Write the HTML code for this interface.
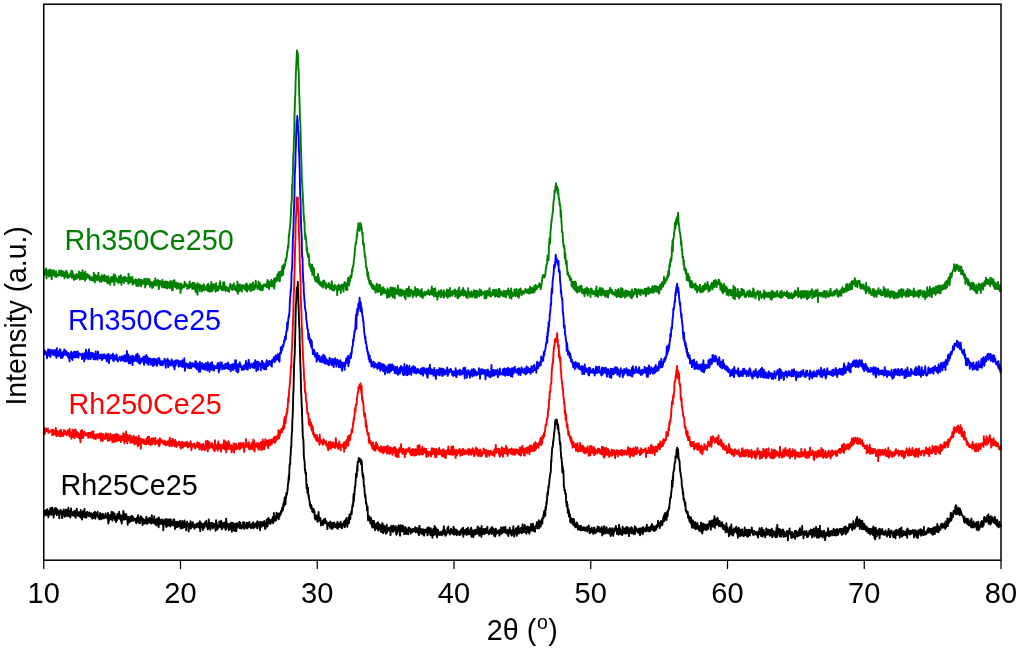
<!DOCTYPE html>
<html><head><meta charset="utf-8"><style>
html,body{margin:0;padding:0;background:#fff;width:1024px;height:649px;overflow:hidden}
svg{display:block;font-family:"Liberation Sans", sans-serif;will-change:transform}
</style></head><body>
<svg width="1024" height="649" viewBox="0 0 1024 649">
<rect width="1024" height="649" fill="#fff"/>
<polyline fill="none" stroke="#008000" stroke-width="1.9" stroke-linejoin="round" points="43.8,269.4 44.0,275.6 44.3,270.7 44.6,272.1 44.8,272.6 45.1,271.1 45.4,269.7 45.7,274.3 45.9,273.7 46.2,268.4 46.5,278.3 46.8,275.2 47.0,271.2 47.3,275.1 47.6,272.0 47.9,272.9 48.1,274.9 48.4,270.2 48.7,274.5 48.9,276.4 49.2,276.2 49.5,272.5 49.8,275.3 50.0,269.5 50.3,272.9 50.6,274.4 50.9,270.3 51.1,273.2 51.4,277.4 51.7,279.4 52.0,275.2 52.2,275.4 52.5,271.3 52.8,270.7 53.0,270.3 53.3,274.8 53.6,275.3 53.9,272.1 54.1,270.8 54.4,274.3 54.7,274.4 55.0,273.4 55.2,276.7 55.5,273.6 55.8,273.7 56.1,271.3 56.3,274.2 56.6,277.0 56.9,274.1 57.2,274.1 57.4,275.0 57.7,274.6 58.0,275.2 58.2,275.3 58.5,275.5 58.8,272.3 59.1,274.8 59.3,270.5 59.6,274.8 59.9,271.3 60.2,274.1 60.4,275.3 60.7,273.3 61.0,274.5 61.3,270.6 61.5,272.4 61.8,276.0 62.1,271.8 62.3,275.9 62.6,271.3 62.9,272.4 63.2,272.0 63.4,274.6 63.7,275.8 64.0,272.1 64.3,274.2 64.5,278.4 64.8,273.9 65.1,272.8 65.4,275.6 65.6,274.2 65.9,273.2 66.2,270.7 66.5,276.7 66.7,273.5 67.0,274.9 67.3,272.5 67.5,277.9 67.8,276.7 68.1,277.2 68.4,274.8 68.6,276.1 68.9,277.1 69.2,277.4 69.5,275.8 69.7,275.0 70.0,274.3 70.3,273.5 70.6,273.0 70.8,276.1 71.1,274.7 71.4,270.7 71.6,275.0 71.9,277.8 72.2,274.7 72.5,271.1 72.7,275.1 73.0,277.3 73.3,276.0 73.6,274.5 73.8,279.8 74.1,279.9 74.4,275.4 74.7,277.5 74.9,276.5 75.2,277.5 75.5,279.0 75.7,277.6 76.0,275.9 76.3,274.3 76.6,273.9 76.8,275.8 77.1,278.5 77.4,276.6 77.7,276.0 77.9,276.5 78.2,276.0 78.5,277.2 78.8,273.4 79.0,271.5 79.3,275.1 79.6,273.4 79.9,279.8 80.1,275.8 80.4,275.6 80.7,272.7 80.9,276.9 81.2,274.8 81.5,278.8 81.8,278.2 82.0,274.5 82.3,277.3 82.6,270.1 82.9,274.8 83.1,279.3 83.4,278.3 83.7,276.9 84.0,276.4 84.2,273.3 84.5,273.4 84.8,277.1 85.0,280.7 85.3,271.6 85.6,278.1 85.9,278.1 86.1,278.9 86.4,274.7 86.7,275.5 87.0,276.9 87.2,274.5 87.5,274.0 87.8,274.8 88.1,276.7 88.3,277.8 88.6,276.9 88.9,277.1 89.2,275.4 89.4,275.4 89.7,279.6 90.0,276.9 90.2,276.9 90.5,279.3 90.8,280.0 91.1,280.1 91.3,278.1 91.6,277.1 91.9,277.9 92.2,277.7 92.4,280.5 92.7,278.0 93.0,278.8 93.3,277.3 93.5,280.6 93.8,272.7 94.1,278.3 94.3,279.2 94.6,274.8 94.9,282.5 95.2,277.2 95.4,277.2 95.7,275.1 96.0,279.7 96.3,278.2 96.5,276.3 96.8,278.2 97.1,279.3 97.4,280.6 97.6,278.3 97.9,275.6 98.2,276.6 98.4,272.6 98.7,276.2 99.0,279.6 99.3,279.0 99.5,277.7 99.8,277.2 100.1,281.7 100.4,278.7 100.6,280.2 100.9,279.0 101.2,276.6 101.5,281.7 101.7,275.3 102.0,275.5 102.3,277.3 102.6,276.6 102.8,277.0 103.1,276.9 103.4,280.6 103.6,278.5 103.9,279.2 104.2,274.8 104.5,276.5 104.7,281.0 105.0,275.7 105.3,281.2 105.6,276.2 105.8,279.3 106.1,276.7 106.4,279.1 106.7,276.6 106.9,278.1 107.2,282.6 107.5,277.9 107.7,283.4 108.0,277.7 108.3,276.1 108.6,279.0 108.8,277.9 109.1,282.9 109.4,280.9 109.7,281.7 109.9,280.4 110.2,284.7 110.5,280.8 110.8,280.3 111.0,277.2 111.3,277.0 111.6,279.5 111.9,281.4 112.1,281.7 112.4,277.0 112.7,280.5 112.9,279.7 113.2,276.7 113.5,280.5 113.8,274.1 114.0,280.0 114.3,285.1 114.6,277.1 114.9,279.5 115.1,275.1 115.4,277.8 115.7,281.3 116.0,277.1 116.2,279.5 116.5,278.8 116.8,278.7 117.0,280.1 117.3,280.8 117.6,282.5 117.9,281.6 118.1,278.4 118.4,283.0 118.7,282.7 119.0,276.2 119.2,281.4 119.5,281.8 119.8,282.1 120.1,281.2 120.3,277.0 120.6,279.4 120.9,275.2 121.2,279.7 121.4,284.7 121.7,281.7 122.0,282.0 122.2,279.0 122.5,277.8 122.8,277.7 123.1,280.5 123.3,278.4 123.6,278.8 123.9,282.9 124.2,276.6 124.4,277.3 124.7,279.2 125.0,280.2 125.3,280.1 125.5,277.2 125.8,280.9 126.1,280.2 126.3,281.4 126.6,278.1 126.9,281.2 127.2,281.1 127.4,279.1 127.7,280.2 128.0,279.4 128.3,283.8 128.5,273.6 128.8,277.4 129.1,276.9 129.4,280.0 129.6,279.3 129.9,279.9 130.2,282.6 130.4,277.2 130.7,279.0 131.0,280.5 131.3,278.3 131.5,281.9 131.8,281.8 132.1,279.5 132.4,277.0 132.6,284.8 132.9,282.3 133.2,282.2 133.5,281.4 133.7,281.2 134.0,283.2 134.3,281.3 134.6,279.9 134.8,283.0 135.1,281.5 135.4,279.6 135.6,279.4 135.9,284.1 136.2,282.9 136.5,286.1 136.7,280.3 137.0,279.9 137.3,282.5 137.6,284.8 137.8,283.0 138.1,282.7 138.4,286.0 138.7,280.0 138.9,278.9 139.2,280.1 139.5,281.1 139.7,282.7 140.0,284.2 140.3,282.8 140.6,285.4 140.8,280.0 141.1,286.4 141.4,280.1 141.7,284.7 141.9,279.9 142.2,282.9 142.5,282.2 142.8,283.3 143.0,283.9 143.3,281.7 143.6,282.1 143.9,282.8 144.1,279.3 144.4,280.6 144.7,278.6 144.9,282.3 145.2,287.5 145.5,284.1 145.8,280.4 146.0,280.8 146.3,284.7 146.6,281.4 146.9,278.8 147.1,280.2 147.4,280.1 147.7,280.3 148.0,284.2 148.2,282.8 148.5,279.3 148.8,281.5 149.0,280.1 149.3,280.0 149.6,279.3 149.9,286.8 150.1,282.1 150.4,284.2 150.7,284.9 151.0,282.0 151.2,284.2 151.5,284.2 151.8,283.5 152.1,288.0 152.3,283.7 152.6,282.5 152.9,284.6 153.1,287.2 153.4,285.4 153.7,282.1 154.0,281.2 154.2,281.1 154.5,281.7 154.8,284.2 155.1,285.3 155.3,278.1 155.6,283.3 155.9,280.8 156.2,285.0 156.4,285.5 156.7,281.7 157.0,282.5 157.3,281.3 157.5,284.4 157.8,279.9 158.1,281.0 158.3,282.0 158.6,286.5 158.9,289.2 159.2,283.7 159.4,280.9 159.7,283.9 160.0,281.8 160.3,284.9 160.5,281.3 160.8,283.0 161.1,283.9 161.4,285.1 161.6,283.8 161.9,286.9 162.2,284.3 162.4,279.8 162.7,286.2 163.0,283.4 163.3,282.6 163.5,287.6 163.8,281.9 164.1,284.3 164.4,282.6 164.6,287.3 164.9,283.4 165.2,284.8 165.5,281.1 165.7,287.6 166.0,281.9 166.3,286.5 166.6,287.0 166.8,287.3 167.1,288.6 167.4,281.8 167.6,285.4 167.9,284.9 168.2,285.5 168.5,287.1 168.7,284.9 169.0,282.8 169.3,284.4 169.6,288.2 169.8,282.0 170.1,284.9 170.4,282.5 170.7,287.3 170.9,281.0 171.2,284.1 171.5,284.6 171.7,285.2 172.0,290.4 172.3,288.5 172.6,282.6 172.8,290.0 173.1,282.3 173.4,280.7 173.7,281.6 173.9,285.6 174.2,286.4 174.5,280.1 174.8,286.2 175.0,284.6 175.3,286.9 175.6,284.4 175.9,287.4 176.1,286.6 176.4,282.6 176.7,288.7 176.9,285.9 177.2,287.1 177.5,288.3 177.8,283.2 178.0,285.3 178.3,283.6 178.6,283.4 178.9,286.2 179.1,286.4 179.4,288.7 179.7,288.8 180.0,285.6 180.2,283.8 180.5,293.1 180.8,290.7 181.0,285.5 181.3,283.6 181.6,284.8 181.9,286.5 182.1,288.5 182.4,288.1 182.7,286.9 183.0,285.4 183.2,286.4 183.5,285.3 183.8,286.2 184.1,285.8 184.3,287.3 184.6,281.8 184.9,285.3 185.1,285.5 185.4,283.6 185.7,285.8 186.0,283.8 186.2,284.7 186.5,285.6 186.8,285.7 187.1,285.0 187.3,288.9 187.6,286.8 187.9,287.1 188.2,287.0 188.4,284.9 188.7,284.4 189.0,288.4 189.3,285.7 189.5,282.5 189.8,281.5 190.1,287.1 190.3,284.9 190.6,286.5 190.9,285.4 191.2,285.8 191.4,286.3 191.7,283.9 192.0,286.7 192.3,289.1 192.5,288.4 192.8,282.8 193.1,283.8 193.4,283.8 193.6,286.3 193.9,288.9 194.2,287.7 194.4,283.0 194.7,287.1 195.0,288.9 195.3,286.0 195.5,291.5 195.8,285.6 196.1,289.8 196.4,292.6 196.6,284.3 196.9,286.5 197.2,288.6 197.5,294.7 197.7,283.2 198.0,288.6 198.3,288.0 198.6,286.4 198.8,285.5 199.1,286.2 199.4,286.7 199.6,284.5 199.9,291.1 200.2,284.9 200.5,286.5 200.7,286.0 201.0,286.6 201.3,287.7 201.6,285.8 201.8,287.0 202.1,291.5 202.4,290.0 202.7,286.9 202.9,289.6 203.2,285.8 203.5,288.1 203.7,284.2 204.0,284.9 204.3,285.5 204.6,290.4 204.8,288.1 205.1,288.8 205.4,287.9 205.7,288.4 205.9,288.5 206.2,289.3 206.5,287.9 206.8,285.5 207.0,285.8 207.3,290.4 207.6,290.8 207.8,288.9 208.1,283.8 208.4,291.2 208.7,288.3 208.9,287.4 209.2,287.6 209.5,286.7 209.8,291.7 210.0,291.5 210.3,285.2 210.6,287.2 210.9,288.3 211.1,290.6 211.4,282.0 211.7,289.8 212.0,291.5 212.2,286.9 212.5,287.5 212.8,290.5 213.0,288.5 213.3,284.5 213.6,284.9 213.9,285.2 214.1,284.3 214.4,287.6 214.7,286.4 215.0,287.7 215.2,289.2 215.5,291.7 215.8,288.1 216.1,283.3 216.3,290.8 216.6,287.3 216.9,290.3 217.1,286.6 217.4,288.3 217.7,287.3 218.0,287.6 218.2,290.6 218.5,286.1 218.8,288.0 219.1,288.1 219.3,286.7 219.6,282.6 219.9,288.4 220.2,281.1 220.4,284.2 220.7,286.6 221.0,288.6 221.3,289.6 221.5,289.5 221.8,289.0 222.1,286.8 222.3,290.4 222.6,287.0 222.9,290.2 223.2,282.5 223.4,285.4 223.7,286.3 224.0,287.6 224.3,282.1 224.5,289.5 224.8,289.9 225.1,289.5 225.4,286.4 225.6,291.0 225.9,286.4 226.2,289.7 226.4,287.5 226.7,287.6 227.0,287.3 227.3,287.6 227.5,290.2 227.8,291.0 228.1,290.9 228.4,289.7 228.6,289.2 228.9,288.7 229.2,291.7 229.5,286.6 229.7,286.2 230.0,287.7 230.3,283.8 230.6,287.1 230.8,287.5 231.1,285.2 231.4,286.3 231.6,289.2 231.9,287.1 232.2,287.8 232.5,290.0 232.7,286.2 233.0,285.0 233.3,287.5 233.6,288.6 233.8,283.4 234.1,289.1 234.4,286.9 234.7,286.6 234.9,285.6 235.2,287.1 235.5,289.8 235.7,288.8 236.0,289.4 236.3,286.7 236.6,291.2 236.8,290.5 237.1,287.5 237.4,281.5 237.7,287.7 237.9,293.9 238.2,287.4 238.5,285.2 238.8,291.5 239.0,286.1 239.3,288.6 239.6,289.3 239.8,284.1 240.1,287.8 240.4,290.2 240.7,286.7 240.9,289.0 241.2,287.4 241.5,289.8 241.8,291.7 242.0,284.9 242.3,286.8 242.6,288.3 242.9,286.0 243.1,285.5 243.4,286.6 243.7,286.8 244.0,285.9 244.2,288.1 244.5,289.2 244.8,289.1 245.0,288.9 245.3,290.1 245.6,284.2 245.9,287.0 246.1,287.7 246.4,288.5 246.7,283.5 247.0,291.6 247.2,285.2 247.5,287.8 247.8,288.9 248.1,289.7 248.3,285.6 248.6,285.9 248.9,288.0 249.1,288.5 249.4,289.2 249.7,287.0 250.0,285.5 250.2,284.0 250.5,291.1 250.8,283.9 251.1,288.6 251.3,287.6 251.6,288.7 251.9,289.2 252.2,290.1 252.4,286.8 252.7,287.8 253.0,282.4 253.3,287.0 253.5,284.7 253.8,286.5 254.1,289.7 254.3,287.0 254.6,289.3 254.9,286.3 255.2,287.6 255.4,285.7 255.7,280.8 256.0,285.0 256.3,286.0 256.5,286.9 256.8,286.5 257.1,286.2 257.4,288.7 257.6,287.9 257.9,285.5 258.2,288.4 258.4,281.7 258.7,285.6 259.0,285.9 259.3,289.2 259.5,284.9 259.8,282.7 260.1,286.5 260.4,290.0 260.6,285.5 260.9,285.8 261.2,285.5 261.5,286.0 261.7,288.9 262.0,290.4 262.3,286.9 262.5,285.5 262.8,290.0 263.1,285.8 263.4,285.7 263.6,284.7 263.9,284.7 264.2,285.9 264.5,284.7 264.7,286.2 265.0,285.4 265.3,286.4 265.6,284.2 265.8,284.5 266.1,285.5 266.4,285.0 266.7,285.0 266.9,287.4 267.2,282.1 267.5,280.0 267.7,286.1 268.0,283.8 268.3,287.4 268.6,284.0 268.8,281.4 269.1,289.1 269.4,284.8 269.7,282.7 269.9,281.9 270.2,284.9 270.5,281.9 270.8,284.2 271.0,285.9 271.3,279.8 271.6,282.1 271.8,283.9 272.1,286.6 272.4,284.7 272.7,281.3 272.9,285.7 273.2,281.2 273.5,281.5 273.8,282.6 274.0,279.0 274.3,288.6 274.6,284.0 274.9,281.5 275.1,279.5 275.4,277.9 275.7,281.2 276.0,281.8 276.2,279.0 276.5,279.2 276.8,280.7 277.0,279.0 277.3,274.5 277.6,280.2 277.9,278.9 278.1,279.7 278.4,275.9 278.7,272.3 279.0,274.0 279.2,277.3 279.5,281.2 279.8,281.4 280.1,276.1 280.3,271.5 280.6,273.7 280.9,275.1 281.1,274.6 281.4,273.3 281.7,275.7 282.0,269.8 282.2,266.2 282.5,268.6 282.8,267.3 283.1,274.7 283.3,268.2 283.6,264.4 283.9,268.5 284.2,268.6 284.4,265.4 284.7,264.7 285.0,265.7 285.3,263.4 285.5,259.3 285.8,261.3 286.1,260.8 286.3,258.0 286.6,257.9 286.9,255.6 287.2,251.9 287.4,250.4 287.7,250.4 288.0,245.5 288.3,247.6 288.5,245.5 288.8,234.8 289.1,237.1 289.4,232.5 289.6,229.8 289.9,228.5 290.2,224.2 290.4,222.3 290.7,217.6 291.0,213.3 291.3,205.5 291.5,201.6 291.8,201.0 292.1,184.3 292.4,189.6 292.6,176.5 292.9,174.2 293.2,155.6 293.5,153.8 293.7,149.0 294.0,138.0 294.3,131.3 294.5,116.1 294.8,107.4 295.1,97.6 295.4,92.1 295.6,83.2 295.9,73.3 296.2,65.7 296.5,59.8 296.7,56.7 297.0,50.4 297.3,52.4 297.6,52.8 297.8,53.9 298.1,57.9 298.4,70.3 298.7,70.1 298.9,81.3 299.2,93.0 299.5,100.0 299.7,107.2 300.0,119.8 300.3,121.8 300.6,131.7 300.8,143.3 301.1,152.4 301.4,161.0 301.7,174.5 301.9,181.2 302.2,183.2 302.5,190.5 302.8,193.3 303.0,202.2 303.3,202.9 303.6,215.1 303.8,214.5 304.1,221.5 304.4,220.5 304.7,231.1 304.9,232.5 305.2,239.0 305.5,237.1 305.8,235.5 306.0,240.1 306.3,241.3 306.6,250.6 306.9,247.2 307.1,248.8 307.4,253.9 307.7,254.8 308.0,256.9 308.2,256.0 308.5,253.7 308.8,256.6 309.0,255.8 309.3,265.4 309.6,265.6 309.9,263.6 310.1,267.0 310.4,268.0 310.7,268.8 311.0,269.4 311.2,271.0 311.5,269.9 311.8,265.1 312.1,264.5 312.3,274.7 312.6,273.8 312.9,266.9 313.1,273.9 313.4,271.9 313.7,273.2 314.0,268.8 314.2,277.3 314.5,275.7 314.8,278.3 315.1,279.4 315.3,280.2 315.6,281.4 315.9,278.6 316.2,278.8 316.4,277.1 316.7,280.2 317.0,278.6 317.2,276.7 317.5,282.6 317.8,281.7 318.1,274.0 318.3,276.2 318.6,280.3 318.9,277.9 319.2,284.2 319.4,281.9 319.7,283.1 320.0,284.1 320.3,285.3 320.5,281.7 320.8,284.0 321.1,283.3 321.4,284.7 321.6,284.3 321.9,286.5 322.2,284.6 322.4,282.4 322.7,283.9 323.0,281.1 323.3,284.7 323.5,287.6 323.8,282.8 324.1,280.4 324.4,284.2 324.6,283.3 324.9,284.6 325.2,283.4 325.5,285.0 325.7,282.6 326.0,288.7 326.3,284.6 326.5,286.4 326.8,287.1 327.1,285.1 327.4,286.6 327.6,285.0 327.9,284.6 328.2,285.2 328.5,287.0 328.7,282.9 329.0,283.8 329.3,284.1 329.6,284.8 329.8,288.9 330.1,286.1 330.4,285.6 330.7,286.7 330.9,288.9 331.2,284.7 331.5,288.9 331.7,281.1 332.0,284.5 332.3,290.1 332.6,290.3 332.8,287.2 333.1,285.8 333.4,288.7 333.7,285.9 333.9,290.5 334.2,289.7 334.5,288.7 334.8,285.0 335.0,289.3 335.3,286.4 335.6,286.5 335.8,286.1 336.1,286.8 336.4,288.3 336.7,289.1 336.9,289.1 337.2,295.1 337.5,286.4 337.8,289.9 338.0,285.6 338.3,286.7 338.6,284.5 338.9,290.0 339.1,287.8 339.4,287.5 339.7,286.9 340.0,289.3 340.2,286.0 340.5,288.1 340.8,293.0 341.0,286.7 341.3,285.6 341.6,284.7 341.9,288.9 342.1,287.1 342.4,285.1 342.7,284.9 343.0,286.9 343.2,284.4 343.5,291.6 343.8,286.1 344.1,286.1 344.3,286.2 344.6,282.1 344.9,282.8 345.1,285.2 345.4,285.9 345.7,282.9 346.0,289.6 346.2,286.5 346.5,288.2 346.8,287.7 347.1,284.1 347.3,290.1 347.6,284.3 347.9,279.2 348.2,277.8 348.4,282.8 348.7,284.4 349.0,281.9 349.2,285.3 349.5,279.8 349.8,281.1 350.1,280.7 350.3,275.7 350.6,277.9 350.9,277.1 351.2,277.7 351.4,276.8 351.7,275.0 352.0,269.4 352.3,271.6 352.5,270.9 352.8,266.7 353.1,266.8 353.4,265.0 353.6,264.1 353.9,259.4 354.2,258.4 354.4,255.6 354.7,253.1 355.0,249.2 355.3,247.6 355.5,243.3 355.8,243.3 356.1,243.3 356.4,240.9 356.6,239.0 356.9,234.6 357.2,236.4 357.5,229.7 357.7,231.1 358.0,228.6 358.3,224.2 358.5,223.1 358.8,225.9 359.1,223.3 359.4,223.5 359.6,230.7 359.9,224.3 360.2,223.6 360.5,225.9 360.7,223.3 361.0,225.6 361.3,228.7 361.6,227.0 361.8,230.9 362.1,232.4 362.4,235.2 362.7,232.6 362.9,243.9 363.2,241.4 363.5,245.3 363.7,243.7 364.0,245.3 364.3,251.0 364.6,252.4 364.8,257.0 365.1,255.3 365.4,257.2 365.7,262.5 365.9,265.3 366.2,267.7 366.5,267.1 366.8,269.5 367.0,268.6 367.3,275.1 367.6,276.1 367.8,277.3 368.1,272.1 368.4,279.1 368.7,276.4 368.9,280.3 369.2,281.0 369.5,283.7 369.8,281.2 370.0,281.5 370.3,280.6 370.6,280.8 370.9,285.4 371.1,282.5 371.4,286.6 371.7,284.5 371.9,284.5 372.2,288.4 372.5,288.5 372.8,284.4 373.0,286.6 373.3,287.2 373.6,289.0 373.9,285.9 374.1,286.9 374.4,287.7 374.7,289.8 375.0,290.4 375.2,287.2 375.5,292.6 375.8,289.7 376.1,287.0 376.3,285.3 376.6,287.9 376.9,283.6 377.1,289.6 377.4,290.6 377.7,292.3 378.0,290.6 378.2,285.6 378.5,288.9 378.8,291.3 379.1,284.7 379.3,287.9 379.6,291.3 379.9,290.0 380.2,285.3 380.4,288.9 380.7,290.1 381.0,294.9 381.2,289.2 381.5,288.1 381.8,290.8 382.1,291.1 382.3,291.7 382.6,293.7 382.9,290.3 383.2,287.3 383.4,290.6 383.7,290.6 384.0,292.9 384.3,292.6 384.5,289.0 384.8,292.5 385.1,293.1 385.4,290.4 385.6,293.0 385.9,291.3 386.2,291.3 386.4,290.6 386.7,292.8 387.0,297.6 387.3,291.6 387.5,288.4 387.8,290.6 388.1,289.8 388.4,291.9 388.6,290.9 388.9,297.1 389.2,293.0 389.5,295.5 389.7,289.7 390.0,290.8 390.3,296.1 390.5,287.5 390.8,291.7 391.1,287.8 391.4,295.0 391.6,288.2 391.9,290.8 392.2,291.1 392.5,287.6 392.7,297.2 393.0,291.2 393.3,295.4 393.6,290.0 393.8,288.2 394.1,292.1 394.4,292.1 394.7,298.4 394.9,289.3 395.2,288.1 395.5,290.1 395.7,292.4 396.0,293.1 396.3,290.0 396.6,291.0 396.8,293.1 397.1,294.3 397.4,290.5 397.7,292.1 397.9,285.5 398.2,289.6 398.5,292.9 398.8,291.9 399.0,291.5 399.3,295.6 399.6,291.3 399.8,289.4 400.1,292.5 400.4,292.5 400.7,289.4 400.9,294.3 401.2,296.0 401.5,290.7 401.8,290.0 402.0,291.9 402.3,295.0 402.6,290.8 402.9,290.4 403.1,290.8 403.4,292.7 403.7,292.7 403.9,291.8 404.2,295.0 404.5,297.4 404.8,290.9 405.0,294.6 405.3,292.9 405.6,299.2 405.9,290.2 406.1,291.5 406.4,292.5 406.7,289.0 407.0,291.8 407.2,294.0 407.5,289.0 407.8,292.6 408.1,296.5 408.3,291.0 408.6,290.3 408.9,286.6 409.1,292.2 409.4,288.7 409.7,293.7 410.0,296.2 410.2,293.7 410.5,290.6 410.8,294.0 411.1,291.4 411.3,289.9 411.6,291.3 411.9,293.1 412.2,291.7 412.4,293.7 412.7,297.5 413.0,294.0 413.2,294.3 413.5,291.0 413.8,295.6 414.1,293.4 414.3,294.9 414.6,290.8 414.9,293.2 415.2,287.2 415.4,291.8 415.7,290.7 416.0,290.3 416.3,296.7 416.5,289.1 416.8,292.3 417.1,292.3 417.4,293.9 417.6,295.0 417.9,289.0 418.2,291.5 418.4,291.1 418.7,294.3 419.0,294.9 419.3,291.8 419.5,291.5 419.8,290.4 420.1,293.6 420.4,296.6 420.6,293.6 420.9,291.2 421.2,290.9 421.5,291.2 421.7,289.0 422.0,296.8 422.3,293.0 422.5,292.1 422.8,298.0 423.1,293.4 423.4,296.3 423.6,293.5 423.9,295.4 424.2,293.0 424.5,292.0 424.7,293.8 425.0,294.6 425.3,295.4 425.6,293.4 425.8,292.3 426.1,292.1 426.4,293.7 426.6,291.8 426.9,292.2 427.2,294.2 427.5,294.3 427.7,294.1 428.0,291.3 428.3,289.7 428.6,293.6 428.8,293.3 429.1,292.1 429.4,293.5 429.7,295.0 429.9,292.6 430.2,294.0 430.5,290.8 430.8,292.6 431.0,291.1 431.3,289.7 431.6,294.1 431.8,286.5 432.1,292.9 432.4,294.9 432.7,294.0 432.9,289.5 433.2,293.6 433.5,288.9 433.8,291.1 434.0,296.4 434.3,293.5 434.6,295.8 434.9,290.6 435.1,288.3 435.4,291.4 435.7,296.1 435.9,295.3 436.2,295.6 436.5,292.8 436.8,292.9 437.0,292.7 437.3,299.8 437.6,293.4 437.9,297.2 438.1,292.8 438.4,296.4 438.7,290.7 439.0,292.0 439.2,294.0 439.5,291.9 439.8,292.3 440.1,292.8 440.3,292.0 440.6,296.8 440.9,295.8 441.1,290.0 441.4,297.2 441.7,293.2 442.0,293.2 442.2,292.9 442.5,295.3 442.8,294.9 443.1,292.1 443.3,293.4 443.6,290.3 443.9,297.6 444.2,291.3 444.4,291.3 444.7,291.7 445.0,293.6 445.2,295.0 445.5,292.5 445.8,293.4 446.1,292.6 446.3,296.3 446.6,293.9 446.9,289.4 447.2,296.8 447.4,294.1 447.7,297.8 448.0,292.0 448.3,292.2 448.5,293.0 448.8,290.1 449.1,292.5 449.4,296.3 449.6,295.0 449.9,287.9 450.2,296.4 450.4,294.2 450.7,295.3 451.0,293.5 451.3,293.9 451.5,293.6 451.8,293.5 452.1,291.0 452.4,295.8 452.6,293.9 452.9,294.3 453.2,294.2 453.5,292.7 453.7,293.3 454.0,290.4 454.3,294.1 454.5,294.1 454.8,292.9 455.1,289.5 455.4,296.6 455.6,293.1 455.9,293.4 456.2,292.8 456.5,292.1 456.7,292.6 457.0,290.9 457.3,292.1 457.6,298.3 457.8,296.2 458.1,298.1 458.4,292.1 458.6,289.2 458.9,290.4 459.2,287.4 459.5,296.0 459.7,296.3 460.0,293.8 460.3,294.4 460.6,294.4 460.8,293.3 461.1,295.2 461.4,291.2 461.7,292.5 461.9,293.2 462.2,289.6 462.5,291.2 462.8,294.6 463.0,294.3 463.3,287.9 463.6,295.7 463.8,294.4 464.1,295.3 464.4,293.4 464.7,294.9 464.9,290.6 465.2,293.1 465.5,291.1 465.8,292.4 466.0,296.3 466.3,297.3 466.6,293.7 466.9,292.6 467.1,295.4 467.4,294.6 467.7,298.0 467.9,295.0 468.2,288.2 468.5,293.7 468.8,292.9 469.0,291.7 469.3,293.9 469.6,293.7 469.9,292.8 470.1,297.1 470.4,294.5 470.7,294.5 471.0,294.0 471.2,296.4 471.5,291.1 471.8,296.4 472.1,293.1 472.3,297.0 472.6,296.9 472.9,294.8 473.1,292.6 473.4,294.3 473.7,294.4 474.0,290.3 474.2,292.9 474.5,292.0 474.8,296.8 475.1,297.6 475.3,292.0 475.6,292.4 475.9,290.6 476.2,294.2 476.4,295.5 476.7,297.8 477.0,290.7 477.2,295.8 477.5,293.3 477.8,292.0 478.1,292.8 478.3,291.9 478.6,294.7 478.9,293.6 479.2,296.4 479.4,292.4 479.7,289.3 480.0,291.4 480.3,294.4 480.5,290.3 480.8,291.9 481.1,294.9 481.3,290.5 481.6,295.6 481.9,294.4 482.2,292.3 482.4,293.5 482.7,292.5 483.0,292.7 483.3,292.9 483.5,293.7 483.8,293.4 484.1,291.9 484.4,291.4 484.6,298.4 484.9,291.1 485.2,293.3 485.5,296.4 485.7,295.9 486.0,292.0 486.3,298.2 486.5,297.7 486.8,292.9 487.1,290.8 487.4,295.1 487.6,293.2 487.9,293.0 488.2,291.8 488.5,292.3 488.7,294.0 489.0,295.7 489.3,288.9 489.6,288.2 489.8,295.8 490.1,291.7 490.4,295.2 490.6,293.9 490.9,296.5 491.2,295.7 491.5,293.0 491.7,293.2 492.0,294.4 492.3,295.3 492.6,292.2 492.8,290.1 493.1,293.8 493.4,293.5 493.7,293.2 493.9,291.3 494.2,295.0 494.5,289.6 494.8,292.5 495.0,296.6 495.3,291.0 495.6,294.6 495.8,294.6 496.1,294.6 496.4,289.7 496.7,295.9 496.9,293.9 497.2,294.7 497.5,294.3 497.8,293.7 498.0,296.4 498.3,296.9 498.6,289.3 498.9,291.8 499.1,293.2 499.4,288.6 499.7,296.9 499.9,291.8 500.2,294.9 500.5,294.1 500.8,293.1 501.0,291.2 501.3,292.7 501.6,293.7 501.9,295.3 502.1,293.1 502.4,292.6 502.7,293.0 503.0,296.5 503.2,294.2 503.5,292.0 503.8,290.6 504.1,292.6 504.3,291.4 504.6,292.5 504.9,296.6 505.1,295.1 505.4,294.0 505.7,294.4 506.0,297.4 506.2,290.8 506.5,294.5 506.8,293.0 507.1,293.7 507.3,293.6 507.6,292.7 507.9,294.6 508.2,288.4 508.4,294.0 508.7,294.9 509.0,291.2 509.2,291.1 509.5,297.7 509.8,291.3 510.1,292.5 510.3,291.5 510.6,291.9 510.9,291.8 511.2,288.4 511.4,298.7 511.7,291.6 512.0,294.1 512.3,293.1 512.5,296.3 512.8,294.8 513.1,295.8 513.3,295.9 513.6,295.1 513.9,293.2 514.2,295.2 514.4,289.5 514.7,295.2 515.0,294.7 515.3,293.8 515.5,290.0 515.8,296.1 516.1,291.5 516.4,294.5 516.6,288.8 516.9,292.6 517.2,291.5 517.5,291.2 517.7,291.4 518.0,297.0 518.3,292.8 518.5,293.6 518.8,297.7 519.1,289.5 519.4,296.3 519.6,291.9 519.9,291.3 520.2,291.8 520.5,288.5 520.7,289.1 521.0,290.0 521.3,291.3 521.6,294.2 521.8,295.0 522.1,291.7 522.4,293.3 522.6,293.4 522.9,291.9 523.2,292.9 523.5,291.0 523.7,293.6 524.0,291.7 524.3,292.3 524.6,292.8 524.8,292.5 525.1,290.4 525.4,289.0 525.7,291.9 525.9,290.7 526.2,290.7 526.5,291.6 526.8,290.2 527.0,292.8 527.3,292.6 527.6,289.6 527.8,292.5 528.1,289.3 528.4,293.2 528.7,292.9 528.9,291.4 529.2,293.4 529.5,293.6 529.8,292.2 530.0,286.9 530.3,291.4 530.6,291.4 530.9,292.8 531.1,288.6 531.4,292.4 531.7,291.5 531.9,291.5 532.2,287.6 532.5,288.4 532.8,292.9 533.0,292.1 533.3,289.9 533.6,292.5 533.9,290.5 534.1,288.8 534.4,286.0 534.7,291.9 535.0,289.1 535.2,289.9 535.5,285.0 535.8,287.8 536.0,289.6 536.3,288.2 536.6,286.9 536.9,285.9 537.1,288.7 537.4,287.2 537.7,287.1 538.0,287.0 538.2,285.9 538.5,286.4 538.8,285.5 539.1,286.8 539.3,283.2 539.6,283.6 539.9,285.9 540.2,285.1 540.4,285.5 540.7,289.4 541.0,286.1 541.2,286.5 541.5,284.4 541.8,282.6 542.1,280.5 542.3,277.4 542.6,277.9 542.9,275.0 543.2,277.2 543.4,275.3 543.7,275.9 544.0,277.3 544.3,275.4 544.5,277.5 544.8,276.5 545.1,275.6 545.3,274.1 545.6,271.4 545.9,268.1 546.2,269.0 546.4,265.8 546.7,264.3 547.0,264.1 547.3,258.7 547.5,255.5 547.8,258.3 548.1,259.9 548.4,256.1 548.6,260.4 548.9,245.3 549.2,244.8 549.5,238.2 549.7,239.2 550.0,243.6 550.3,240.2 550.5,230.7 550.8,229.7 551.1,225.6 551.4,221.3 551.6,221.3 551.9,218.2 552.2,216.4 552.5,213.9 552.7,212.3 553.0,211.3 553.3,204.7 553.6,201.7 553.8,199.9 554.1,198.7 554.4,195.0 554.6,190.7 554.9,190.2 555.2,192.1 555.5,186.0 555.7,190.1 556.0,183.2 556.3,188.4 556.6,188.2 556.8,186.1 557.1,187.1 557.4,187.3 557.7,193.6 557.9,189.0 558.2,189.8 558.5,194.6 558.8,198.6 559.0,198.6 559.3,199.6 559.6,205.3 559.8,203.1 560.1,205.7 560.4,207.3 560.7,216.6 560.9,210.4 561.2,215.8 561.5,222.7 561.8,226.0 562.0,232.3 562.3,231.7 562.6,232.2 562.9,239.7 563.1,241.5 563.4,244.4 563.7,246.7 563.9,247.7 564.2,245.2 564.5,248.5 564.8,258.2 565.0,255.6 565.3,253.0 565.6,259.6 565.9,263.6 566.1,264.0 566.4,264.8 566.7,260.8 567.0,268.0 567.2,269.0 567.5,274.6 567.8,271.9 568.0,273.0 568.3,273.2 568.6,275.0 568.9,276.9 569.1,276.0 569.4,276.0 569.7,276.0 570.0,279.9 570.2,279.5 570.5,280.3 570.8,278.1 571.1,280.3 571.3,278.4 571.6,285.5 571.9,286.5 572.2,285.1 572.4,284.3 572.7,286.0 573.0,281.9 573.2,282.6 573.5,288.7 573.8,283.8 574.1,286.4 574.3,285.2 574.6,281.4 574.9,285.7 575.2,289.3 575.4,290.7 575.7,282.0 576.0,284.4 576.3,286.9 576.5,290.6 576.8,291.3 577.1,292.3 577.3,292.7 577.6,288.0 577.9,286.8 578.2,291.3 578.4,288.7 578.7,289.5 579.0,288.7 579.3,288.7 579.5,291.8 579.8,287.5 580.1,285.9 580.4,288.4 580.6,290.3 580.9,289.5 581.2,289.9 581.5,285.8 581.7,288.4 582.0,293.0 582.3,290.2 582.5,289.1 582.8,293.3 583.1,289.5 583.4,292.5 583.6,291.4 583.9,291.8 584.2,293.4 584.5,296.2 584.7,294.0 585.0,289.2 585.3,288.6 585.6,290.5 585.8,290.9 586.1,292.9 586.4,291.4 586.6,291.9 586.9,287.5 587.2,291.4 587.5,292.8 587.7,295.5 588.0,293.4 588.3,291.9 588.6,289.0 588.8,291.7 589.1,291.8 589.4,291.5 589.7,292.2 589.9,293.0 590.2,292.9 590.5,297.0 590.7,289.7 591.0,288.4 591.3,292.9 591.6,289.2 591.8,291.6 592.1,291.9 592.4,290.2 592.7,293.9 592.9,293.6 593.2,292.5 593.5,293.6 593.8,294.2 594.0,291.5 594.3,293.6 594.6,292.6 594.9,292.3 595.1,291.2 595.4,296.3 595.7,293.1 595.9,289.1 596.2,293.5 596.5,286.5 596.8,293.0 597.0,294.2 597.3,295.7 597.6,292.9 597.9,290.9 598.1,297.0 598.4,294.9 598.7,295.5 599.0,292.0 599.2,294.0 599.5,288.5 599.8,293.7 600.0,287.7 600.3,290.2 600.6,289.2 600.9,295.2 601.1,294.7 601.4,291.3 601.7,295.5 602.0,292.8 602.2,288.1 602.5,291.8 602.8,288.7 603.1,292.9 603.3,293.5 603.6,291.0 603.9,294.6 604.2,295.2 604.4,290.7 604.7,294.1 605.0,292.5 605.2,292.1 605.5,296.7 605.8,291.2 606.1,292.0 606.3,292.6 606.6,294.1 606.9,294.6 607.2,290.7 607.4,296.0 607.7,297.1 608.0,297.5 608.3,293.2 608.5,291.7 608.8,290.4 609.1,293.7 609.3,292.7 609.6,292.7 609.9,291.5 610.2,287.8 610.4,292.2 610.7,292.5 611.0,292.1 611.3,289.6 611.5,292.3 611.8,292.6 612.1,290.3 612.4,294.4 612.6,292.8 612.9,293.2 613.2,293.8 613.5,292.4 613.7,292.8 614.0,294.2 614.3,294.7 614.5,295.0 614.8,292.5 615.1,294.7 615.4,295.6 615.6,289.7 615.9,292.0 616.2,292.9 616.5,293.0 616.7,297.1 617.0,295.7 617.3,292.7 617.6,292.7 617.8,289.7 618.1,290.7 618.4,296.1 618.6,289.0 618.9,294.4 619.2,291.3 619.5,292.3 619.7,292.7 620.0,297.2 620.3,293.8 620.6,294.1 620.8,295.3 621.1,287.9 621.4,297.3 621.7,289.1 621.9,291.3 622.2,294.6 622.5,290.1 622.7,289.0 623.0,295.7 623.3,292.3 623.6,295.2 623.8,294.1 624.1,292.5 624.4,296.9 624.7,292.4 624.9,297.6 625.2,290.9 625.5,290.7 625.8,291.4 626.0,293.5 626.3,290.4 626.6,291.4 626.9,296.3 627.1,293.4 627.4,295.6 627.7,293.8 627.9,291.6 628.2,291.2 628.5,293.4 628.8,293.1 629.0,291.7 629.3,291.7 629.6,296.3 629.9,295.3 630.1,293.6 630.4,292.1 630.7,291.9 631.0,297.5 631.2,291.5 631.5,298.2 631.8,291.4 632.0,289.4 632.3,297.5 632.6,292.6 632.9,296.4 633.1,293.8 633.4,292.3 633.7,295.0 634.0,292.1 634.2,293.8 634.5,292.4 634.8,288.7 635.1,293.7 635.3,291.5 635.6,292.4 635.9,293.6 636.2,289.4 636.4,293.9 636.7,294.0 637.0,297.1 637.2,294.5 637.5,293.4 637.8,291.1 638.1,292.5 638.3,289.3 638.6,293.5 638.9,292.1 639.2,291.6 639.4,292.5 639.7,293.5 640.0,293.0 640.3,289.7 640.5,295.4 640.8,292.4 641.1,293.1 641.3,292.3 641.6,290.1 641.9,292.9 642.2,291.3 642.4,290.2 642.7,292.5 643.0,293.9 643.3,293.5 643.5,292.5 643.8,290.6 644.1,291.3 644.4,291.7 644.6,288.7 644.9,293.8 645.2,292.1 645.4,288.9 645.7,295.3 646.0,296.2 646.3,288.8 646.5,291.3 646.8,289.8 647.1,293.4 647.4,288.4 647.6,292.7 647.9,292.4 648.2,294.0 648.5,287.1 648.7,289.6 649.0,290.8 649.3,293.4 649.6,291.4 649.8,292.9 650.1,292.1 650.4,289.0 650.6,290.7 650.9,290.0 651.2,290.1 651.5,288.7 651.7,292.4 652.0,291.3 652.3,286.2 652.6,292.2 652.8,289.1 653.1,286.9 653.4,293.0 653.7,290.1 653.9,290.9 654.2,289.7 654.5,289.8 654.7,285.6 655.0,291.4 655.3,287.9 655.6,289.5 655.8,289.2 656.1,287.0 656.4,286.3 656.7,288.7 656.9,291.8 657.2,287.2 657.5,287.2 657.8,288.7 658.0,287.0 658.3,291.2 658.6,289.1 658.9,293.6 659.1,288.2 659.4,292.6 659.7,286.0 659.9,287.6 660.2,284.5 660.5,285.8 660.8,285.8 661.0,287.7 661.3,289.2 661.6,285.1 661.9,282.1 662.1,285.2 662.4,284.5 662.7,283.4 663.0,286.3 663.2,286.6 663.5,281.9 663.8,281.5 664.0,276.7 664.3,280.8 664.6,283.8 664.9,279.2 665.1,283.0 665.4,281.9 665.7,281.2 666.0,280.7 666.2,278.4 666.5,280.3 666.8,279.7 667.1,277.2 667.3,275.5 667.6,277.8 667.9,277.4 668.2,271.3 668.4,273.8 668.7,270.8 669.0,275.2 669.2,267.5 669.5,265.5 669.8,263.4 670.1,266.4 670.3,260.0 670.6,262.6 670.9,258.0 671.2,260.8 671.4,259.4 671.7,256.4 672.0,246.7 672.3,245.7 672.5,240.3 672.8,251.5 673.1,241.0 673.3,239.0 673.6,237.8 673.9,236.8 674.2,232.0 674.4,230.7 674.7,228.3 675.0,222.8 675.3,229.0 675.5,227.1 675.8,221.1 676.1,219.4 676.4,223.7 676.6,224.5 676.9,217.8 677.2,219.2 677.4,216.8 677.7,219.3 678.0,212.6 678.3,214.6 678.5,223.1 678.8,223.0 679.1,226.4 679.4,227.6 679.6,231.1 679.9,232.4 680.2,233.6 680.5,237.5 680.7,237.0 681.0,244.7 681.3,241.0 681.6,244.7 681.8,250.3 682.1,249.3 682.4,254.7 682.6,257.9 682.9,258.2 683.2,257.0 683.5,264.6 683.7,262.7 684.0,260.8 684.3,269.6 684.6,266.6 684.8,269.0 685.1,270.9 685.4,268.7 685.7,273.3 685.9,269.2 686.2,270.8 686.5,273.2 686.7,280.3 687.0,277.3 687.3,279.5 687.6,276.4 687.8,279.4 688.1,273.8 688.4,278.8 688.7,281.1 688.9,279.2 689.2,276.4 689.5,277.7 689.8,283.6 690.0,285.7 690.3,282.1 690.6,287.1 690.9,280.7 691.1,285.5 691.4,285.1 691.7,287.2 691.9,281.5 692.2,287.7 692.5,285.8 692.8,283.8 693.0,285.0 693.3,285.8 693.6,287.2 693.9,284.7 694.1,284.9 694.4,287.3 694.7,287.2 695.0,288.6 695.2,289.7 695.5,283.4 695.8,287.7 696.0,288.6 696.3,288.3 696.6,285.8 696.9,290.1 697.1,292.5 697.4,288.2 697.7,286.8 698.0,290.6 698.2,288.9 698.5,289.2 698.8,289.5 699.1,288.0 699.3,289.1 699.6,287.5 699.9,284.6 700.1,291.7 700.4,290.0 700.7,289.2 701.0,292.5 701.2,289.0 701.5,292.0 701.8,291.3 702.1,288.7 702.3,286.5 702.6,290.5 702.9,289.9 703.2,291.7 703.4,285.7 703.7,289.0 704.0,289.7 704.3,289.9 704.5,289.3 704.8,289.7 705.1,283.5 705.3,288.1 705.6,287.1 705.9,285.0 706.2,288.7 706.4,287.4 706.7,285.5 707.0,284.8 707.3,288.7 707.5,281.8 707.8,287.4 708.1,284.8 708.4,287.6 708.6,291.6 708.9,289.3 709.2,286.5 709.4,290.0 709.7,290.7 710.0,288.4 710.3,290.2 710.5,286.1 710.8,286.9 711.1,285.0 711.4,284.1 711.6,284.8 711.9,282.7 712.2,284.1 712.5,289.3 712.7,285.6 713.0,283.2 713.3,287.6 713.6,286.8 713.8,280.6 714.1,281.4 714.4,287.0 714.6,283.0 714.9,283.2 715.2,281.4 715.5,280.0 715.7,285.3 716.0,280.7 716.3,283.9 716.6,287.1 716.8,284.0 717.1,282.3 717.4,284.4 717.7,284.4 717.9,282.1 718.2,284.0 718.5,280.7 718.7,279.6 719.0,282.7 719.3,280.0 719.6,282.9 719.8,284.4 720.1,285.3 720.4,289.6 720.7,283.2 720.9,284.6 721.2,284.9 721.5,283.8 721.8,291.3 722.0,284.9 722.3,286.4 722.6,286.8 722.9,293.3 723.1,287.0 723.4,286.2 723.7,291.2 723.9,286.9 724.2,283.8 724.5,291.6 724.8,291.4 725.0,286.0 725.3,286.7 725.6,289.7 725.9,287.7 726.1,286.6 726.4,287.5 726.7,294.7 727.0,293.2 727.2,288.3 727.5,290.6 727.8,291.3 728.0,290.4 728.3,291.3 728.6,295.6 728.9,290.1 729.1,289.9 729.4,291.7 729.7,290.3 730.0,290.9 730.2,291.0 730.5,289.8 730.8,295.1 731.1,290.7 731.3,295.5 731.6,290.4 731.9,290.3 732.1,293.1 732.4,292.0 732.7,294.7 733.0,294.3 733.2,298.3 733.5,285.8 733.8,290.4 734.1,292.8 734.3,292.4 734.6,292.9 734.9,299.2 735.2,287.7 735.4,294.7 735.7,292.6 736.0,293.2 736.3,295.8 736.5,293.1 736.8,295.1 737.1,296.3 737.3,296.1 737.6,288.9 737.9,291.8 738.2,290.3 738.4,291.5 738.7,292.9 739.0,298.4 739.3,291.9 739.5,292.7 739.8,293.1 740.1,297.0 740.4,292.2 740.6,294.6 740.9,295.5 741.2,294.9 741.4,288.7 741.7,290.4 742.0,295.2 742.3,289.3 742.5,293.0 742.8,290.0 743.1,294.5 743.4,293.5 743.6,289.9 743.9,293.0 744.2,291.1 744.5,292.3 744.7,296.6 745.0,294.3 745.3,294.4 745.6,297.3 745.8,293.9 746.1,296.8 746.4,294.6 746.6,294.3 746.9,292.8 747.2,291.7 747.5,291.3 747.7,291.5 748.0,295.0 748.3,294.7 748.6,291.8 748.8,296.7 749.1,292.3 749.4,292.8 749.7,290.5 749.9,291.8 750.2,295.9 750.5,294.8 750.7,292.3 751.0,296.7 751.3,293.7 751.6,294.0 751.8,296.3 752.1,294.9 752.4,293.1 752.7,291.4 752.9,296.9 753.2,288.4 753.5,292.4 753.8,289.8 754.0,292.5 754.3,295.9 754.6,293.1 754.8,292.9 755.1,293.8 755.4,298.6 755.7,297.2 755.9,294.5 756.2,292.5 756.5,293.0 756.8,294.8 757.0,293.4 757.3,293.7 757.6,291.6 757.9,290.8 758.1,291.4 758.4,294.6 758.7,291.9 759.0,300.0 759.2,295.4 759.5,295.6 759.8,296.4 760.0,291.7 760.3,291.4 760.6,293.6 760.9,295.5 761.1,295.5 761.4,298.0 761.7,297.5 762.0,296.7 762.2,296.9 762.5,294.9 762.8,296.3 763.1,293.7 763.3,293.4 763.6,296.6 763.9,290.5 764.1,297.7 764.4,298.8 764.7,293.3 765.0,296.2 765.2,294.9 765.5,292.2 765.8,295.4 766.1,295.8 766.3,296.9 766.6,293.8 766.9,294.9 767.2,293.2 767.4,296.9 767.7,294.4 768.0,296.6 768.3,293.0 768.5,294.9 768.8,292.5 769.1,292.9 769.3,297.2 769.6,294.2 769.9,294.4 770.2,296.3 770.4,292.7 770.7,299.1 771.0,292.8 771.3,293.7 771.5,299.7 771.8,290.6 772.1,298.7 772.4,295.5 772.6,295.8 772.9,292.2 773.2,295.0 773.4,291.7 773.7,297.0 774.0,294.1 774.3,293.1 774.5,293.5 774.8,294.3 775.1,296.9 775.4,295.5 775.6,292.8 775.9,292.6 776.2,292.2 776.5,296.5 776.7,295.7 777.0,292.0 777.3,290.8 777.6,294.5 777.8,293.3 778.1,295.8 778.4,294.3 778.6,295.5 778.9,296.5 779.2,297.0 779.5,294.1 779.7,296.2 780.0,293.2 780.3,291.8 780.6,295.1 780.8,297.3 781.1,297.9 781.4,294.4 781.7,290.6 781.9,295.3 782.2,294.1 782.5,296.0 782.7,297.0 783.0,293.5 783.3,292.9 783.6,293.6 783.8,293.0 784.1,292.2 784.4,295.0 784.7,292.8 784.9,293.9 785.2,293.8 785.5,293.1 785.8,295.9 786.0,293.4 786.3,294.3 786.6,296.3 786.8,294.2 787.1,291.1 787.4,293.4 787.7,293.4 787.9,295.9 788.2,298.3 788.5,295.0 788.8,294.2 789.0,297.9 789.3,292.9 789.6,295.2 789.9,295.6 790.1,294.4 790.4,294.1 790.7,294.9 791.0,298.0 791.2,295.8 791.5,293.1 791.8,295.1 792.0,296.7 792.3,298.6 792.6,296.3 792.9,294.9 793.1,297.7 793.4,296.5 793.7,294.8 794.0,293.0 794.2,294.7 794.5,296.7 794.8,292.0 795.1,290.8 795.3,295.6 795.6,291.0 795.9,291.5 796.1,294.0 796.4,293.9 796.7,294.6 797.0,294.8 797.2,295.6 797.5,294.2 797.8,292.5 798.1,287.9 798.3,297.3 798.6,296.2 798.9,295.8 799.2,294.3 799.4,292.4 799.7,295.5 800.0,294.2 800.3,291.3 800.5,296.7 800.8,291.1 801.1,293.4 801.3,298.4 801.6,292.5 801.9,294.8 802.2,296.8 802.4,294.4 802.7,291.1 803.0,293.2 803.3,294.2 803.5,290.9 803.8,297.6 804.1,295.0 804.4,295.9 804.6,294.9 804.9,295.2 805.2,293.5 805.4,290.9 805.7,295.8 806.0,294.3 806.3,297.9 806.5,291.6 806.8,294.6 807.1,299.2 807.4,291.2 807.6,291.5 807.9,294.7 808.2,298.1 808.5,291.5 808.7,294.4 809.0,293.8 809.3,292.9 809.5,293.6 809.8,297.0 810.1,294.5 810.4,291.2 810.6,292.7 810.9,294.4 811.2,290.9 811.5,292.6 811.7,293.2 812.0,289.3 812.3,298.4 812.6,290.4 812.8,294.2 813.1,293.7 813.4,292.7 813.7,296.9 813.9,294.2 814.2,292.2 814.5,296.8 814.7,295.3 815.0,291.7 815.3,290.5 815.6,296.1 815.8,293.7 816.1,290.7 816.4,295.3 816.7,290.7 816.9,292.4 817.2,292.1 817.5,289.4 817.8,295.6 818.0,302.1 818.3,295.5 818.6,294.9 818.8,293.4 819.1,293.8 819.4,294.6 819.7,295.4 819.9,292.8 820.2,294.0 820.5,293.4 820.8,295.2 821.0,296.1 821.3,296.5 821.6,292.9 821.9,292.8 822.1,295.5 822.4,293.3 822.7,293.4 823.0,295.0 823.2,294.8 823.5,297.0 823.8,291.1 824.0,296.5 824.3,292.8 824.6,295.5 824.9,290.9 825.1,293.6 825.4,292.4 825.7,297.9 826.0,291.7 826.2,296.5 826.5,292.0 826.8,291.2 827.1,294.5 827.3,296.2 827.6,293.6 827.9,295.1 828.1,294.3 828.4,293.6 828.7,296.9 829.0,293.7 829.2,295.7 829.5,291.0 829.8,293.2 830.1,295.8 830.3,292.5 830.6,288.6 830.9,295.3 831.2,294.9 831.4,292.8 831.7,293.7 832.0,292.7 832.3,294.3 832.5,295.9 832.8,294.1 833.1,293.1 833.3,292.2 833.6,292.9 833.9,292.1 834.2,295.5 834.4,290.7 834.7,291.8 835.0,293.9 835.3,293.8 835.5,293.6 835.8,292.0 836.1,293.4 836.4,289.6 836.6,289.3 836.9,289.8 837.2,293.6 837.4,295.9 837.7,291.6 838.0,291.3 838.3,291.9 838.5,296.7 838.8,292.9 839.1,292.6 839.4,291.0 839.6,293.4 839.9,295.2 840.2,292.5 840.5,290.2 840.7,295.0 841.0,291.8 841.3,295.9 841.5,289.3 841.8,291.3 842.1,292.1 842.4,287.3 842.6,291.5 842.9,292.6 843.2,290.8 843.5,292.0 843.7,291.2 844.0,288.7 844.3,292.3 844.6,288.7 844.8,289.6 845.1,288.4 845.4,291.5 845.7,288.7 845.9,288.6 846.2,284.5 846.5,288.7 846.7,291.5 847.0,284.1 847.3,289.6 847.6,288.5 847.8,284.3 848.1,287.2 848.4,290.2 848.7,287.7 848.9,288.3 849.2,289.8 849.5,286.3 849.8,288.8 850.0,283.6 850.3,284.3 850.6,289.4 850.8,289.0 851.1,287.7 851.4,281.8 851.7,284.5 851.9,282.7 852.2,289.0 852.5,281.1 852.8,281.0 853.0,282.4 853.3,284.3 853.6,282.0 853.9,282.4 854.1,283.6 854.4,282.8 854.7,278.2 855.0,279.5 855.2,286.1 855.5,282.3 855.8,286.4 856.0,285.5 856.3,284.6 856.6,282.1 856.9,285.6 857.1,280.9 857.4,287.3 857.7,283.5 858.0,283.6 858.2,281.4 858.5,281.1 858.8,282.0 859.1,281.6 859.3,280.9 859.6,280.6 859.9,283.8 860.1,286.4 860.4,288.4 860.7,285.8 861.0,284.1 861.2,286.0 861.5,288.8 861.8,285.4 862.1,287.7 862.3,286.5 862.6,286.2 862.9,284.8 863.2,288.0 863.4,284.7 863.7,284.6 864.0,287.9 864.2,289.6 864.5,289.7 864.8,289.8 865.1,287.3 865.3,288.0 865.6,291.1 865.9,293.4 866.2,282.7 866.4,291.9 866.7,289.8 867.0,289.3 867.3,287.9 867.5,288.3 867.8,287.2 868.1,290.7 868.4,288.0 868.6,290.0 868.9,287.1 869.2,293.4 869.4,292.3 869.7,288.2 870.0,292.1 870.3,290.2 870.5,289.3 870.8,291.5 871.1,293.4 871.4,295.0 871.6,292.3 871.9,294.5 872.2,293.4 872.5,293.5 872.7,294.3 873.0,289.0 873.3,291.3 873.5,295.7 873.8,289.3 874.1,290.5 874.4,296.8 874.6,290.2 874.9,292.9 875.2,293.3 875.5,292.0 875.7,294.9 876.0,294.8 876.3,291.3 876.6,296.9 876.8,291.1 877.1,292.0 877.4,292.7 877.7,293.5 877.9,290.6 878.2,293.7 878.5,288.1 878.7,292.0 879.0,291.1 879.3,291.6 879.6,293.1 879.8,293.8 880.1,291.6 880.4,293.4 880.7,289.9 880.9,292.5 881.2,295.5 881.5,291.8 881.8,292.7 882.0,293.4 882.3,295.3 882.6,294.3 882.8,293.1 883.1,291.3 883.4,294.1 883.7,287.0 883.9,294.6 884.2,291.9 884.5,295.1 884.8,293.5 885.0,296.7 885.3,292.2 885.6,289.2 885.9,293.8 886.1,292.6 886.4,293.5 886.7,296.5 887.0,291.7 887.2,295.3 887.5,295.8 887.8,296.3 888.0,289.3 888.3,294.2 888.6,292.3 888.9,293.4 889.1,292.0 889.4,293.2 889.7,296.0 890.0,297.8 890.2,295.5 890.5,291.2 890.8,296.8 891.1,291.2 891.3,293.1 891.6,296.6 891.9,292.7 892.1,295.6 892.4,293.4 892.7,291.4 893.0,294.5 893.2,292.8 893.5,298.0 893.8,298.2 894.1,297.6 894.3,291.8 894.6,298.4 894.9,294.8 895.2,295.3 895.4,294.6 895.7,292.9 896.0,294.4 896.2,296.1 896.5,297.7 896.8,295.5 897.1,294.2 897.3,293.1 897.6,293.5 897.9,297.9 898.2,295.7 898.4,294.7 898.7,290.5 899.0,290.2 899.3,295.7 899.5,295.6 899.8,296.7 900.1,294.7 900.4,292.7 900.6,290.3 900.9,292.1 901.2,288.9 901.4,294.8 901.7,295.2 902.0,297.3 902.3,290.0 902.5,290.9 902.8,295.5 903.1,294.9 903.4,289.5 903.6,292.5 903.9,294.3 904.2,293.2 904.5,294.9 904.7,294.1 905.0,292.8 905.3,294.9 905.5,293.8 905.8,296.7 906.1,290.7 906.4,293.5 906.6,292.4 906.9,293.4 907.2,294.9 907.5,295.4 907.7,289.0 908.0,296.6 908.3,295.1 908.6,295.1 908.8,294.1 909.1,296.1 909.4,294.8 909.7,289.7 909.9,292.3 910.2,293.2 910.5,293.0 910.7,292.8 911.0,295.2 911.3,291.2 911.6,292.0 911.8,291.5 912.1,293.7 912.4,294.7 912.7,291.6 912.9,294.6 913.2,292.4 913.5,296.9 913.8,288.5 914.0,293.6 914.3,296.2 914.6,292.8 914.8,291.0 915.1,291.6 915.4,294.8 915.7,292.3 915.9,296.0 916.2,293.6 916.5,292.2 916.8,292.5 917.0,294.6 917.3,295.8 917.6,291.6 917.9,290.7 918.1,290.7 918.4,294.5 918.7,297.6 918.9,292.1 919.2,294.9 919.5,292.4 919.8,295.4 920.0,289.9 920.3,294.6 920.6,290.2 920.9,291.2 921.1,293.9 921.4,292.6 921.7,293.0 922.0,294.3 922.2,293.5 922.5,296.5 922.8,294.8 923.1,291.0 923.3,292.8 923.6,291.7 923.9,292.0 924.1,297.0 924.4,291.1 924.7,295.8 925.0,296.3 925.2,299.1 925.5,292.8 925.8,293.3 926.1,293.4 926.3,291.8 926.6,296.7 926.9,297.1 927.2,287.2 927.4,291.8 927.7,295.2 928.0,290.0 928.2,290.8 928.5,292.4 928.8,292.3 929.1,291.8 929.3,291.9 929.6,296.4 929.9,286.7 930.2,290.9 930.4,289.4 930.7,292.5 931.0,290.9 931.3,293.0 931.5,291.8 931.8,297.1 932.1,288.6 932.4,290.5 932.6,293.6 932.9,290.6 933.2,291.8 933.4,287.8 933.7,293.0 934.0,290.9 934.3,292.5 934.5,288.9 934.8,289.7 935.1,288.9 935.4,294.7 935.6,286.7 935.9,291.7 936.2,291.2 936.5,293.5 936.7,291.1 937.0,287.9 937.3,291.4 937.5,286.0 937.8,292.5 938.1,289.6 938.4,288.0 938.6,288.5 938.9,290.9 939.2,285.5 939.5,293.3 939.7,287.5 940.0,292.6 940.3,289.3 940.6,293.2 940.8,285.7 941.1,290.5 941.4,288.1 941.7,286.6 941.9,289.9 942.2,287.2 942.5,285.8 942.7,286.8 943.0,285.3 943.3,286.4 943.6,286.6 943.8,289.1 944.1,286.0 944.4,284.2 944.7,287.6 944.9,284.6 945.2,282.9 945.5,282.1 945.8,288.8 946.0,284.1 946.3,287.8 946.6,281.3 946.8,280.8 947.1,287.1 947.4,282.0 947.7,281.8 947.9,281.3 948.2,278.9 948.5,283.4 948.8,277.6 949.0,281.9 949.3,277.0 949.6,285.4 949.9,280.3 950.1,280.8 950.4,273.5 950.7,277.9 950.9,274.9 951.2,273.8 951.5,273.3 951.8,276.7 952.0,274.2 952.3,272.3 952.6,271.5 952.9,270.8 953.1,270.5 953.4,270.5 953.7,267.8 954.0,267.9 954.2,264.1 954.5,269.0 954.8,270.0 955.1,266.9 955.3,271.2 955.6,265.5 955.9,267.2 956.1,269.7 956.4,267.2 956.7,264.5 957.0,267.2 957.2,265.2 957.5,269.0 957.8,268.1 958.1,265.8 958.3,267.8 958.6,270.9 958.9,269.7 959.2,269.3 959.4,267.1 959.7,266.5 960.0,266.5 960.2,271.3 960.5,266.6 960.8,270.7 961.1,274.1 961.3,266.8 961.6,272.1 961.9,269.4 962.2,272.1 962.4,274.2 962.7,271.1 963.0,270.9 963.3,273.7 963.5,275.7 963.8,274.8 964.1,274.0 964.4,278.5 964.6,274.6 964.9,274.4 965.2,278.6 965.4,284.0 965.7,278.1 966.0,279.5 966.3,277.7 966.5,279.2 966.8,278.3 967.1,282.1 967.4,280.2 967.6,280.3 967.9,284.7 968.2,279.4 968.5,285.4 968.7,283.0 969.0,281.6 969.3,284.0 969.5,283.7 969.8,285.4 970.1,284.3 970.4,289.5 970.6,287.8 970.9,288.2 971.2,282.9 971.5,285.1 971.7,288.9 972.0,287.7 972.3,286.5 972.6,286.4 972.8,289.2 973.1,282.4 973.4,285.0 973.6,283.9 973.9,290.0 974.2,284.1 974.5,286.8 974.7,290.7 975.0,286.9 975.3,288.3 975.6,287.7 975.8,289.3 976.1,292.9 976.4,285.0 976.7,287.6 976.9,291.6 977.2,293.3 977.5,287.2 977.8,290.9 978.0,289.2 978.3,289.0 978.6,284.1 978.8,283.6 979.1,287.6 979.4,286.9 979.7,286.9 979.9,284.2 980.2,290.2 980.5,286.3 980.8,293.0 981.0,285.8 981.3,287.1 981.6,287.8 981.9,285.0 982.1,283.3 982.4,284.1 982.7,285.3 982.9,283.9 983.2,289.6 983.5,283.4 983.8,286.3 984.0,286.2 984.3,284.5 984.6,281.3 984.9,284.8 985.1,285.7 985.4,283.6 985.7,283.1 986.0,277.7 986.2,280.1 986.5,282.1 986.8,282.8 987.1,284.0 987.3,281.3 987.6,282.4 987.9,279.4 988.1,283.2 988.4,283.4 988.7,281.3 989.0,283.8 989.2,280.8 989.5,280.3 989.8,280.8 990.1,286.2 990.3,277.7 990.6,282.1 990.9,280.8 991.2,282.0 991.4,278.3 991.7,283.7 992.0,283.7 992.2,281.6 992.5,281.4 992.8,282.7 993.1,285.0 993.3,279.3 993.6,286.5 993.9,282.6 994.2,285.6 994.4,281.9 994.7,288.7 995.0,285.0 995.3,288.8 995.5,283.4 995.8,283.6 996.1,288.1 996.4,287.3 996.6,286.7 996.9,289.1 997.2,287.5 997.4,285.9 997.7,282.5 998.0,281.9 998.3,289.0 998.5,289.0 998.8,285.8 999.1,289.4 999.4,287.9 999.6,288.7 999.9,291.1 1000.2,285.3 1000.5,290.0 1000.7,290.6 1001.0,289.1"/><polyline fill="none" stroke="#0000FF" stroke-width="1.9" stroke-linejoin="round" points="43.8,352.8 44.0,349.7 44.3,352.8 44.6,353.9 44.8,354.3 45.1,350.9 45.4,354.4 45.7,353.2 45.9,354.1 46.2,352.5 46.5,354.0 46.8,353.1 47.0,358.3 47.3,351.9 47.6,355.3 47.9,352.6 48.1,349.2 48.4,353.8 48.7,355.6 48.9,354.5 49.2,354.6 49.5,350.9 49.8,353.5 50.0,349.6 50.3,357.0 50.6,356.5 50.9,350.5 51.1,352.0 51.4,350.1 51.7,351.2 52.0,351.9 52.2,350.3 52.5,351.9 52.8,354.5 53.0,352.4 53.3,354.7 53.6,352.7 53.9,353.3 54.1,350.2 54.4,355.3 54.7,350.5 55.0,352.4 55.2,350.2 55.5,354.4 55.8,350.8 56.1,354.6 56.3,357.8 56.6,354.1 56.9,348.1 57.2,355.7 57.4,353.8 57.7,354.8 58.0,354.4 58.2,356.2 58.5,355.9 58.8,353.4 59.1,350.6 59.3,353.4 59.6,355.4 59.9,349.3 60.2,354.0 60.4,349.5 60.7,356.3 61.0,358.0 61.3,355.8 61.5,352.8 61.8,355.6 62.1,356.9 62.3,357.7 62.6,357.2 62.9,356.4 63.2,351.6 63.4,353.7 63.7,355.0 64.0,354.1 64.3,349.4 64.5,353.6 64.8,352.4 65.1,354.5 65.4,354.9 65.6,350.7 65.9,352.3 66.2,354.5 66.5,351.7 66.7,354.1 67.0,352.2 67.3,352.5 67.5,356.2 67.8,353.9 68.1,352.9 68.4,357.8 68.6,353.5 68.9,354.2 69.2,354.4 69.5,361.4 69.7,355.8 70.0,356.4 70.3,353.5 70.6,356.4 70.8,357.1 71.1,351.7 71.4,355.5 71.6,358.3 71.9,358.8 72.2,355.1 72.5,360.0 72.7,353.0 73.0,357.1 73.3,355.9 73.6,352.2 73.8,357.1 74.1,351.8 74.4,353.2 74.7,354.6 74.9,352.0 75.2,357.6 75.5,353.8 75.7,352.0 76.0,355.5 76.3,354.9 76.6,352.4 76.8,353.7 77.1,357.1 77.4,356.9 77.7,351.3 77.9,357.3 78.2,357.3 78.5,357.8 78.8,354.0 79.0,353.4 79.3,354.9 79.6,353.7 79.9,354.6 80.1,353.8 80.4,354.6 80.7,354.1 80.9,355.4 81.2,355.7 81.5,354.7 81.8,354.1 82.0,359.1 82.3,357.6 82.6,356.6 82.9,353.4 83.1,356.9 83.4,355.1 83.7,356.9 84.0,356.1 84.2,361.4 84.5,355.6 84.8,353.2 85.0,358.1 85.3,358.3 85.6,358.8 85.9,349.6 86.1,353.5 86.4,353.8 86.7,351.9 87.0,356.0 87.2,357.3 87.5,358.3 87.8,357.9 88.1,355.8 88.3,359.4 88.6,356.4 88.9,349.3 89.2,355.1 89.4,354.1 89.7,356.6 90.0,354.9 90.2,355.1 90.5,359.1 90.8,354.1 91.1,352.7 91.3,356.5 91.6,357.4 91.9,355.7 92.2,355.9 92.4,354.6 92.7,352.9 93.0,354.2 93.3,353.5 93.5,358.9 93.8,355.4 94.1,359.4 94.3,355.8 94.6,354.0 94.9,356.6 95.2,356.6 95.4,359.3 95.7,351.4 96.0,355.2 96.3,357.2 96.5,354.5 96.8,356.5 97.1,355.6 97.4,359.6 97.6,359.3 97.9,351.5 98.2,352.8 98.4,354.5 98.7,356.2 99.0,356.1 99.3,355.3 99.5,357.9 99.8,358.5 100.1,356.8 100.4,355.9 100.6,356.7 100.9,354.7 101.2,358.5 101.5,358.6 101.7,354.5 102.0,360.1 102.3,356.6 102.6,358.7 102.8,356.7 103.1,356.4 103.4,358.5 103.6,354.5 103.9,356.3 104.2,354.1 104.5,358.0 104.7,356.4 105.0,356.2 105.3,355.7 105.6,358.5 105.8,357.6 106.1,356.5 106.4,355.9 106.7,361.2 106.9,360.6 107.2,354.5 107.5,359.9 107.7,358.4 108.0,357.9 108.3,358.2 108.6,354.0 108.8,363.0 109.1,362.1 109.4,357.4 109.7,357.3 109.9,357.7 110.2,355.8 110.5,358.6 110.8,357.3 111.0,354.9 111.3,356.3 111.6,355.9 111.9,356.0 112.1,356.7 112.4,358.9 112.7,356.5 112.9,353.7 113.2,360.9 113.5,356.2 113.8,360.9 114.0,358.1 114.3,358.9 114.6,355.6 114.9,357.9 115.1,356.8 115.4,357.5 115.7,358.8 116.0,356.8 116.2,359.7 116.5,354.5 116.8,355.3 117.0,358.8 117.3,359.0 117.6,360.3 117.9,361.6 118.1,358.9 118.4,359.7 118.7,358.5 119.0,358.3 119.2,357.8 119.5,358.3 119.8,356.8 120.1,357.7 120.3,360.0 120.6,359.3 120.9,360.8 121.2,357.1 121.4,357.4 121.7,359.3 122.0,356.3 122.2,356.2 122.5,359.8 122.8,357.7 123.1,360.4 123.3,358.6 123.6,357.4 123.9,356.0 124.2,361.3 124.4,358.3 124.7,356.5 125.0,355.1 125.3,355.7 125.5,357.7 125.8,361.5 126.1,356.5 126.3,359.3 126.6,359.2 126.9,351.0 127.2,355.8 127.4,360.6 127.7,354.0 128.0,361.4 128.3,358.8 128.5,354.9 128.8,363.2 129.1,358.6 129.4,362.6 129.6,359.4 129.9,357.2 130.2,361.6 130.4,363.2 130.7,362.0 131.0,356.3 131.3,360.6 131.5,356.4 131.8,357.8 132.1,362.3 132.4,355.9 132.6,365.1 132.9,355.7 133.2,356.3 133.5,361.1 133.7,358.9 134.0,359.0 134.3,357.2 134.6,361.2 134.8,360.0 135.1,359.3 135.4,357.6 135.6,356.1 135.9,359.6 136.2,354.5 136.5,358.1 136.7,361.1 137.0,361.3 137.3,358.8 137.6,353.7 137.8,361.1 138.1,361.9 138.4,360.0 138.7,362.9 138.9,362.3 139.2,356.0 139.5,359.4 139.7,358.9 140.0,363.7 140.3,362.6 140.6,360.4 140.8,361.5 141.1,362.2 141.4,358.5 141.7,359.8 141.9,360.0 142.2,359.3 142.5,359.5 142.8,360.9 143.0,357.3 143.3,357.7 143.6,362.3 143.9,364.0 144.1,364.9 144.4,356.4 144.7,361.4 144.9,358.6 145.2,359.3 145.5,360.1 145.8,361.6 146.0,362.0 146.3,355.0 146.6,359.3 146.9,363.3 147.1,361.1 147.4,357.0 147.7,358.5 148.0,359.0 148.2,363.3 148.5,365.0 148.8,358.4 149.0,362.2 149.3,360.3 149.6,362.4 149.9,360.5 150.1,358.5 150.4,359.6 150.7,359.6 151.0,364.6 151.2,359.4 151.5,362.5 151.8,359.3 152.1,359.7 152.3,361.8 152.6,360.0 152.9,366.0 153.1,364.5 153.4,358.8 153.7,362.7 154.0,365.0 154.2,358.7 154.5,360.6 154.8,365.0 155.1,359.7 155.3,363.1 155.6,361.5 155.9,362.1 156.2,359.3 156.4,361.6 156.7,360.7 157.0,365.9 157.3,363.3 157.5,362.1 157.8,361.8 158.1,363.5 158.3,358.2 158.6,359.6 158.9,359.8 159.2,360.1 159.4,358.2 159.7,363.3 160.0,361.0 160.3,365.1 160.5,361.9 160.8,361.3 161.1,363.2 161.4,363.3 161.6,361.6 161.9,363.7 162.2,365.3 162.4,361.3 162.7,365.4 163.0,362.0 163.3,364.5 163.5,362.4 163.8,361.6 164.1,363.2 164.4,359.9 164.6,358.8 164.9,362.5 165.2,362.1 165.5,360.1 165.7,367.7 166.0,363.7 166.3,361.1 166.6,364.0 166.8,364.1 167.1,361.9 167.4,362.3 167.6,358.6 167.9,363.5 168.2,367.4 168.5,365.7 168.7,365.5 169.0,361.7 169.3,360.6 169.6,365.2 169.8,363.8 170.1,362.7 170.4,362.5 170.7,365.4 170.9,364.7 171.2,362.2 171.5,363.1 171.7,359.5 172.0,360.6 172.3,364.7 172.6,362.4 172.8,361.4 173.1,364.1 173.4,366.5 173.7,361.6 173.9,362.8 174.2,363.0 174.5,369.3 174.8,366.1 175.0,364.3 175.3,360.4 175.6,365.5 175.9,365.1 176.1,363.4 176.4,362.1 176.7,362.8 176.9,360.1 177.2,363.0 177.5,362.9 177.8,361.9 178.0,363.3 178.3,360.4 178.6,366.7 178.9,363.7 179.1,361.4 179.4,365.9 179.7,365.5 180.0,363.0 180.2,361.2 180.5,364.1 180.8,365.4 181.0,365.8 181.3,366.5 181.6,366.4 181.9,361.0 182.1,364.7 182.4,360.1 182.7,366.7 183.0,365.5 183.2,366.8 183.5,364.7 183.8,364.6 184.1,363.4 184.3,358.2 184.6,364.2 184.9,370.7 185.1,367.7 185.4,364.3 185.7,365.6 186.0,365.9 186.2,363.5 186.5,364.9 186.8,365.7 187.1,363.8 187.3,366.1 187.6,367.9 187.9,367.0 188.2,365.7 188.4,364.7 188.7,366.8 189.0,363.9 189.3,363.7 189.5,368.2 189.8,364.4 190.1,362.2 190.3,367.3 190.6,367.0 190.9,368.0 191.2,365.2 191.4,368.1 191.7,365.2 192.0,363.2 192.3,365.1 192.5,366.2 192.8,363.1 193.1,365.2 193.4,366.3 193.6,364.7 193.9,365.9 194.2,365.7 194.4,363.9 194.7,366.6 195.0,367.2 195.3,361.3 195.5,364.4 195.8,367.9 196.1,367.0 196.4,361.7 196.6,366.6 196.9,369.3 197.2,368.2 197.5,367.9 197.7,365.9 198.0,366.4 198.3,363.6 198.6,366.3 198.8,371.6 199.1,366.3 199.4,364.3 199.6,367.6 199.9,361.8 200.2,371.7 200.5,367.9 200.7,365.9 201.0,365.6 201.3,364.4 201.6,366.8 201.8,366.6 202.1,362.9 202.4,368.8 202.7,365.7 202.9,364.0 203.2,368.7 203.5,368.3 203.7,365.2 204.0,365.1 204.3,369.1 204.6,365.7 204.8,367.0 205.1,369.7 205.4,363.8 205.7,363.1 205.9,364.6 206.2,365.3 206.5,366.7 206.8,368.9 207.0,365.6 207.3,370.5 207.6,367.1 207.8,362.1 208.1,366.6 208.4,368.3 208.7,369.2 208.9,365.0 209.2,366.4 209.5,371.8 209.8,367.0 210.0,364.6 210.3,363.2 210.6,365.7 210.9,367.6 211.1,364.2 211.4,369.8 211.7,365.0 212.0,362.3 212.2,368.2 212.5,366.8 212.8,366.2 213.0,369.7 213.3,365.4 213.6,368.4 213.9,365.5 214.1,370.5 214.4,366.8 214.7,366.8 215.0,368.1 215.2,366.6 215.5,367.8 215.8,366.2 216.1,368.2 216.3,366.9 216.6,365.5 216.9,368.1 217.1,367.9 217.4,364.3 217.7,366.1 218.0,362.9 218.2,367.0 218.5,368.7 218.8,372.4 219.1,367.5 219.3,369.2 219.6,370.2 219.9,368.5 220.2,362.5 220.4,365.7 220.7,367.6 221.0,367.5 221.3,367.1 221.5,364.7 221.8,362.5 222.1,367.7 222.3,369.5 222.6,365.7 222.9,368.1 223.2,365.6 223.4,366.5 223.7,365.5 224.0,368.7 224.3,364.7 224.5,367.1 224.8,368.9 225.1,366.8 225.4,364.0 225.6,367.7 225.9,366.4 226.2,363.8 226.4,366.4 226.7,366.1 227.0,368.2 227.3,365.7 227.5,367.0 227.8,368.2 228.1,362.4 228.4,369.0 228.6,366.8 228.9,364.5 229.2,367.1 229.5,369.1 229.7,365.2 230.0,365.5 230.3,369.9 230.6,370.3 230.8,371.3 231.1,366.8 231.4,364.6 231.6,364.6 231.9,366.0 232.2,364.5 232.5,367.7 232.7,369.6 233.0,364.3 233.3,370.1 233.6,364.6 233.8,365.1 234.1,363.6 234.4,368.4 234.7,366.5 234.9,366.8 235.2,360.1 235.5,365.3 235.7,367.4 236.0,360.4 236.3,371.2 236.6,367.4 236.8,369.2 237.1,366.0 237.4,368.8 237.7,369.6 237.9,372.5 238.2,364.3 238.5,371.4 238.8,364.2 239.0,367.0 239.3,365.8 239.6,366.3 239.8,362.2 240.1,366.0 240.4,363.9 240.7,366.2 240.9,367.3 241.2,366.8 241.5,366.4 241.8,369.9 242.0,367.4 242.3,368.0 242.6,369.7 242.9,366.5 243.1,366.9 243.4,368.2 243.7,366.0 244.0,369.5 244.2,365.1 244.5,366.1 244.8,366.2 245.0,365.8 245.3,366.5 245.6,365.4 245.9,361.0 246.1,369.1 246.4,365.5 246.7,368.1 247.0,364.0 247.2,367.8 247.5,363.4 247.8,369.7 248.1,366.0 248.3,365.3 248.6,359.7 248.9,361.1 249.1,365.1 249.4,364.8 249.7,364.7 250.0,365.0 250.2,368.3 250.5,365.2 250.8,365.1 251.1,364.3 251.3,363.6 251.6,366.8 251.9,365.0 252.2,365.1 252.4,366.6 252.7,366.0 253.0,367.7 253.3,367.6 253.5,362.9 253.8,364.0 254.1,368.0 254.3,364.9 254.6,367.2 254.9,363.7 255.2,360.1 255.4,360.6 255.7,364.0 256.0,364.6 256.3,371.0 256.5,367.3 256.8,367.1 257.1,367.6 257.4,361.8 257.6,365.6 257.9,365.2 258.2,369.9 258.4,363.7 258.7,361.9 259.0,365.5 259.3,364.8 259.5,365.4 259.8,365.7 260.1,365.5 260.4,363.6 260.6,364.0 260.9,370.3 261.2,363.5 261.5,366.1 261.7,362.5 262.0,360.8 262.3,366.8 262.5,365.1 262.8,367.7 263.1,367.0 263.4,365.1 263.6,362.8 263.9,368.9 264.2,364.6 264.5,369.3 264.7,365.9 265.0,366.4 265.3,365.6 265.6,365.2 265.8,363.6 266.1,369.4 266.4,361.9 266.7,360.3 266.9,364.4 267.2,362.2 267.5,365.8 267.7,363.1 268.0,366.1 268.3,363.5 268.6,361.4 268.8,362.3 269.1,364.5 269.4,361.4 269.7,360.8 269.9,362.1 270.2,363.1 270.5,365.1 270.8,363.1 271.0,364.0 271.3,361.4 271.6,366.0 271.8,366.6 272.1,359.9 272.4,361.8 272.7,360.8 272.9,361.7 273.2,360.0 273.5,358.9 273.8,357.3 274.0,359.0 274.3,360.0 274.6,362.2 274.9,360.8 275.1,358.3 275.4,357.5 275.7,355.3 276.0,360.2 276.2,358.5 276.5,359.5 276.8,359.5 277.0,358.8 277.3,357.0 277.6,356.2 277.9,354.2 278.1,354.7 278.4,356.9 278.7,360.8 279.0,354.2 279.2,355.3 279.5,361.8 279.8,354.1 280.1,352.6 280.3,353.0 280.6,351.9 280.9,347.4 281.1,353.4 281.4,346.6 281.7,348.9 282.0,348.6 282.2,350.0 282.5,347.7 282.8,346.4 283.1,344.7 283.3,346.5 283.6,344.3 283.9,342.5 284.2,340.1 284.4,340.3 284.7,341.7 285.0,336.5 285.3,339.4 285.5,338.1 285.8,339.4 286.1,333.6 286.3,331.4 286.6,332.0 286.9,329.6 287.2,322.4 287.4,329.9 287.7,325.6 288.0,323.3 288.3,318.6 288.5,319.2 288.8,315.0 289.1,316.9 289.4,311.7 289.6,310.4 289.9,300.2 290.2,297.4 290.4,294.6 290.7,289.8 291.0,291.1 291.3,282.9 291.5,273.7 291.8,270.2 292.1,269.8 292.4,257.3 292.6,252.8 292.9,238.7 293.2,234.0 293.5,226.6 293.7,217.4 294.0,208.9 294.3,200.3 294.5,192.9 294.8,173.9 295.1,169.7 295.4,162.1 295.6,151.5 295.9,146.1 296.2,134.6 296.5,127.5 296.7,121.5 297.0,124.5 297.3,115.9 297.6,119.6 297.8,123.5 298.1,129.9 298.4,132.6 298.7,137.5 298.9,150.7 299.2,154.0 299.5,164.8 299.7,170.6 300.0,187.4 300.3,197.1 300.6,201.1 300.8,215.0 301.1,226.3 301.4,231.3 301.7,236.5 301.9,248.6 302.2,257.8 302.5,257.6 302.8,271.3 303.0,274.6 303.3,282.7 303.6,282.4 303.8,292.3 304.1,295.0 304.4,300.3 304.7,302.2 304.9,308.0 305.2,308.3 305.5,310.6 305.8,311.9 306.0,313.2 306.3,319.7 306.6,321.0 306.9,323.7 307.1,325.2 307.4,328.6 307.7,329.7 308.0,329.7 308.2,334.6 308.5,339.3 308.8,333.4 309.0,335.8 309.3,339.4 309.6,337.4 309.9,342.7 310.1,339.6 310.4,339.4 310.7,340.9 311.0,346.6 311.2,340.0 311.5,345.9 311.8,341.3 312.1,348.8 312.3,348.7 312.6,350.0 312.9,354.1 313.1,349.5 313.4,353.0 313.7,352.2 314.0,353.8 314.2,350.0 314.5,354.9 314.8,352.0 315.1,356.7 315.3,355.8 315.6,354.2 315.9,355.8 316.2,356.0 316.4,355.7 316.7,361.7 317.0,353.8 317.2,352.9 317.5,353.3 317.8,356.1 318.1,356.8 318.3,358.8 318.6,359.7 318.9,358.3 319.2,358.3 319.4,356.0 319.7,360.7 320.0,361.8 320.3,358.5 320.5,360.6 320.8,357.7 321.1,359.3 321.4,359.7 321.6,361.7 321.9,356.4 322.2,360.1 322.4,362.2 322.7,361.0 323.0,361.9 323.3,354.7 323.5,358.6 323.8,359.7 324.1,359.0 324.4,355.4 324.6,363.5 324.9,361.7 325.2,356.6 325.5,360.1 325.7,361.4 326.0,363.6 326.3,363.0 326.5,359.2 326.8,360.1 327.1,362.2 327.4,364.1 327.6,360.8 327.9,360.4 328.2,363.3 328.5,362.4 328.7,365.3 329.0,363.3 329.3,364.5 329.6,357.7 329.8,359.1 330.1,358.8 330.4,360.8 330.7,363.3 330.9,361.9 331.2,363.8 331.5,360.9 331.7,365.0 332.0,364.7 332.3,358.7 332.6,360.3 332.8,361.4 333.1,364.8 333.4,364.8 333.7,367.2 333.9,359.5 334.2,363.6 334.5,363.0 334.8,362.5 335.0,362.8 335.3,358.3 335.6,363.9 335.8,362.2 336.1,360.3 336.4,366.6 336.7,361.7 336.9,363.8 337.2,361.7 337.5,359.7 337.8,362.3 338.0,364.1 338.3,361.0 338.6,364.6 338.9,367.4 339.1,366.2 339.4,362.7 339.7,361.6 340.0,365.6 340.2,360.2 340.5,361.0 340.8,367.5 341.0,364.4 341.3,364.6 341.6,362.8 341.9,370.1 342.1,370.8 342.4,363.1 342.7,365.4 343.0,362.7 343.2,364.4 343.5,366.5 343.8,366.3 344.1,362.6 344.3,364.1 344.6,369.8 344.9,365.3 345.1,366.3 345.4,364.1 345.7,362.4 346.0,359.9 346.2,360.0 346.5,358.2 346.8,359.3 347.1,359.6 347.3,363.1 347.6,357.1 347.9,361.7 348.2,355.7 348.4,366.2 348.7,358.1 349.0,359.3 349.2,362.6 349.5,357.3 349.8,357.4 350.1,356.8 350.3,357.0 350.6,353.5 350.9,358.0 351.2,355.6 351.4,352.0 351.7,353.5 352.0,349.0 352.3,346.6 352.5,346.2 352.8,346.1 353.1,339.5 353.4,340.8 353.6,341.0 353.9,335.2 354.2,336.9 354.4,331.3 354.7,332.6 355.0,329.8 355.3,328.7 355.5,323.8 355.8,318.5 356.1,314.7 356.4,328.9 356.6,313.4 356.9,312.9 357.2,308.9 357.5,315.1 357.7,311.6 358.0,310.5 358.3,303.9 358.5,308.5 358.8,302.9 359.1,307.5 359.4,303.6 359.6,297.6 359.9,303.6 360.2,301.9 360.5,311.4 360.7,302.3 361.0,306.1 361.3,307.5 361.6,307.6 361.8,309.6 362.1,313.2 362.4,316.2 362.7,316.2 362.9,318.7 363.2,321.6 363.5,321.3 363.7,325.4 364.0,328.2 364.3,333.0 364.6,334.2 364.8,335.8 365.1,338.9 365.4,336.6 365.7,343.3 365.9,341.4 366.2,343.7 366.5,344.7 366.8,348.9 367.0,347.2 367.3,351.6 367.6,350.7 367.8,351.6 368.1,354.9 368.4,352.9 368.7,358.9 368.9,355.2 369.2,356.7 369.5,361.5 369.8,355.8 370.0,362.2 370.3,360.8 370.6,361.4 370.9,362.2 371.1,360.0 371.4,366.5 371.7,364.3 371.9,364.9 372.2,365.6 372.5,366.3 372.8,365.0 373.0,362.3 373.3,361.7 373.6,361.7 373.9,364.1 374.1,367.7 374.4,362.4 374.7,364.8 375.0,367.2 375.2,365.1 375.5,365.4 375.8,363.6 376.1,366.6 376.3,365.0 376.6,364.8 376.9,365.6 377.1,367.5 377.4,369.0 377.7,364.1 378.0,368.0 378.2,364.4 378.5,362.7 378.8,365.5 379.1,367.3 379.3,367.1 379.6,368.2 379.9,362.6 380.2,370.7 380.4,369.5 380.7,369.2 381.0,363.9 381.2,368.8 381.5,366.6 381.8,366.7 382.1,367.9 382.3,364.2 382.6,370.5 382.9,370.4 383.2,370.0 383.4,371.4 383.7,364.2 384.0,367.6 384.3,367.5 384.5,365.4 384.8,370.3 385.1,374.4 385.4,366.0 385.6,369.9 385.9,368.8 386.2,369.0 386.4,368.9 386.7,370.3 387.0,367.3 387.3,367.9 387.5,372.7 387.8,368.9 388.1,368.9 388.4,364.9 388.6,370.1 388.9,370.4 389.2,369.7 389.5,372.7 389.7,364.5 390.0,371.2 390.3,365.4 390.5,366.7 390.8,364.6 391.1,371.1 391.4,368.9 391.6,368.2 391.9,369.4 392.2,364.4 392.5,367.9 392.7,369.8 393.0,368.0 393.3,369.2 393.6,365.7 393.8,369.8 394.1,368.7 394.4,370.0 394.7,373.1 394.9,369.7 395.2,368.1 395.5,370.4 395.7,367.0 396.0,373.4 396.3,369.6 396.6,369.7 396.8,370.8 397.1,366.7 397.4,369.6 397.7,369.2 397.9,374.7 398.2,373.1 398.5,374.0 398.8,369.9 399.0,370.1 399.3,372.3 399.6,368.3 399.8,367.7 400.1,373.5 400.4,371.0 400.7,371.0 400.9,366.0 401.2,369.0 401.5,368.9 401.8,368.4 402.0,370.8 402.3,367.9 402.6,367.3 402.9,374.6 403.1,371.2 403.4,367.8 403.7,375.1 403.9,371.5 404.2,371.1 404.5,364.0 404.8,373.8 405.0,370.8 405.3,373.3 405.6,374.4 405.9,367.5 406.1,374.8 406.4,372.5 406.7,370.9 407.0,365.3 407.2,375.2 407.5,371.4 407.8,372.1 408.1,368.0 408.3,372.2 408.6,372.1 408.9,374.3 409.1,368.7 409.4,365.8 409.7,369.4 410.0,368.6 410.2,371.5 410.5,370.5 410.8,371.4 411.1,373.9 411.3,374.9 411.6,371.1 411.9,367.3 412.2,371.0 412.4,370.5 412.7,370.8 413.0,370.7 413.2,371.0 413.5,366.0 413.8,372.3 414.1,372.2 414.3,371.8 414.6,370.8 414.9,373.1 415.2,367.2 415.4,370.8 415.7,372.4 416.0,370.1 416.3,371.0 416.5,373.5 416.8,370.7 417.1,369.1 417.4,370.1 417.6,372.0 417.9,368.8 418.2,371.2 418.4,370.3 418.7,371.4 419.0,373.0 419.3,373.0 419.5,371.5 419.8,371.8 420.1,373.1 420.4,369.6 420.6,371.7 420.9,368.8 421.2,374.3 421.5,371.7 421.7,368.5 422.0,370.4 422.3,373.2 422.5,372.2 422.8,367.8 423.1,375.6 423.4,372.1 423.6,372.5 423.9,370.9 424.2,369.8 424.5,368.2 424.7,372.1 425.0,371.7 425.3,371.2 425.6,373.5 425.8,372.5 426.1,369.5 426.4,370.9 426.6,374.4 426.9,368.7 427.2,376.7 427.5,370.7 427.7,377.8 428.0,373.0 428.3,368.3 428.6,373.0 428.8,372.2 429.1,371.1 429.4,372.2 429.7,372.2 429.9,364.7 430.2,373.8 430.5,371.4 430.8,372.2 431.0,373.7 431.3,372.1 431.6,369.3 431.8,374.0 432.1,371.4 432.4,372.7 432.7,370.5 432.9,371.8 433.2,369.9 433.5,375.8 433.8,369.8 434.0,374.4 434.3,367.9 434.6,372.8 434.9,371.5 435.1,374.4 435.4,372.7 435.7,377.4 435.9,378.9 436.2,371.0 436.5,373.8 436.8,370.1 437.0,370.0 437.3,372.1 437.6,374.3 437.9,373.7 438.1,371.8 438.4,374.8 438.7,369.6 439.0,370.2 439.2,372.1 439.5,368.1 439.8,375.4 440.1,372.0 440.3,371.5 440.6,373.3 440.9,369.2 441.1,372.1 441.4,368.4 441.7,372.0 442.0,372.6 442.2,376.0 442.5,372.4 442.8,375.5 443.1,372.3 443.3,368.7 443.6,374.1 443.9,372.5 444.2,371.1 444.4,374.5 444.7,370.0 445.0,371.5 445.2,374.0 445.5,374.3 445.8,370.9 446.1,373.1 446.3,372.6 446.6,373.8 446.9,371.9 447.2,367.5 447.4,371.5 447.7,375.9 448.0,370.5 448.3,371.9 448.5,374.3 448.8,371.9 449.1,369.9 449.4,372.3 449.6,372.0 449.9,370.4 450.2,372.0 450.4,369.2 450.7,368.8 451.0,369.8 451.3,372.0 451.5,372.4 451.8,371.0 452.1,374.9 452.4,373.8 452.6,372.5 452.9,375.0 453.2,375.9 453.5,374.1 453.7,371.2 454.0,374.4 454.3,375.2 454.5,373.4 454.8,372.2 455.1,373.1 455.4,373.3 455.6,368.3 455.9,376.1 456.2,372.6 456.5,377.1 456.7,372.7 457.0,370.7 457.3,374.4 457.6,372.7 457.8,374.6 458.1,371.5 458.4,371.5 458.6,371.0 458.9,370.9 459.2,373.5 459.5,369.6 459.7,372.9 460.0,375.0 460.3,370.3 460.6,372.0 460.8,370.7 461.1,371.6 461.4,372.8 461.7,374.1 461.9,374.5 462.2,370.9 462.5,374.0 462.8,371.1 463.0,369.8 463.3,370.2 463.6,368.0 463.8,372.5 464.1,368.2 464.4,372.9 464.7,378.5 464.9,370.3 465.2,367.6 465.5,373.3 465.8,370.0 466.0,372.3 466.3,372.4 466.6,373.0 466.9,377.7 467.1,373.2 467.4,373.1 467.7,372.3 467.9,370.8 468.2,371.1 468.5,370.1 468.8,374.5 469.0,372.2 469.3,374.1 469.6,373.3 469.9,377.7 470.1,372.3 470.4,374.0 470.7,371.2 471.0,375.2 471.2,372.1 471.5,372.7 471.8,369.5 472.1,373.9 472.3,376.5 472.6,375.7 472.9,370.1 473.1,374.7 473.4,371.0 473.7,368.9 474.0,369.8 474.2,375.5 474.5,371.9 474.8,369.9 475.1,373.5 475.3,373.4 475.6,372.0 475.9,373.8 476.2,371.8 476.4,375.5 476.7,374.4 477.0,372.5 477.2,373.5 477.5,374.7 477.8,372.4 478.1,373.8 478.3,372.3 478.6,371.9 478.9,368.2 479.2,369.7 479.4,370.2 479.7,372.7 480.0,378.6 480.3,370.4 480.5,371.5 480.8,369.5 481.1,371.6 481.3,372.0 481.6,374.1 481.9,369.3 482.2,373.6 482.4,373.0 482.7,371.8 483.0,369.6 483.3,370.0 483.5,372.0 483.8,373.8 484.1,372.2 484.4,370.7 484.6,373.1 484.9,370.0 485.2,374.3 485.5,379.2 485.7,371.1 486.0,374.8 486.3,370.2 486.5,372.7 486.8,373.7 487.1,375.3 487.4,372.5 487.6,375.6 487.9,369.5 488.2,372.0 488.5,372.4 488.7,372.7 489.0,372.2 489.3,376.7 489.6,371.6 489.8,374.8 490.1,373.5 490.4,377.2 490.6,372.0 490.9,374.1 491.2,373.8 491.5,365.0 491.7,373.4 492.0,374.9 492.3,376.1 492.6,370.0 492.8,372.0 493.1,375.4 493.4,369.9 493.7,370.6 493.9,373.9 494.2,374.1 494.5,375.6 494.8,375.1 495.0,373.0 495.3,370.1 495.6,371.0 495.8,372.5 496.1,373.4 496.4,372.6 496.7,374.4 496.9,370.8 497.2,371.5 497.5,369.5 497.8,377.2 498.0,372.1 498.3,374.8 498.6,375.5 498.9,373.4 499.1,372.1 499.4,371.4 499.7,371.9 499.9,368.5 500.2,371.3 500.5,374.3 500.8,373.2 501.0,374.4 501.3,374.3 501.6,374.1 501.9,372.7 502.1,372.9 502.4,374.6 502.7,371.6 503.0,369.3 503.2,374.4 503.5,372.5 503.8,374.9 504.1,370.9 504.3,368.5 504.6,372.0 504.9,370.9 505.1,370.1 505.4,375.9 505.7,373.0 506.0,369.6 506.2,368.6 506.5,372.1 506.8,373.6 507.1,372.9 507.3,375.0 507.6,373.0 507.9,373.3 508.2,367.8 508.4,375.2 508.7,370.9 509.0,374.4 509.2,368.6 509.5,370.1 509.8,374.9 510.1,369.3 510.3,372.5 510.6,371.2 510.9,376.2 511.2,373.0 511.4,375.1 511.7,372.0 512.0,368.1 512.3,376.8 512.5,370.7 512.8,372.2 513.1,371.9 513.3,368.3 513.6,373.6 513.9,371.1 514.2,367.9 514.4,368.5 514.7,366.6 515.0,370.0 515.3,371.4 515.5,369.6 515.8,371.7 516.1,370.9 516.4,372.9 516.6,371.7 516.9,371.3 517.2,369.7 517.5,368.8 517.7,369.5 518.0,372.4 518.3,370.4 518.5,374.9 518.8,373.4 519.1,368.3 519.4,372.4 519.6,374.3 519.9,369.8 520.2,374.2 520.5,369.6 520.7,375.0 521.0,372.5 521.3,370.7 521.6,367.3 521.8,370.9 522.1,369.3 522.4,371.9 522.6,369.0 522.9,372.1 523.2,369.8 523.5,372.3 523.7,372.8 524.0,371.3 524.3,372.0 524.6,373.3 524.8,368.5 525.1,372.1 525.4,371.2 525.7,374.3 525.9,370.1 526.2,372.8 526.5,366.5 526.8,373.3 527.0,371.3 527.3,371.2 527.6,372.3 527.8,367.2 528.1,369.6 528.4,370.3 528.7,369.3 528.9,368.7 529.2,372.1 529.5,369.9 529.8,369.2 530.0,369.8 530.3,372.7 530.6,373.9 530.9,372.0 531.1,370.5 531.4,366.1 531.7,367.9 531.9,366.9 532.2,366.8 532.5,371.7 532.8,367.4 533.0,372.0 533.3,368.9 533.6,368.2 533.9,367.9 534.1,364.9 534.4,367.2 534.7,370.1 535.0,369.5 535.2,368.2 535.5,369.3 535.8,367.9 536.0,368.3 536.3,372.8 536.6,367.4 536.9,362.8 537.1,361.7 537.4,364.7 537.7,366.8 538.0,368.4 538.2,365.7 538.5,365.9 538.8,366.7 539.1,362.7 539.3,364.6 539.6,365.2 539.9,363.1 540.2,361.8 540.4,364.6 540.7,365.5 541.0,362.7 541.2,356.5 541.5,359.6 541.8,360.0 542.1,361.4 542.3,358.6 542.6,358.0 542.9,360.7 543.2,360.6 543.4,357.0 543.7,353.2 544.0,352.0 544.3,355.5 544.5,351.0 544.8,351.6 545.1,350.0 545.3,349.6 545.6,348.6 545.9,343.8 546.2,343.2 546.4,343.6 546.7,341.5 547.0,336.3 547.3,342.5 547.5,332.3 547.8,336.2 548.1,327.4 548.4,331.6 548.6,322.3 548.9,326.6 549.2,322.1 549.5,321.1 549.7,314.4 550.0,314.2 550.3,311.2 550.5,308.1 550.8,303.2 551.1,305.2 551.4,293.7 551.6,291.3 551.9,288.3 552.2,293.0 552.5,283.7 552.7,281.0 553.0,278.0 553.3,276.3 553.6,273.6 553.8,270.3 554.1,264.9 554.4,268.0 554.6,264.8 554.9,267.2 555.2,262.4 555.5,259.7 555.7,254.7 556.0,258.3 556.3,259.3 556.6,262.2 556.8,258.8 557.1,260.4 557.4,260.7 557.7,264.7 557.9,264.7 558.2,263.3 558.5,260.9 558.8,271.7 559.0,269.7 559.3,269.7 559.6,270.6 559.8,272.5 560.1,281.0 560.4,282.8 560.7,287.1 560.9,292.7 561.2,290.8 561.5,296.4 561.8,297.3 562.0,299.5 562.3,298.9 562.6,305.7 562.9,313.6 563.1,312.3 563.4,317.2 563.7,319.5 563.9,327.0 564.2,328.1 564.5,325.2 564.8,328.1 565.0,334.4 565.3,334.3 565.6,336.1 565.9,340.7 566.1,341.1 566.4,341.9 566.7,350.7 567.0,345.9 567.2,343.1 567.5,348.7 567.8,349.9 568.0,354.6 568.3,352.5 568.6,351.3 568.9,354.8 569.1,352.0 569.4,355.0 569.7,357.6 570.0,355.5 570.2,353.5 570.5,356.5 570.8,357.7 571.1,361.6 571.3,359.7 571.6,361.2 571.9,359.6 572.2,362.4 572.4,361.2 572.7,364.5 573.0,364.1 573.2,367.3 573.5,365.6 573.8,363.7 574.1,362.7 574.3,365.5 574.6,367.0 574.9,369.2 575.2,364.5 575.4,362.9 575.7,361.9 576.0,364.0 576.3,366.1 576.5,366.0 576.8,366.1 577.1,366.9 577.3,367.9 577.6,363.3 577.9,367.5 578.2,367.1 578.4,367.2 578.7,366.8 579.0,363.5 579.3,369.1 579.5,367.0 579.8,367.9 580.1,369.0 580.4,368.5 580.6,369.5 580.9,369.6 581.2,366.5 581.5,366.1 581.7,370.7 582.0,367.1 582.3,374.0 582.5,366.5 582.8,369.5 583.1,369.0 583.4,369.9 583.6,367.2 583.9,370.2 584.2,374.1 584.5,368.2 584.7,364.4 585.0,371.1 585.3,370.6 585.6,371.3 585.8,367.9 586.1,370.8 586.4,371.9 586.6,368.8 586.9,370.1 587.2,371.2 587.5,371.8 587.7,369.6 588.0,370.6 588.3,374.8 588.6,374.9 588.8,367.9 589.1,375.4 589.4,369.5 589.7,372.9 589.9,367.6 590.2,370.0 590.5,369.0 590.7,372.4 591.0,371.0 591.3,371.6 591.6,371.5 591.8,371.1 592.1,372.8 592.4,371.0 592.7,370.5 592.9,369.3 593.2,368.7 593.5,369.6 593.8,371.7 594.0,373.2 594.3,370.6 594.6,375.5 594.9,373.8 595.1,371.0 595.4,371.8 595.7,370.9 595.9,366.8 596.2,372.9 596.5,371.5 596.8,367.2 597.0,373.1 597.3,369.8 597.6,370.6 597.9,367.2 598.1,371.0 598.4,372.1 598.7,370.2 599.0,371.1 599.2,366.8 599.5,372.4 599.8,371.1 600.0,371.1 600.3,372.8 600.6,373.6 600.9,371.1 601.1,373.3 601.4,375.5 601.7,368.8 602.0,371.5 602.2,367.5 602.5,372.1 602.8,374.5 603.1,371.0 603.3,368.7 603.6,370.1 603.9,372.3 604.2,367.9 604.4,368.1 604.7,372.4 605.0,368.2 605.2,371.6 605.5,368.9 605.8,367.7 606.1,373.3 606.3,374.0 606.6,369.6 606.9,376.8 607.2,371.8 607.4,372.7 607.7,371.9 608.0,369.0 608.3,373.9 608.5,371.9 608.8,372.8 609.1,371.9 609.3,370.7 609.6,377.1 609.9,372.7 610.2,371.1 610.4,373.2 610.7,368.8 611.0,372.5 611.3,377.9 611.5,370.1 611.8,372.8 612.1,368.9 612.4,371.8 612.6,374.3 612.9,369.3 613.2,369.5 613.5,374.4 613.7,372.3 614.0,373.3 614.3,372.9 614.5,368.7 614.8,367.7 615.1,367.3 615.4,372.9 615.6,368.4 615.9,367.6 616.2,370.4 616.5,371.4 616.7,372.3 617.0,367.5 617.3,374.8 617.6,369.5 617.8,372.0 618.1,371.6 618.4,369.4 618.6,372.6 618.9,372.5 619.2,374.3 619.5,376.2 619.7,376.7 620.0,373.9 620.3,373.3 620.6,370.9 620.8,368.2 621.1,372.7 621.4,370.4 621.7,371.1 621.9,370.6 622.2,372.7 622.5,370.8 622.7,377.3 623.0,373.8 623.3,370.6 623.6,372.6 623.8,375.0 624.1,369.0 624.4,372.3 624.7,370.5 624.9,371.9 625.2,370.6 625.5,372.2 625.8,372.8 626.0,373.2 626.3,368.3 626.6,373.4 626.9,371.8 627.1,370.3 627.4,371.6 627.7,375.5 627.9,371.4 628.2,369.7 628.5,373.4 628.8,371.3 629.0,373.4 629.3,372.4 629.6,374.9 629.9,370.3 630.1,370.8 630.4,374.3 630.7,375.7 631.0,372.2 631.2,374.6 631.5,372.8 631.8,371.7 632.0,367.8 632.3,376.6 632.6,374.4 632.9,366.3 633.1,373.5 633.4,370.2 633.7,369.2 634.0,370.3 634.2,373.3 634.5,371.4 634.8,371.1 635.1,371.2 635.3,370.6 635.6,372.8 635.9,366.7 636.2,368.4 636.4,371.1 636.7,368.7 637.0,371.8 637.2,370.5 637.5,372.3 637.8,371.0 638.1,372.8 638.3,371.3 638.6,373.1 638.9,370.5 639.2,367.2 639.4,371.4 639.7,371.4 640.0,370.1 640.3,373.6 640.5,372.5 640.8,374.9 641.1,370.4 641.3,370.3 641.6,372.4 641.9,374.7 642.2,369.6 642.4,372.3 642.7,371.1 643.0,370.4 643.3,373.3 643.5,373.1 643.8,372.7 644.1,369.5 644.4,371.0 644.6,367.0 644.9,372.2 645.2,367.9 645.4,370.2 645.7,372.8 646.0,370.2 646.3,371.1 646.5,369.2 646.8,376.8 647.1,367.8 647.4,369.2 647.6,370.2 647.9,376.7 648.2,369.2 648.5,370.6 648.7,372.3 649.0,365.4 649.3,372.4 649.6,371.2 649.8,373.8 650.1,373.8 650.4,371.4 650.6,372.7 650.9,368.6 651.2,367.3 651.5,369.4 651.7,370.4 652.0,369.1 652.3,370.8 652.6,371.2 652.8,373.7 653.1,369.2 653.4,368.3 653.7,370.5 653.9,369.8 654.2,370.6 654.5,373.1 654.7,367.0 655.0,370.6 655.3,372.0 655.6,371.7 655.8,365.0 656.1,367.7 656.4,371.3 656.7,368.1 656.9,369.0 657.2,367.6 657.5,370.7 657.8,368.1 658.0,366.7 658.3,367.4 658.6,370.3 658.9,367.7 659.1,362.7 659.4,361.4 659.7,367.7 659.9,361.9 660.2,365.9 660.5,363.6 660.8,365.5 661.0,363.0 661.3,358.8 661.6,367.4 661.9,363.7 662.1,363.0 662.4,366.8 662.7,364.3 663.0,364.9 663.2,361.4 663.5,361.8 663.8,362.1 664.0,359.1 664.3,362.0 664.6,360.6 664.9,358.3 665.1,357.5 665.4,359.9 665.7,356.8 666.0,357.5 666.2,356.5 666.5,354.5 666.8,346.5 667.1,354.2 667.3,354.4 667.6,349.9 667.9,348.8 668.2,351.4 668.4,345.2 668.7,349.9 669.0,347.0 669.2,347.6 669.5,342.7 669.8,341.5 670.1,340.3 670.3,334.0 670.6,333.8 670.9,336.8 671.2,330.3 671.4,327.5 671.7,328.5 672.0,328.8 672.3,322.8 672.5,319.7 672.8,317.7 673.1,316.2 673.3,308.4 673.6,310.7 673.9,308.1 674.2,307.1 674.4,304.6 674.7,301.0 675.0,302.2 675.3,294.7 675.5,292.4 675.8,295.4 676.1,289.9 676.4,286.9 676.6,286.2 676.9,287.2 677.2,283.6 677.4,290.2 677.7,289.0 678.0,292.6 678.3,287.7 678.5,291.1 678.8,292.1 679.1,297.3 679.4,299.2 679.6,302.5 679.9,304.9 680.2,302.8 680.5,309.0 680.7,311.2 681.0,313.6 681.3,317.5 681.6,314.0 681.8,319.6 682.1,323.1 682.4,324.0 682.6,325.5 682.9,332.9 683.2,334.8 683.5,338.9 683.7,334.2 684.0,332.6 684.3,341.6 684.6,340.8 684.8,340.5 685.1,345.8 685.4,345.6 685.7,343.0 685.9,348.5 686.2,345.5 686.5,351.8 686.7,348.5 687.0,348.8 687.3,355.0 687.6,356.4 687.8,354.3 688.1,353.0 688.4,357.8 688.7,357.3 688.9,358.2 689.2,357.3 689.5,355.3 689.8,358.2 690.0,363.2 690.3,358.7 690.6,360.5 690.9,361.0 691.1,363.8 691.4,362.6 691.7,361.3 691.9,367.1 692.2,363.4 692.5,364.0 692.8,362.1 693.0,360.3 693.3,365.2 693.6,363.6 693.9,365.4 694.1,359.7 694.4,369.0 694.7,365.4 695.0,367.3 695.2,363.2 695.5,366.1 695.8,366.4 696.0,368.7 696.3,368.1 696.6,361.7 696.9,367.1 697.1,367.0 697.4,366.1 697.7,367.4 698.0,368.4 698.2,369.3 698.5,364.6 698.8,365.3 699.1,367.5 699.3,368.9 699.6,365.3 699.9,367.5 700.1,364.6 700.4,367.7 700.7,367.2 701.0,368.8 701.2,370.8 701.5,365.9 701.8,368.6 702.1,364.0 702.3,368.3 702.6,371.6 702.9,364.0 703.2,366.3 703.4,360.1 703.7,368.3 704.0,372.3 704.3,365.0 704.5,367.8 704.8,370.2 705.1,365.1 705.3,367.2 705.6,364.8 705.9,365.3 706.2,366.3 706.4,368.1 706.7,366.4 707.0,365.6 707.3,365.1 707.5,367.8 707.8,366.2 708.1,365.8 708.4,360.2 708.6,363.8 708.9,361.5 709.2,367.8 709.4,365.0 709.7,366.6 710.0,360.9 710.3,359.0 710.5,360.4 710.8,363.5 711.1,360.1 711.4,363.0 711.6,364.2 711.9,360.0 712.2,362.8 712.5,355.0 712.7,357.0 713.0,358.2 713.3,358.6 713.6,355.8 713.8,358.0 714.1,361.2 714.4,360.5 714.6,359.4 714.9,356.1 715.2,361.5 715.5,359.7 715.7,355.7 716.0,360.4 716.3,357.3 716.6,359.4 716.8,359.1 717.1,359.8 717.4,362.1 717.7,364.7 717.9,359.9 718.2,359.5 718.5,359.3 718.7,360.8 719.0,361.4 719.3,357.2 719.6,360.9 719.8,366.4 720.1,363.2 720.4,364.2 720.7,361.9 720.9,367.5 721.2,364.2 721.5,362.4 721.8,361.8 722.0,365.0 722.3,368.4 722.6,363.1 722.9,362.6 723.1,359.9 723.4,367.3 723.7,363.4 723.9,364.5 724.2,364.1 724.5,364.8 724.8,368.9 725.0,365.6 725.3,368.1 725.6,366.2 725.9,367.3 726.1,370.0 726.4,370.2 726.7,366.2 727.0,369.2 727.2,367.1 727.5,371.1 727.8,368.3 728.0,367.7 728.3,372.0 728.6,368.9 728.9,370.7 729.1,372.2 729.4,369.4 729.7,370.0 730.0,372.3 730.2,376.3 730.5,372.5 730.8,373.0 731.1,371.4 731.3,371.4 731.6,375.0 731.9,369.9 732.1,370.1 732.4,375.2 732.7,370.1 733.0,369.1 733.2,373.1 733.5,374.4 733.8,376.2 734.1,377.3 734.3,367.0 734.6,371.9 734.9,371.6 735.2,373.3 735.4,370.5 735.7,372.6 736.0,373.2 736.3,373.0 736.5,370.7 736.8,373.2 737.1,370.7 737.3,370.8 737.6,372.2 737.9,374.6 738.2,368.2 738.4,372.7 738.7,376.1 739.0,373.3 739.3,371.7 739.5,373.5 739.8,376.6 740.1,372.6 740.4,371.4 740.6,374.8 740.9,372.4 741.2,371.4 741.4,375.0 741.7,371.2 742.0,372.4 742.3,376.2 742.5,373.5 742.8,376.1 743.1,369.0 743.4,369.7 743.6,371.4 743.9,372.9 744.2,368.8 744.5,373.8 744.7,372.0 745.0,372.1 745.3,373.4 745.6,372.7 745.8,370.5 746.1,372.8 746.4,370.6 746.6,376.4 746.9,372.3 747.2,372.8 747.5,371.9 747.7,373.5 748.0,374.0 748.3,373.1 748.6,371.0 748.8,376.0 749.1,373.4 749.4,369.1 749.7,368.3 749.9,370.9 750.2,370.8 750.5,369.6 750.7,371.3 751.0,374.3 751.3,376.4 751.6,374.1 751.8,374.3 752.1,376.2 752.4,378.6 752.7,376.2 752.9,375.0 753.2,373.3 753.5,371.3 753.8,374.6 754.0,376.4 754.3,374.4 754.6,372.4 754.8,375.0 755.1,373.5 755.4,372.3 755.7,369.1 755.9,374.9 756.2,372.1 756.5,376.4 756.8,372.2 757.0,373.9 757.3,372.4 757.6,377.8 757.9,376.9 758.1,373.7 758.4,377.1 758.7,370.9 759.0,375.3 759.2,372.5 759.5,373.5 759.8,372.7 760.0,375.2 760.3,369.7 760.6,372.8 760.9,377.0 761.1,368.6 761.4,373.4 761.7,370.8 762.0,367.7 762.2,374.8 762.5,372.8 762.8,376.9 763.1,369.6 763.3,374.8 763.6,377.6 763.9,369.6 764.1,375.4 764.4,375.6 764.7,374.4 765.0,377.2 765.2,375.6 765.5,372.3 765.8,372.2 766.1,373.7 766.3,377.9 766.6,373.7 766.9,376.1 767.2,373.7 767.4,375.5 767.7,375.3 768.0,376.9 768.3,378.4 768.5,372.9 768.8,371.4 769.1,373.9 769.3,374.0 769.6,374.8 769.9,376.5 770.2,373.2 770.4,374.2 770.7,374.2 771.0,376.8 771.3,373.2 771.5,377.0 771.8,378.7 772.1,373.7 772.4,377.6 772.6,375.5 772.9,374.1 773.2,379.0 773.4,377.2 773.7,373.6 774.0,375.6 774.3,372.7 774.5,371.1 774.8,376.8 775.1,374.4 775.4,378.2 775.6,374.8 775.9,375.0 776.2,374.1 776.5,374.8 776.7,372.6 777.0,373.9 777.3,370.3 777.6,370.2 777.8,371.2 778.1,372.9 778.4,374.2 778.6,374.0 778.9,377.1 779.2,380.2 779.5,368.7 779.7,377.8 780.0,376.6 780.3,373.0 780.6,374.7 780.8,369.8 781.1,373.8 781.4,378.1 781.7,371.6 781.9,373.0 782.2,374.6 782.5,375.9 782.7,374.4 783.0,373.1 783.3,375.9 783.6,373.0 783.8,379.9 784.1,377.2 784.4,374.6 784.7,372.4 784.9,373.0 785.2,372.6 785.5,373.5 785.8,375.3 786.0,371.3 786.3,374.7 786.6,374.3 786.8,372.1 787.1,377.3 787.4,375.4 787.7,375.0 787.9,373.0 788.2,372.6 788.5,374.4 788.8,370.9 789.0,375.1 789.3,371.6 789.6,374.2 789.9,375.8 790.1,373.6 790.4,372.7 790.7,372.5 791.0,374.6 791.2,371.6 791.5,374.1 791.8,376.5 792.0,369.8 792.3,372.4 792.6,374.8 792.9,371.6 793.1,371.7 793.4,371.3 793.7,376.1 794.0,369.2 794.2,373.8 794.5,373.6 794.8,374.1 795.1,372.3 795.3,374.3 795.6,372.9 795.9,372.1 796.1,380.1 796.4,376.4 796.7,371.5 797.0,372.4 797.2,375.0 797.5,377.4 797.8,373.6 798.1,375.7 798.3,374.5 798.6,376.8 798.9,372.8 799.2,372.2 799.4,374.7 799.7,374.7 800.0,374.1 800.3,376.9 800.5,375.6 800.8,374.3 801.1,371.3 801.3,375.6 801.6,376.0 801.9,372.5 802.2,373.8 802.4,371.5 802.7,374.3 803.0,373.5 803.3,369.9 803.5,374.0 803.8,373.3 804.1,373.2 804.4,376.4 804.6,375.1 804.9,376.1 805.2,373.3 805.4,377.2 805.7,372.3 806.0,375.7 806.3,370.6 806.5,374.5 806.8,371.7 807.1,370.7 807.4,375.6 807.6,374.5 807.9,375.2 808.2,374.1 808.5,374.6 808.7,373.9 809.0,373.6 809.3,374.3 809.5,379.3 809.8,371.7 810.1,370.5 810.4,371.9 810.6,372.5 810.9,375.2 811.2,376.6 811.5,376.7 811.7,373.5 812.0,375.7 812.3,378.3 812.6,375.5 812.8,377.1 813.1,371.8 813.4,376.1 813.7,375.9 813.9,371.2 814.2,374.1 814.5,375.5 814.7,372.0 815.0,376.1 815.3,376.3 815.6,374.7 815.8,373.7 816.1,373.5 816.4,374.8 816.7,376.6 816.9,370.8 817.2,374.4 817.5,374.5 817.8,371.9 818.0,370.9 818.3,373.4 818.6,370.0 818.8,374.4 819.1,373.2 819.4,371.3 819.7,373.8 819.9,371.8 820.2,372.1 820.5,376.5 820.8,372.0 821.0,367.8 821.3,374.4 821.6,371.3 821.9,371.6 822.1,377.3 822.4,373.5 822.7,375.5 823.0,370.4 823.2,371.2 823.5,371.6 823.8,375.2 824.0,372.0 824.3,369.0 824.6,375.3 824.9,372.3 825.1,373.7 825.4,375.2 825.7,378.5 826.0,373.3 826.2,377.1 826.5,370.2 826.8,373.8 827.1,374.1 827.3,368.2 827.6,371.0 827.9,371.6 828.1,374.4 828.4,372.1 828.7,372.3 829.0,371.7 829.2,374.3 829.5,373.1 829.8,373.0 830.1,372.6 830.3,374.7 830.6,371.5 830.9,373.1 831.2,373.1 831.4,374.0 831.7,375.4 832.0,373.9 832.3,369.9 832.5,375.3 832.8,375.8 833.1,376.0 833.3,375.0 833.6,369.4 833.9,372.7 834.2,374.8 834.4,374.8 834.7,372.7 835.0,373.2 835.3,370.3 835.5,373.7 835.8,367.9 836.1,372.2 836.4,374.9 836.6,369.9 836.9,375.5 837.2,377.1 837.4,373.7 837.7,371.3 838.0,371.3 838.3,369.6 838.5,374.0 838.8,369.7 839.1,372.7 839.4,369.6 839.6,373.3 839.9,368.8 840.2,371.7 840.5,370.2 840.7,374.2 841.0,370.8 841.3,371.3 841.5,374.2 841.8,368.9 842.1,368.5 842.4,371.2 842.6,368.8 842.9,375.0 843.2,371.3 843.5,371.5 843.7,370.0 844.0,363.4 844.3,373.5 844.6,370.2 844.8,365.6 845.1,367.7 845.4,370.0 845.7,372.8 845.9,370.5 846.2,370.5 846.5,370.2 846.7,367.2 847.0,367.6 847.3,369.0 847.6,365.7 847.8,368.7 848.1,370.0 848.4,362.7 848.7,367.5 848.9,367.2 849.2,367.9 849.5,371.6 849.8,364.0 850.0,371.6 850.3,368.4 850.6,372.4 850.8,365.5 851.1,367.0 851.4,365.6 851.7,366.9 851.9,363.4 852.2,363.4 852.5,364.6 852.8,366.3 853.0,361.5 853.3,363.6 853.6,362.7 853.9,364.7 854.1,365.8 854.4,360.1 854.7,361.1 855.0,362.5 855.2,360.8 855.5,366.5 855.8,367.0 856.0,364.8 856.3,364.1 856.6,360.3 856.9,360.6 857.1,363.9 857.4,366.4 857.7,362.1 858.0,363.7 858.2,366.9 858.5,367.3 858.8,361.0 859.1,364.1 859.3,365.4 859.6,359.9 859.9,362.8 860.1,364.6 860.4,363.1 860.7,365.8 861.0,363.8 861.2,360.9 861.5,362.2 861.8,360.3 862.1,362.4 862.3,367.1 862.6,366.6 862.9,367.3 863.2,369.4 863.4,363.9 863.7,365.6 864.0,367.3 864.2,371.1 864.5,368.1 864.8,367.3 865.1,368.5 865.3,365.9 865.6,363.6 865.9,369.5 866.2,367.5 866.4,369.7 866.7,366.1 867.0,366.9 867.3,370.9 867.5,369.8 867.8,371.6 868.1,368.0 868.4,369.9 868.6,371.4 868.9,372.1 869.2,370.0 869.4,370.9 869.7,370.1 870.0,370.1 870.3,370.4 870.5,371.7 870.8,367.6 871.1,370.7 871.4,368.5 871.6,371.0 871.9,370.4 872.2,371.5 872.5,370.5 872.7,370.8 873.0,368.0 873.3,374.5 873.5,368.2 873.8,367.0 874.1,372.3 874.4,372.9 874.6,371.3 874.9,370.8 875.2,369.0 875.5,376.0 875.7,367.8 876.0,377.2 876.3,368.2 876.6,369.5 876.8,371.4 877.1,370.9 877.4,373.1 877.7,370.1 877.9,371.3 878.2,368.4 878.5,374.9 878.7,371.5 879.0,370.5 879.3,372.3 879.6,374.4 879.8,373.2 880.1,370.7 880.4,372.8 880.7,373.3 880.9,373.5 881.2,371.8 881.5,374.2 881.8,370.1 882.0,372.9 882.3,370.8 882.6,372.8 882.8,371.4 883.1,374.3 883.4,371.9 883.7,375.6 883.9,370.7 884.2,375.2 884.5,370.9 884.8,367.2 885.0,370.6 885.3,374.9 885.6,373.4 885.9,374.1 886.1,372.1 886.4,373.8 886.7,370.7 887.0,377.0 887.2,376.7 887.5,374.1 887.8,371.7 888.0,371.6 888.3,374.6 888.6,374.0 888.9,371.1 889.1,374.9 889.4,375.2 889.7,374.5 890.0,374.2 890.2,373.8 890.5,373.3 890.8,372.6 891.1,371.9 891.3,376.2 891.6,369.8 891.9,373.6 892.1,375.3 892.4,378.7 892.7,372.6 893.0,376.6 893.2,376.4 893.5,375.6 893.8,377.7 894.1,369.6 894.3,375.8 894.6,373.3 894.9,374.5 895.2,373.2 895.4,371.6 895.7,369.2 896.0,374.5 896.2,373.0 896.5,370.5 896.8,373.2 897.1,371.0 897.3,371.5 897.6,373.9 897.9,375.3 898.2,369.0 898.4,373.3 898.7,374.8 899.0,370.5 899.3,372.7 899.5,374.2 899.8,375.6 900.1,370.8 900.4,369.6 900.6,371.9 900.9,372.2 901.2,373.3 901.4,373.4 901.7,368.8 902.0,375.0 902.3,369.5 902.5,374.1 902.8,374.4 903.1,374.2 903.4,374.0 903.6,374.1 903.9,371.4 904.2,371.3 904.5,378.1 904.7,376.9 905.0,376.3 905.3,375.1 905.5,369.5 905.8,377.5 906.1,372.7 906.4,373.1 906.6,374.9 906.9,371.6 907.2,376.2 907.5,367.5 907.7,375.9 908.0,374.3 908.3,371.1 908.6,375.0 908.8,375.8 909.1,374.9 909.4,375.2 909.7,372.4 909.9,375.4 910.2,375.4 910.5,376.0 910.7,374.5 911.0,369.0 911.3,374.1 911.6,369.8 911.8,371.1 912.1,372.5 912.4,373.2 912.7,372.1 912.9,373.5 913.2,373.9 913.5,373.1 913.8,372.8 914.0,373.4 914.3,374.2 914.6,370.4 914.8,369.1 915.1,375.0 915.4,372.8 915.7,367.1 915.9,375.0 916.2,375.1 916.5,368.1 916.8,369.6 917.0,371.1 917.3,369.5 917.6,370.8 917.9,372.1 918.1,374.5 918.4,366.4 918.7,372.4 918.9,374.7 919.2,366.5 919.5,372.9 919.8,372.0 920.0,370.8 920.3,373.9 920.6,375.2 920.9,374.6 921.1,376.8 921.4,370.4 921.7,367.2 922.0,370.7 922.2,372.4 922.5,374.7 922.8,373.2 923.1,370.5 923.3,375.1 923.6,372.9 923.9,372.4 924.1,371.3 924.4,372.7 924.7,373.1 925.0,371.8 925.2,366.1 925.5,369.6 925.8,372.6 926.1,375.3 926.3,374.3 926.6,374.1 926.9,375.6 927.2,373.1 927.4,374.6 927.7,373.8 928.0,371.9 928.2,369.2 928.5,367.5 928.8,372.3 929.1,368.3 929.3,370.9 929.6,372.9 929.9,369.4 930.2,373.2 930.4,371.2 930.7,368.9 931.0,372.3 931.3,372.6 931.5,369.7 931.8,371.9 932.1,368.0 932.4,370.9 932.6,371.3 932.9,368.1 933.2,370.7 933.4,373.8 933.7,368.8 934.0,367.6 934.3,366.8 934.5,368.3 934.8,367.4 935.1,366.0 935.4,370.1 935.6,370.6 935.9,367.4 936.2,369.7 936.5,371.7 936.7,370.3 937.0,369.8 937.3,370.8 937.5,367.6 937.8,371.1 938.1,373.3 938.4,367.2 938.6,364.2 938.9,366.8 939.2,366.0 939.5,368.8 939.7,371.0 940.0,369.4 940.3,371.9 940.6,368.8 940.8,367.7 941.1,362.8 941.4,368.1 941.7,365.5 941.9,365.6 942.2,366.0 942.5,370.3 942.7,368.3 943.0,366.1 943.3,362.4 943.6,364.5 943.8,364.7 944.1,367.1 944.4,366.1 944.7,365.8 944.9,362.0 945.2,366.2 945.5,370.0 945.8,359.9 946.0,360.4 946.3,362.7 946.6,364.5 946.8,362.4 947.1,361.7 947.4,364.6 947.7,358.0 947.9,355.2 948.2,356.0 948.5,361.1 948.8,361.0 949.0,357.2 949.3,354.1 949.6,355.0 949.9,357.4 950.1,358.3 950.4,353.8 950.7,352.7 950.9,351.9 951.2,352.0 951.5,354.5 951.8,352.6 952.0,352.4 952.3,351.1 952.6,350.7 952.9,346.4 953.1,346.3 953.4,349.2 953.7,348.7 954.0,349.8 954.2,346.3 954.5,343.8 954.8,345.0 955.1,344.4 955.3,345.9 955.6,343.8 955.9,345.1 956.1,344.9 956.4,344.7 956.7,344.6 957.0,340.6 957.2,345.8 957.5,347.1 957.8,345.2 958.1,347.2 958.3,344.5 958.6,342.3 958.9,345.3 959.2,344.2 959.4,344.3 959.7,349.0 960.0,343.3 960.2,348.8 960.5,345.1 960.8,342.8 961.1,349.5 961.3,348.5 961.6,349.4 961.9,350.1 962.2,352.8 962.4,351.7 962.7,350.8 963.0,351.8 963.3,353.8 963.5,352.0 963.8,354.9 964.1,349.6 964.4,354.8 964.6,355.7 964.9,358.0 965.2,354.2 965.4,356.9 965.7,358.9 966.0,365.1 966.3,359.3 966.5,360.8 966.8,358.5 967.1,365.3 967.4,360.1 967.6,360.5 967.9,361.7 968.2,358.7 968.5,359.7 968.7,361.6 969.0,360.8 969.3,365.3 969.5,362.2 969.8,368.8 970.1,364.5 970.4,362.4 970.6,364.7 970.9,366.2 971.2,364.8 971.5,366.0 971.7,364.6 972.0,363.5 972.3,365.3 972.6,369.7 972.8,364.9 973.1,365.8 973.4,362.5 973.6,364.6 973.9,367.0 974.2,365.5 974.5,369.1 974.7,368.7 975.0,365.5 975.3,366.3 975.6,368.1 975.8,367.4 976.1,365.9 976.4,362.3 976.7,369.7 976.9,366.6 977.2,366.8 977.5,364.7 977.8,369.7 978.0,366.0 978.3,366.5 978.6,361.3 978.8,364.8 979.1,365.6 979.4,366.4 979.7,366.9 979.9,364.7 980.2,367.3 980.5,364.4 980.8,364.1 981.0,364.3 981.3,360.1 981.6,358.6 981.9,367.7 982.1,359.2 982.4,361.5 982.7,364.0 982.9,360.8 983.2,364.6 983.5,357.2 983.8,361.7 984.0,362.6 984.3,365.9 984.6,364.0 984.9,358.5 985.1,362.0 985.4,360.3 985.7,356.6 986.0,357.9 986.2,361.3 986.5,357.9 986.8,356.2 987.1,356.7 987.3,355.0 987.6,354.1 987.9,358.5 988.1,358.6 988.4,359.8 988.7,353.7 989.0,354.6 989.2,358.1 989.5,357.4 989.8,356.7 990.1,354.3 990.3,356.4 990.6,353.9 990.9,360.9 991.2,359.0 991.4,355.2 991.7,360.6 992.0,355.4 992.2,359.4 992.5,358.6 992.8,357.5 993.1,361.9 993.3,355.1 993.6,358.5 993.9,358.8 994.2,355.7 994.4,356.6 994.7,360.8 995.0,361.4 995.3,358.8 995.5,362.8 995.8,362.9 996.1,364.0 996.4,362.0 996.6,362.7 996.9,364.7 997.2,362.3 997.4,362.0 997.7,361.5 998.0,365.8 998.3,367.9 998.5,361.1 998.8,365.0 999.1,367.7 999.4,369.7 999.6,367.3 999.9,365.1 1000.2,368.9 1000.5,372.8 1000.7,368.7 1001.0,369.7"/><polyline fill="none" stroke="#FF0000" stroke-width="1.9" stroke-linejoin="round" points="43.8,434.9 44.0,427.7 44.3,432.9 44.6,434.4 44.8,433.4 45.1,431.6 45.4,430.4 45.7,430.0 45.9,428.4 46.2,430.2 46.5,428.7 46.8,431.2 47.0,430.9 47.3,430.1 47.6,430.5 47.9,431.6 48.1,428.7 48.4,432.9 48.7,431.9 48.9,432.9 49.2,430.9 49.5,431.2 49.8,432.0 50.0,431.9 50.3,430.9 50.6,431.0 50.9,430.6 51.1,431.0 51.4,430.2 51.7,430.1 52.0,429.7 52.2,435.0 52.5,430.5 52.8,431.7 53.0,429.8 53.3,432.3 53.6,434.8 53.9,430.5 54.1,432.5 54.4,432.0 54.7,434.1 55.0,432.0 55.2,432.0 55.5,431.8 55.8,428.0 56.1,434.5 56.3,436.0 56.6,430.6 56.9,434.3 57.2,432.5 57.4,435.7 57.7,431.4 58.0,433.6 58.2,435.5 58.5,433.9 58.8,433.2 59.1,432.6 59.3,431.4 59.6,433.1 59.9,430.7 60.2,436.5 60.4,434.2 60.7,432.6 61.0,429.7 61.3,435.4 61.5,436.0 61.8,434.1 62.1,435.1 62.3,435.1 62.6,433.1 62.9,432.7 63.2,433.5 63.4,436.0 63.7,432.1 64.0,430.0 64.3,433.7 64.5,433.7 64.8,433.3 65.1,433.9 65.4,430.9 65.6,431.7 65.9,432.7 66.2,433.4 66.5,434.7 66.7,435.2 67.0,434.1 67.3,433.3 67.5,431.5 67.8,432.7 68.1,430.3 68.4,432.2 68.6,434.6 68.9,435.0 69.2,431.6 69.5,436.3 69.7,428.7 70.0,435.0 70.3,433.8 70.6,433.5 70.8,434.8 71.1,433.0 71.4,438.8 71.6,433.0 71.9,433.3 72.2,434.7 72.5,429.8 72.7,433.8 73.0,431.0 73.3,437.0 73.6,433.1 73.8,433.9 74.1,430.3 74.4,438.1 74.7,430.5 74.9,431.1 75.2,432.6 75.5,429.4 75.7,431.4 76.0,433.4 76.3,436.6 76.6,436.7 76.8,431.8 77.1,433.1 77.4,435.9 77.7,437.0 77.9,432.6 78.2,433.9 78.5,434.5 78.8,434.8 79.0,434.0 79.3,438.5 79.6,434.1 79.9,437.2 80.1,435.8 80.4,442.4 80.7,438.0 80.9,430.6 81.2,436.2 81.5,430.4 81.8,437.8 82.0,434.2 82.3,430.3 82.6,432.8 82.9,434.2 83.1,438.1 83.4,435.2 83.7,436.1 84.0,433.6 84.2,434.0 84.5,431.8 84.8,434.2 85.0,434.5 85.3,434.9 85.6,433.2 85.9,434.6 86.1,434.1 86.4,435.6 86.7,433.7 87.0,433.8 87.2,433.1 87.5,433.6 87.8,434.5 88.1,432.9 88.3,437.9 88.6,437.4 88.9,436.0 89.2,436.9 89.4,432.6 89.7,433.9 90.0,434.3 90.2,435.9 90.5,437.1 90.8,437.3 91.1,432.2 91.3,435.3 91.6,437.9 91.9,434.9 92.2,436.6 92.4,431.9 92.7,435.7 93.0,435.0 93.3,431.2 93.5,437.4 93.8,438.7 94.1,437.5 94.3,435.0 94.6,435.5 94.9,434.4 95.2,437.2 95.4,436.9 95.7,439.1 96.0,435.9 96.3,438.0 96.5,435.5 96.8,434.5 97.1,436.0 97.4,434.2 97.6,434.2 97.9,437.8 98.2,437.7 98.4,434.4 98.7,434.2 99.0,435.8 99.3,434.6 99.5,437.8 99.8,435.6 100.1,433.4 100.4,434.4 100.6,437.3 100.9,440.9 101.2,437.5 101.5,433.4 101.7,434.4 102.0,436.8 102.3,436.1 102.6,436.8 102.8,441.0 103.1,434.3 103.4,434.4 103.6,436.5 103.9,436.7 104.2,437.1 104.5,438.5 104.7,436.7 105.0,439.1 105.3,437.2 105.6,437.7 105.8,433.1 106.1,435.0 106.4,436.1 106.7,438.4 106.9,435.6 107.2,434.9 107.5,435.4 107.7,440.8 108.0,433.8 108.3,437.6 108.6,437.3 108.8,440.3 109.1,438.7 109.4,436.5 109.7,439.2 109.9,440.2 110.2,436.6 110.5,433.7 110.8,434.8 111.0,437.6 111.3,435.2 111.6,437.8 111.9,440.0 112.1,438.0 112.4,442.4 112.7,437.3 112.9,434.9 113.2,438.1 113.5,439.9 113.8,434.7 114.0,438.8 114.3,441.4 114.6,438.3 114.9,441.9 115.1,434.6 115.4,439.2 115.7,434.2 116.0,434.1 116.2,434.7 116.5,440.3 116.8,438.7 117.0,441.1 117.3,436.2 117.6,434.4 117.9,440.0 118.1,436.6 118.4,434.8 118.7,439.9 119.0,440.5 119.2,436.5 119.5,438.6 119.8,439.5 120.1,436.2 120.3,436.5 120.6,439.0 120.9,442.1 121.2,436.3 121.4,440.3 121.7,439.8 122.0,439.0 122.2,438.2 122.5,436.8 122.8,440.2 123.1,438.4 123.3,433.2 123.6,439.5 123.9,437.0 124.2,438.5 124.4,443.4 124.7,439.6 125.0,434.2 125.3,438.0 125.5,436.4 125.8,441.2 126.1,431.5 126.3,440.3 126.6,439.2 126.9,438.3 127.2,440.1 127.4,443.2 127.7,435.0 128.0,438.1 128.3,439.2 128.5,439.3 128.8,438.7 129.1,440.4 129.4,439.7 129.6,438.5 129.9,435.2 130.2,441.0 130.4,442.9 130.7,442.3 131.0,440.6 131.3,442.4 131.5,436.3 131.8,441.6 132.1,440.6 132.4,439.7 132.6,442.5 132.9,439.5 133.2,439.1 133.5,437.7 133.7,435.8 134.0,439.0 134.3,444.0 134.6,444.3 134.8,438.7 135.1,440.5 135.4,443.6 135.6,437.8 135.9,439.2 136.2,437.0 136.5,443.9 136.7,438.8 137.0,439.5 137.3,440.3 137.6,438.4 137.8,446.3 138.1,443.1 138.4,445.3 138.7,435.8 138.9,442.3 139.2,440.2 139.5,438.0 139.7,440.8 140.0,444.4 140.3,443.4 140.6,439.6 140.8,448.8 141.1,443.5 141.4,439.0 141.7,439.0 141.9,439.5 142.2,440.8 142.5,439.8 142.8,439.6 143.0,443.3 143.3,439.6 143.6,441.5 143.9,439.8 144.1,440.7 144.4,444.0 144.7,441.4 144.9,443.2 145.2,441.2 145.5,444.0 145.8,441.4 146.0,444.2 146.3,438.6 146.6,444.1 146.9,442.6 147.1,439.5 147.4,440.1 147.7,437.0 148.0,441.0 148.2,442.1 148.5,440.5 148.8,444.1 149.0,436.7 149.3,441.2 149.6,438.8 149.9,440.5 150.1,443.7 150.4,441.7 150.7,445.2 151.0,441.0 151.2,440.3 151.5,441.2 151.8,438.4 152.1,439.9 152.3,441.7 152.6,444.1 152.9,439.6 153.1,439.8 153.4,438.3 153.7,438.7 154.0,441.8 154.2,442.0 154.5,442.7 154.8,441.3 155.1,444.4 155.3,437.9 155.6,441.9 155.9,443.5 156.2,441.3 156.4,443.1 156.7,441.6 157.0,441.3 157.3,442.6 157.5,440.7 157.8,442.2 158.1,443.7 158.3,439.8 158.6,443.9 158.9,445.1 159.2,446.2 159.4,441.7 159.7,445.1 160.0,438.2 160.3,439.4 160.5,442.7 160.8,440.0 161.1,440.4 161.4,440.3 161.6,441.9 161.9,441.1 162.2,440.5 162.4,442.6 162.7,441.5 163.0,442.7 163.3,443.5 163.5,444.0 163.8,442.3 164.1,441.9 164.4,441.9 164.6,440.4 164.9,444.0 165.2,442.8 165.5,445.3 165.7,443.7 166.0,441.9 166.3,445.0 166.6,442.4 166.8,442.9 167.1,444.2 167.4,443.7 167.6,441.4 167.9,444.8 168.2,444.1 168.5,443.2 168.7,442.8 169.0,443.8 169.3,439.9 169.6,446.3 169.8,437.7 170.1,441.1 170.4,441.2 170.7,444.3 170.9,443.5 171.2,444.3 171.5,440.7 171.7,446.2 172.0,445.6 172.3,438.8 172.6,444.0 172.8,439.2 173.1,442.4 173.4,444.9 173.7,443.7 173.9,440.7 174.2,442.3 174.5,446.2 174.8,444.1 175.0,445.4 175.3,440.0 175.6,445.0 175.9,444.3 176.1,441.7 176.4,447.1 176.7,443.9 176.9,446.0 177.2,442.9 177.5,444.9 177.8,445.3 178.0,443.8 178.3,444.4 178.6,444.9 178.9,444.0 179.1,441.4 179.4,445.0 179.7,444.0 180.0,444.9 180.2,442.5 180.5,447.8 180.8,446.4 181.0,447.5 181.3,448.7 181.6,446.7 181.9,443.9 182.1,441.7 182.4,447.1 182.7,445.2 183.0,446.5 183.2,447.6 183.5,444.3 183.8,442.7 184.1,445.7 184.3,443.8 184.6,443.0 184.9,445.7 185.1,444.3 185.4,446.0 185.7,442.5 186.0,444.7 186.2,444.4 186.5,444.9 186.8,443.7 187.1,446.5 187.3,441.9 187.6,446.1 187.9,447.6 188.2,445.1 188.4,445.4 188.7,443.5 189.0,445.8 189.3,446.2 189.5,445.7 189.8,446.1 190.1,446.5 190.3,445.9 190.6,441.3 190.9,442.9 191.2,445.2 191.4,450.2 191.7,447.9 192.0,445.5 192.3,445.1 192.5,444.6 192.8,446.9 193.1,445.0 193.4,445.8 193.6,443.7 193.9,444.7 194.2,443.5 194.4,444.0 194.7,445.0 195.0,448.4 195.3,446.6 195.5,448.2 195.8,444.9 196.1,446.5 196.4,444.6 196.6,445.5 196.9,445.6 197.2,442.4 197.5,446.1 197.7,443.4 198.0,447.1 198.3,444.7 198.6,442.7 198.8,443.5 199.1,444.2 199.4,449.3 199.6,443.5 199.9,445.4 200.2,446.6 200.5,445.9 200.7,446.1 201.0,447.8 201.3,444.7 201.6,450.1 201.8,449.3 202.1,446.7 202.4,449.3 202.7,446.6 202.9,445.4 203.2,443.7 203.5,444.9 203.7,447.6 204.0,447.1 204.3,449.8 204.6,449.8 204.8,448.3 205.1,446.6 205.4,450.3 205.7,446.3 205.9,441.1 206.2,445.8 206.5,447.4 206.8,447.6 207.0,447.7 207.3,448.1 207.6,440.8 207.8,451.4 208.1,447.6 208.4,446.6 208.7,442.2 208.9,448.2 209.2,444.2 209.5,442.1 209.8,447.7 210.0,447.6 210.3,446.1 210.6,444.4 210.9,447.4 211.1,446.6 211.4,447.2 211.7,447.4 212.0,443.1 212.2,447.4 212.5,443.7 212.8,447.5 213.0,445.6 213.3,445.3 213.6,450.0 213.9,446.9 214.1,446.9 214.4,448.2 214.7,451.3 215.0,440.2 215.2,447.6 215.5,446.6 215.8,449.0 216.1,446.6 216.3,446.4 216.6,447.9 216.9,446.5 217.1,444.6 217.4,446.7 217.7,450.7 218.0,447.9 218.2,441.5 218.5,446.3 218.8,444.5 219.1,448.7 219.3,444.1 219.6,446.4 219.9,447.8 220.2,448.5 220.4,445.3 220.7,447.3 221.0,451.7 221.3,445.2 221.5,446.8 221.8,444.7 222.1,446.3 222.3,447.8 222.6,446.8 222.9,448.2 223.2,443.9 223.4,447.1 223.7,446.0 224.0,440.3 224.3,449.2 224.5,447.0 224.8,445.4 225.1,449.2 225.4,448.0 225.6,441.5 225.9,447.8 226.2,452.2 226.4,447.5 226.7,448.7 227.0,443.0 227.3,443.3 227.5,443.6 227.8,449.2 228.1,448.9 228.4,441.1 228.6,448.8 228.9,442.1 229.2,443.6 229.5,446.6 229.7,445.2 230.0,446.7 230.3,447.3 230.6,449.4 230.8,445.7 231.1,445.3 231.4,445.2 231.6,452.3 231.9,449.5 232.2,449.6 232.5,448.1 232.7,447.4 233.0,450.1 233.3,446.7 233.6,443.4 233.8,443.2 234.1,452.6 234.4,444.5 234.7,445.3 234.9,446.5 235.2,449.3 235.5,444.3 235.7,446.3 236.0,447.7 236.3,443.9 236.6,447.0 236.8,449.3 237.1,447.4 237.4,447.0 237.7,447.9 237.9,446.6 238.2,445.8 238.5,445.5 238.8,448.7 239.0,443.0 239.3,444.0 239.6,448.6 239.8,449.5 240.1,446.9 240.4,444.7 240.7,443.0 240.9,448.1 241.2,447.1 241.5,447.4 241.8,447.6 242.0,444.2 242.3,444.8 242.6,446.3 242.9,446.1 243.1,442.8 243.4,443.6 243.7,446.0 244.0,449.7 244.2,452.0 244.5,447.0 244.8,445.7 245.0,447.1 245.3,446.6 245.6,444.4 245.9,438.9 246.1,446.8 246.4,444.9 246.7,446.2 247.0,444.1 247.2,445.6 247.5,446.7 247.8,443.2 248.1,444.7 248.3,447.8 248.6,448.1 248.9,442.2 249.1,448.2 249.4,449.4 249.7,447.3 250.0,447.4 250.2,446.7 250.5,447.2 250.8,445.2 251.1,449.3 251.3,446.2 251.6,442.9 251.9,447.5 252.2,448.3 252.4,447.1 252.7,443.9 253.0,447.6 253.3,439.4 253.5,450.0 253.8,447.4 254.1,441.9 254.3,441.2 254.6,451.5 254.9,446.5 255.2,444.3 255.4,446.7 255.7,445.4 256.0,445.4 256.3,446.6 256.5,446.5 256.8,443.3 257.1,446.5 257.4,446.2 257.6,443.4 257.9,447.9 258.2,446.9 258.4,443.2 258.7,449.8 259.0,446.8 259.3,448.7 259.5,443.8 259.8,444.4 260.1,445.7 260.4,444.1 260.6,444.9 260.9,442.0 261.2,450.0 261.5,446.4 261.7,448.2 262.0,449.1 262.3,444.9 262.5,449.6 262.8,439.5 263.1,444.0 263.4,443.5 263.6,444.6 263.9,442.0 264.2,446.6 264.5,449.1 264.7,445.0 265.0,445.8 265.3,439.2 265.6,442.5 265.8,445.1 266.1,442.5 266.4,444.7 266.7,443.0 266.9,444.7 267.2,440.5 267.5,444.9 267.7,446.9 268.0,445.1 268.3,448.3 268.6,443.1 268.8,445.3 269.1,440.1 269.4,445.2 269.7,444.1 269.9,442.2 270.2,445.3 270.5,439.9 270.8,441.8 271.0,443.0 271.3,439.8 271.6,439.7 271.8,444.2 272.1,440.9 272.4,439.2 272.7,440.3 272.9,439.9 273.2,439.3 273.5,441.7 273.8,438.2 274.0,437.1 274.3,440.4 274.6,439.9 274.9,442.8 275.1,436.6 275.4,438.1 275.7,441.6 276.0,439.8 276.2,437.4 276.5,436.5 276.8,439.8 277.0,437.8 277.3,435.7 277.6,436.3 277.9,436.0 278.1,438.8 278.4,430.3 278.7,434.6 279.0,438.4 279.2,431.2 279.5,434.1 279.8,436.3 280.1,430.8 280.3,432.1 280.6,430.9 280.9,432.8 281.1,430.3 281.4,428.8 281.7,431.0 282.0,430.7 282.2,432.2 282.5,427.9 282.8,427.8 283.1,426.0 283.3,429.4 283.6,428.7 283.9,423.0 284.2,418.9 284.4,427.7 284.7,417.6 285.0,416.8 285.3,418.5 285.5,423.2 285.8,420.1 286.1,415.4 286.3,416.3 286.6,412.6 286.9,414.1 287.2,408.6 287.4,411.7 287.7,407.3 288.0,402.3 288.3,397.1 288.5,401.9 288.8,397.7 289.1,391.2 289.4,388.3 289.6,386.1 289.9,383.1 290.2,379.8 290.4,376.2 290.7,371.9 291.0,365.8 291.3,367.8 291.5,356.2 291.8,349.4 292.1,346.5 292.4,335.9 292.6,332.4 292.9,324.0 293.2,318.5 293.5,304.1 293.7,292.3 294.0,292.1 294.3,278.3 294.5,274.2 294.8,261.1 295.1,247.3 295.4,240.2 295.6,226.0 295.9,218.2 296.2,214.0 296.5,208.3 296.7,197.5 297.0,203.0 297.3,201.0 297.6,203.6 297.8,197.6 298.1,208.8 298.4,210.6 298.7,218.3 298.9,231.5 299.2,237.3 299.5,248.6 299.7,259.5 300.0,270.2 300.3,273.9 300.6,283.6 300.8,297.0 301.1,306.7 301.4,311.7 301.7,323.1 301.9,327.3 302.2,336.2 302.5,343.4 302.8,350.6 303.0,357.7 303.3,360.6 303.6,367.0 303.8,369.1 304.1,377.6 304.4,381.3 304.7,382.3 304.9,392.1 305.2,390.3 305.5,392.9 305.8,395.4 306.0,400.1 306.3,402.0 306.6,402.4 306.9,407.3 307.1,410.7 307.4,413.6 307.7,413.2 308.0,412.8 308.2,413.4 308.5,418.0 308.8,421.1 309.0,424.7 309.3,419.9 309.6,419.2 309.9,420.6 310.1,424.7 310.4,426.4 310.7,424.1 311.0,423.9 311.2,423.0 311.5,429.9 311.8,425.4 312.1,430.9 312.3,429.8 312.6,426.3 312.9,428.8 313.1,434.3 313.4,432.6 313.7,432.5 314.0,436.4 314.2,434.0 314.5,434.7 314.8,435.2 315.1,435.6 315.3,438.3 315.6,435.0 315.9,439.1 316.2,440.4 316.4,436.1 316.7,438.7 317.0,435.3 317.2,438.4 317.5,441.3 317.8,441.0 318.1,438.1 318.3,440.6 318.6,440.7 318.9,440.1 319.2,440.4 319.4,444.8 319.7,434.5 320.0,439.4 320.3,442.9 320.5,440.8 320.8,442.1 321.1,442.2 321.4,441.1 321.6,441.9 321.9,440.3 322.2,442.1 322.4,444.0 322.7,444.8 323.0,443.8 323.3,442.2 323.5,442.0 323.8,439.2 324.1,442.7 324.4,441.1 324.6,441.8 324.9,442.7 325.2,443.7 325.5,444.0 325.7,443.8 326.0,441.3 326.3,443.0 326.5,445.6 326.8,443.9 327.1,445.2 327.4,444.5 327.6,447.8 327.9,448.3 328.2,450.4 328.5,443.9 328.7,446.6 329.0,442.0 329.3,446.6 329.6,446.1 329.8,444.2 330.1,448.4 330.4,445.6 330.7,441.8 330.9,448.7 331.2,445.6 331.5,447.3 331.7,444.1 332.0,443.9 332.3,442.9 332.6,443.3 332.8,447.3 333.1,447.0 333.4,442.1 333.7,445.8 333.9,445.9 334.2,444.1 334.5,446.5 334.8,444.1 335.0,448.1 335.3,445.2 335.6,446.3 335.8,438.1 336.1,444.8 336.4,445.9 336.7,444.4 336.9,445.3 337.2,443.7 337.5,447.7 337.8,443.5 338.0,445.1 338.3,449.0 338.6,448.4 338.9,445.7 339.1,442.9 339.4,441.5 339.7,446.7 340.0,446.2 340.2,445.0 340.5,445.0 340.8,450.4 341.0,447.6 341.3,445.7 341.6,445.2 341.9,444.8 342.1,446.3 342.4,445.0 342.7,445.7 343.0,444.5 343.2,447.1 343.5,445.9 343.8,442.7 344.1,451.7 344.3,445.8 344.6,444.0 344.9,442.2 345.1,445.0 345.4,443.3 345.7,448.4 346.0,445.6 346.2,442.9 346.5,440.0 346.8,445.6 347.1,439.8 347.3,444.4 347.6,443.3 347.9,436.4 348.2,441.7 348.4,445.6 348.7,439.3 349.0,435.7 349.2,436.4 349.5,439.5 349.8,439.7 350.1,440.2 350.3,438.1 350.6,434.4 350.9,434.6 351.2,434.1 351.4,433.2 351.7,429.4 352.0,432.6 352.3,432.3 352.5,428.0 352.8,427.2 353.1,422.2 353.4,424.0 353.6,419.9 353.9,417.8 354.2,419.9 354.4,416.4 354.7,412.9 355.0,408.0 355.3,409.9 355.5,411.7 355.8,406.4 356.1,404.1 356.4,404.4 356.6,404.6 356.9,398.8 357.2,398.0 357.5,394.2 357.7,393.3 358.0,391.7 358.3,392.1 358.5,386.9 358.8,388.1 359.1,387.4 359.4,386.0 359.6,384.6 359.9,388.3 360.2,385.7 360.5,383.3 360.7,390.0 361.0,385.7 361.3,392.6 361.6,385.8 361.8,393.9 362.1,400.2 362.4,397.1 362.7,402.5 362.9,400.7 363.2,402.0 363.5,405.3 363.7,410.5 364.0,413.5 364.3,416.0 364.6,416.8 364.8,416.6 365.1,413.8 365.4,418.8 365.7,426.1 365.9,420.4 366.2,427.2 366.5,428.7 366.8,425.2 367.0,431.5 367.3,431.1 367.6,433.8 367.8,434.3 368.1,435.2 368.4,434.6 368.7,433.1 368.9,442.8 369.2,437.5 369.5,439.7 369.8,440.1 370.0,441.0 370.3,440.5 370.6,444.1 370.9,443.3 371.1,442.7 371.4,442.8 371.7,445.8 371.9,442.8 372.2,446.5 372.5,448.7 372.8,448.3 373.0,447.4 373.3,442.5 373.6,448.3 373.9,447.4 374.1,450.1 374.4,445.9 374.7,446.2 375.0,450.8 375.2,445.7 375.5,450.4 375.8,448.6 376.1,442.3 376.3,447.0 376.6,447.0 376.9,445.1 377.1,443.9 377.4,448.5 377.7,446.0 378.0,446.9 378.2,446.3 378.5,448.0 378.8,449.8 379.1,450.6 379.3,450.0 379.6,448.0 379.9,448.5 380.2,450.3 380.4,451.9 380.7,448.9 381.0,446.1 381.2,449.8 381.5,450.7 381.8,448.2 382.1,452.0 382.3,448.2 382.6,449.4 382.9,450.3 383.2,453.2 383.4,446.8 383.7,450.8 384.0,451.4 384.3,449.3 384.5,452.0 384.8,448.2 385.1,447.0 385.4,446.9 385.6,448.2 385.9,447.3 386.2,451.0 386.4,449.9 386.7,446.6 387.0,453.6 387.3,450.5 387.5,446.2 387.8,445.7 388.1,450.2 388.4,453.2 388.6,449.4 388.9,452.3 389.2,453.9 389.5,451.8 389.7,449.4 390.0,447.2 390.3,448.7 390.5,453.3 390.8,450.3 391.1,448.0 391.4,449.4 391.6,449.9 391.9,453.0 392.2,449.0 392.5,454.7 392.7,451.0 393.0,451.3 393.3,447.9 393.6,451.4 393.8,451.1 394.1,452.2 394.4,448.9 394.7,451.1 394.9,447.0 395.2,448.2 395.5,456.0 395.7,449.5 396.0,448.8 396.3,452.7 396.6,450.2 396.8,456.8 397.1,450.8 397.4,452.3 397.7,450.1 397.9,453.4 398.2,450.8 398.5,457.1 398.8,449.1 399.0,451.8 399.3,452.5 399.6,448.1 399.8,449.6 400.1,449.0 400.4,446.9 400.7,451.6 400.9,444.1 401.2,447.8 401.5,448.2 401.8,451.5 402.0,450.5 402.3,453.3 402.6,453.7 402.9,451.3 403.1,448.6 403.4,452.6 403.7,449.2 403.9,450.2 404.2,451.0 404.5,454.5 404.8,457.2 405.0,453.9 405.3,450.0 405.6,453.3 405.9,454.1 406.1,449.1 406.4,451.5 406.7,449.6 407.0,449.7 407.2,451.4 407.5,451.5 407.8,449.4 408.1,451.3 408.3,448.4 408.6,450.9 408.9,451.6 409.1,450.2 409.4,447.7 409.7,449.5 410.0,452.2 410.2,453.5 410.5,453.5 410.8,453.7 411.1,455.4 411.3,450.3 411.6,454.0 411.9,449.5 412.2,455.4 412.4,453.6 412.7,449.0 413.0,453.0 413.2,453.7 413.5,449.5 413.8,452.2 414.1,453.5 414.3,455.7 414.6,450.2 414.9,455.1 415.2,449.1 415.4,449.6 415.7,454.6 416.0,453.2 416.3,449.7 416.5,455.1 416.8,452.7 417.1,452.0 417.4,450.9 417.6,445.6 417.9,451.6 418.2,453.8 418.4,451.5 418.7,453.3 419.0,451.4 419.3,454.8 419.5,444.9 419.8,452.7 420.1,449.5 420.4,452.1 420.6,453.2 420.9,454.3 421.2,453.5 421.5,454.5 421.7,449.3 422.0,452.0 422.3,446.6 422.5,452.5 422.8,447.9 423.1,454.2 423.4,452.2 423.6,451.0 423.9,450.2 424.2,452.1 424.5,450.3 424.7,448.4 425.0,452.6 425.3,449.7 425.6,452.8 425.8,449.5 426.1,448.9 426.4,456.9 426.6,453.1 426.9,454.6 427.2,451.2 427.5,451.7 427.7,451.7 428.0,456.3 428.3,453.3 428.6,452.0 428.8,451.7 429.1,452.0 429.4,454.3 429.7,451.9 429.9,452.0 430.2,455.0 430.5,454.2 430.8,453.8 431.0,456.5 431.3,451.7 431.6,449.3 431.8,448.2 432.1,451.8 432.4,452.5 432.7,454.2 432.9,448.6 433.2,448.8 433.5,451.4 433.8,451.3 434.0,448.7 434.3,451.5 434.6,453.5 434.9,451.3 435.1,457.3 435.4,453.6 435.7,450.0 435.9,451.4 436.2,448.6 436.5,456.9 436.8,451.2 437.0,451.2 437.3,453.6 437.6,451.1 437.9,450.3 438.1,451.7 438.4,454.2 438.7,454.2 439.0,448.7 439.2,448.0 439.5,452.9 439.8,451.1 440.1,450.8 440.3,454.3 440.6,452.9 440.9,450.7 441.1,453.3 441.4,450.1 441.7,450.7 442.0,456.2 442.2,451.3 442.5,453.2 442.8,451.3 443.1,451.2 443.3,449.3 443.6,449.3 443.9,454.9 444.2,457.1 444.4,453.5 444.7,453.3 445.0,450.7 445.2,451.9 445.5,455.5 445.8,458.1 446.1,453.7 446.3,453.0 446.6,454.6 446.9,452.4 447.2,450.3 447.4,450.0 447.7,451.4 448.0,451.1 448.3,446.5 448.5,447.9 448.8,454.0 449.1,454.3 449.4,454.0 449.6,451.6 449.9,450.5 450.2,452.0 450.4,452.8 450.7,451.0 451.0,454.6 451.3,450.5 451.5,446.6 451.8,453.7 452.1,454.2 452.4,451.7 452.6,454.5 452.9,454.9 453.2,446.1 453.5,453.1 453.7,449.3 454.0,453.8 454.3,452.7 454.5,454.1 454.8,451.5 455.1,450.8 455.4,452.8 455.6,457.9 455.9,453.2 456.2,449.7 456.5,452.1 456.7,451.6 457.0,455.2 457.3,452.5 457.6,451.5 457.8,452.6 458.1,450.5 458.4,453.3 458.6,449.7 458.9,451.1 459.2,452.7 459.5,449.0 459.7,449.1 460.0,450.4 460.3,455.7 460.6,454.2 460.8,452.4 461.1,454.6 461.4,454.3 461.7,450.9 461.9,449.7 462.2,455.1 462.5,450.7 462.8,453.8 463.0,448.6 463.3,452.1 463.6,449.4 463.8,453.9 464.1,454.1 464.4,453.2 464.7,454.2 464.9,451.0 465.2,453.3 465.5,453.7 465.8,450.3 466.0,453.7 466.3,453.0 466.6,453.4 466.9,451.8 467.1,452.2 467.4,453.5 467.7,452.6 467.9,453.7 468.2,449.2 468.5,454.6 468.8,450.5 469.0,454.8 469.3,448.9 469.6,450.9 469.9,452.9 470.1,453.3 470.4,451.3 470.7,450.2 471.0,453.8 471.2,454.7 471.5,450.2 471.8,449.5 472.1,450.9 472.3,452.0 472.6,448.2 472.9,449.9 473.1,453.9 473.4,450.4 473.7,450.4 474.0,455.9 474.2,454.8 474.5,456.2 474.8,452.3 475.1,452.0 475.3,451.4 475.6,448.9 475.9,447.4 476.2,452.1 476.4,450.5 476.7,453.8 477.0,454.6 477.2,448.8 477.5,449.1 477.8,452.9 478.1,455.6 478.3,456.0 478.6,450.8 478.9,452.5 479.2,455.7 479.4,450.6 479.7,450.1 480.0,455.5 480.3,450.7 480.5,449.6 480.8,456.1 481.1,451.4 481.3,451.5 481.6,453.8 481.9,455.9 482.2,454.3 482.4,453.0 482.7,453.5 483.0,453.5 483.3,453.1 483.5,448.4 483.8,453.2 484.1,449.3 484.4,450.7 484.6,452.8 484.9,452.2 485.2,453.3 485.5,452.4 485.7,453.6 486.0,456.7 486.3,449.9 486.5,455.0 486.8,456.8 487.1,451.5 487.4,451.6 487.6,452.2 487.9,453.5 488.2,450.8 488.5,451.6 488.7,452.4 489.0,452.6 489.3,455.8 489.6,451.3 489.8,454.4 490.1,454.3 490.4,452.9 490.6,452.8 490.9,450.6 491.2,450.8 491.5,453.3 491.7,453.0 492.0,451.8 492.3,455.2 492.6,452.8 492.8,452.6 493.1,452.1 493.4,454.9 493.7,453.7 493.9,453.2 494.2,449.5 494.5,456.4 494.8,449.2 495.0,453.4 495.3,449.7 495.6,448.8 495.8,444.9 496.1,452.6 496.4,452.9 496.7,451.4 496.9,451.1 497.2,449.0 497.5,452.0 497.8,451.5 498.0,448.6 498.3,451.0 498.6,451.3 498.9,449.5 499.1,454.6 499.4,449.0 499.7,456.6 499.9,454.7 500.2,450.9 500.5,455.8 500.8,454.7 501.0,454.9 501.3,452.5 501.6,449.7 501.9,447.1 502.1,452.7 502.4,451.7 502.7,450.6 503.0,456.8 503.2,453.2 503.5,448.5 503.8,451.7 504.1,453.2 504.3,449.1 504.6,452.5 504.9,451.2 505.1,448.5 505.4,452.9 505.7,453.5 506.0,445.9 506.2,453.0 506.5,450.6 506.8,451.1 507.1,448.0 507.3,449.6 507.6,456.0 507.9,453.5 508.2,451.5 508.4,452.1 508.7,449.9 509.0,451.6 509.2,449.8 509.5,452.4 509.8,449.2 510.1,452.3 510.3,453.6 510.6,451.0 510.9,452.2 511.2,452.4 511.4,450.5 511.7,448.4 512.0,454.2 512.3,451.9 512.5,451.0 512.8,454.6 513.1,449.8 513.3,450.5 513.6,450.0 513.9,449.2 514.2,451.3 514.4,450.1 514.7,454.8 515.0,450.0 515.3,454.4 515.5,449.4 515.8,450.8 516.1,451.6 516.4,449.4 516.6,453.0 516.9,450.1 517.2,449.9 517.5,453.0 517.7,449.7 518.0,452.8 518.3,453.8 518.5,453.1 518.8,454.6 519.1,450.3 519.4,454.1 519.6,450.0 519.9,447.4 520.2,450.8 520.5,455.6 520.7,448.8 521.0,455.2 521.3,447.8 521.6,453.1 521.8,452.1 522.1,449.9 522.4,445.7 522.6,452.4 522.9,452.3 523.2,452.0 523.5,453.0 523.7,448.9 524.0,455.3 524.3,452.8 524.6,448.8 524.8,455.6 525.1,450.6 525.4,451.6 525.7,452.4 525.9,448.4 526.2,448.3 526.5,449.9 526.8,447.6 527.0,449.7 527.3,453.4 527.6,447.5 527.8,450.2 528.1,448.7 528.4,451.9 528.7,447.2 528.9,447.2 529.2,449.3 529.5,454.3 529.8,447.3 530.0,445.5 530.3,447.1 530.6,450.9 530.9,451.3 531.1,449.0 531.4,449.6 531.7,445.7 531.9,449.8 532.2,448.4 532.5,447.2 532.8,450.9 533.0,450.9 533.3,447.3 533.6,448.8 533.9,443.7 534.1,445.6 534.4,450.9 534.7,445.2 535.0,445.5 535.2,450.1 535.5,442.0 535.8,445.6 536.0,448.8 536.3,445.8 536.6,444.7 536.9,444.1 537.1,446.8 537.4,444.0 537.7,446.7 538.0,445.4 538.2,445.5 538.5,447.9 538.8,443.9 539.1,442.5 539.3,444.5 539.6,444.8 539.9,443.4 540.2,439.5 540.4,444.7 540.7,438.6 541.0,437.6 541.2,444.0 541.5,444.8 541.8,440.1 542.1,438.2 542.3,442.8 542.6,435.8 542.9,438.1 543.2,436.1 543.4,438.1 543.7,436.5 544.0,433.0 544.3,436.5 544.5,434.6 544.8,431.7 545.1,429.7 545.3,429.0 545.6,424.7 545.9,425.8 546.2,424.2 546.4,424.5 546.7,421.0 547.0,418.6 547.3,418.4 547.5,418.1 547.8,415.1 548.1,411.1 548.4,408.1 548.6,410.2 548.9,404.4 549.2,398.7 549.5,399.6 549.7,391.8 550.0,392.2 550.3,392.3 550.5,387.3 550.8,383.9 551.1,383.6 551.4,381.7 551.6,372.9 551.9,369.3 552.2,367.3 552.5,363.1 552.7,364.4 553.0,362.1 553.3,356.9 553.6,351.5 553.8,347.4 554.1,348.8 554.4,344.7 554.6,346.0 554.9,339.3 555.2,339.7 555.5,338.8 555.7,341.7 556.0,340.3 556.3,339.0 556.6,338.1 556.8,339.6 557.1,333.1 557.4,341.5 557.7,339.4 557.9,345.6 558.2,345.7 558.5,348.4 558.8,345.3 559.0,357.6 559.3,353.7 559.6,355.5 559.8,356.0 560.1,361.4 560.4,357.7 560.7,370.1 560.9,370.9 561.2,372.5 561.5,379.4 561.8,380.3 562.0,383.2 562.3,383.7 562.6,388.9 562.9,388.0 563.1,391.0 563.4,397.1 563.7,397.9 563.9,398.7 564.2,404.2 564.5,402.5 564.8,413.4 565.0,409.5 565.3,411.7 565.6,419.8 565.9,414.4 566.1,414.5 566.4,421.7 566.7,422.8 567.0,427.5 567.2,426.4 567.5,424.1 567.8,429.7 568.0,430.1 568.3,434.9 568.6,433.8 568.9,431.9 569.1,433.5 569.4,436.1 569.7,435.9 570.0,438.2 570.2,439.1 570.5,436.5 570.8,440.4 571.1,442.4 571.3,438.3 571.6,438.2 571.9,443.9 572.2,443.9 572.4,445.2 572.7,447.6 573.0,443.6 573.2,441.8 573.5,445.1 573.8,443.3 574.1,446.1 574.3,447.2 574.6,446.0 574.9,447.3 575.2,446.2 575.4,447.1 575.7,444.0 576.0,450.8 576.3,445.5 576.5,446.2 576.8,445.7 577.1,446.9 577.3,446.7 577.6,443.2 577.9,451.6 578.2,449.0 578.4,447.6 578.7,448.3 579.0,450.8 579.3,450.5 579.5,449.4 579.8,450.9 580.1,442.9 580.4,451.0 580.6,448.5 580.9,447.4 581.2,446.8 581.5,449.5 581.7,445.4 582.0,450.2 582.3,447.7 582.5,451.3 582.8,445.6 583.1,450.6 583.4,448.8 583.6,447.1 583.9,452.8 584.2,452.5 584.5,447.9 584.7,449.4 585.0,453.5 585.3,450.4 585.6,448.8 585.8,448.1 586.1,448.5 586.4,451.7 586.6,452.5 586.9,449.6 587.2,448.1 587.5,448.7 587.7,446.4 588.0,451.6 588.3,450.6 588.6,453.1 588.8,455.9 589.1,453.8 589.4,449.8 589.7,450.0 589.9,447.8 590.2,446.0 590.5,455.2 590.7,451.5 591.0,447.4 591.3,452.5 591.6,446.1 591.8,450.5 592.1,451.2 592.4,449.5 592.7,449.8 592.9,452.9 593.2,449.8 593.5,453.8 593.8,446.9 594.0,450.2 594.3,455.1 594.6,448.8 594.9,448.9 595.1,451.3 595.4,450.2 595.7,451.8 595.9,453.6 596.2,452.6 596.5,451.8 596.8,450.4 597.0,451.9 597.3,453.5 597.6,449.4 597.9,450.5 598.1,448.8 598.4,451.5 598.7,451.9 599.0,450.3 599.2,449.0 599.5,449.8 599.8,453.1 600.0,450.3 600.3,453.6 600.6,450.3 600.9,449.9 601.1,453.5 601.4,449.9 601.7,454.4 602.0,446.6 602.2,451.8 602.5,450.5 602.8,450.9 603.1,452.4 603.3,447.2 603.6,456.8 603.9,450.8 604.2,457.6 604.4,453.8 604.7,452.4 605.0,448.3 605.2,456.0 605.5,453.5 605.8,454.8 606.1,448.4 606.3,447.9 606.6,451.1 606.9,453.3 607.2,453.9 607.4,454.9 607.7,450.0 608.0,448.9 608.3,453.8 608.5,449.7 608.8,452.0 609.1,456.9 609.3,451.1 609.6,453.0 609.9,452.7 610.2,452.2 610.4,453.1 610.7,453.3 611.0,452.3 611.3,455.8 611.5,454.4 611.8,449.8 612.1,455.6 612.4,452.5 612.6,451.8 612.9,450.4 613.2,454.1 613.5,452.2 613.7,450.4 614.0,450.3 614.3,454.9 614.5,451.5 614.8,451.3 615.1,458.2 615.4,453.1 615.6,453.8 615.9,452.6 616.2,452.3 616.5,450.1 616.7,454.0 617.0,453.0 617.3,450.4 617.6,452.1 617.8,456.5 618.1,453.0 618.4,452.5 618.6,450.9 618.9,451.0 619.2,453.6 619.5,454.4 619.7,452.8 620.0,454.5 620.3,450.4 620.6,451.4 620.8,453.2 621.1,455.0 621.4,451.3 621.7,454.6 621.9,449.9 622.2,454.9 622.5,455.4 622.7,451.6 623.0,453.2 623.3,454.1 623.6,450.8 623.8,451.4 624.1,451.4 624.4,453.6 624.7,454.5 624.9,450.2 625.2,450.7 625.5,453.8 625.8,450.9 626.0,451.9 626.3,454.2 626.6,452.5 626.9,454.8 627.1,452.6 627.4,452.1 627.7,450.6 627.9,447.2 628.2,451.4 628.5,448.1 628.8,454.1 629.0,454.1 629.3,453.3 629.6,454.9 629.9,457.2 630.1,448.2 630.4,452.0 630.7,454.1 631.0,451.7 631.2,452.0 631.5,454.8 631.8,453.4 632.0,449.0 632.3,455.6 632.6,450.3 632.9,452.7 633.1,453.5 633.4,448.3 633.7,456.1 634.0,453.7 634.2,453.0 634.5,453.9 634.8,451.6 635.1,453.7 635.3,453.6 635.6,447.0 635.9,449.3 636.2,454.2 636.4,449.6 636.7,453.3 637.0,451.6 637.2,453.6 637.5,447.8 637.8,452.2 638.1,451.9 638.3,452.5 638.6,452.4 638.9,452.0 639.2,452.7 639.4,452.9 639.7,450.5 640.0,455.1 640.3,451.8 640.5,450.3 640.8,453.2 641.1,448.3 641.3,454.1 641.6,450.8 641.9,451.7 642.2,451.6 642.4,452.6 642.7,449.9 643.0,450.3 643.3,452.2 643.5,449.9 643.8,451.1 644.1,450.9 644.4,450.3 644.6,449.5 644.9,449.1 645.2,450.0 645.4,448.2 645.7,448.3 646.0,457.1 646.3,450.9 646.5,453.0 646.8,451.5 647.1,452.4 647.4,451.0 647.6,453.0 647.9,451.1 648.2,451.3 648.5,447.8 648.7,452.8 649.0,450.0 649.3,450.4 649.6,451.3 649.8,450.9 650.1,450.2 650.4,453.1 650.6,448.2 650.9,445.5 651.2,449.3 651.5,444.8 651.7,449.4 652.0,452.7 652.3,453.2 652.6,447.2 652.8,450.5 653.1,446.7 653.4,450.2 653.7,452.5 653.9,447.8 654.2,452.6 654.5,449.7 654.7,455.0 655.0,447.5 655.3,446.7 655.6,451.7 655.8,450.6 656.1,449.8 656.4,446.6 656.7,448.6 656.9,446.9 657.2,451.5 657.5,449.3 657.8,446.2 658.0,445.6 658.3,444.0 658.6,445.8 658.9,447.0 659.1,447.8 659.4,449.1 659.7,445.3 659.9,449.1 660.2,441.4 660.5,445.6 660.8,447.0 661.0,444.1 661.3,445.6 661.6,446.6 661.9,443.2 662.1,444.6 662.4,446.4 662.7,440.7 663.0,445.7 663.2,442.5 663.5,439.0 663.8,442.8 664.0,443.1 664.3,440.6 664.6,441.3 664.9,441.2 665.1,439.6 665.4,439.2 665.7,440.3 666.0,439.5 666.2,436.9 666.5,431.9 666.8,432.4 667.1,433.7 667.3,436.4 667.6,434.0 667.9,436.0 668.2,431.9 668.4,430.7 668.7,427.7 669.0,430.1 669.2,422.6 669.5,425.3 669.8,422.6 670.1,420.1 670.3,422.0 670.6,419.6 670.9,417.1 671.2,413.4 671.4,408.5 671.7,406.6 672.0,401.4 672.3,402.0 672.5,403.7 672.8,404.0 673.1,395.1 673.3,398.5 673.6,397.6 673.9,393.0 674.2,392.0 674.4,385.0 674.7,381.4 675.0,381.1 675.3,380.9 675.5,377.7 675.8,375.3 676.1,375.5 676.4,370.0 676.6,373.7 676.9,365.9 677.2,375.0 677.4,375.2 677.7,378.3 678.0,370.6 678.3,372.7 678.5,373.0 678.8,373.7 679.1,373.4 679.4,383.7 679.6,383.4 679.9,386.0 680.2,384.2 680.5,391.7 680.7,399.1 681.0,396.9 681.3,401.1 681.6,398.5 681.8,406.6 682.1,406.2 682.4,408.8 682.6,411.6 682.9,412.2 683.2,416.5 683.5,416.4 683.7,417.4 684.0,417.6 684.3,419.0 684.6,425.5 684.8,427.5 685.1,426.0 685.4,427.1 685.7,427.4 685.9,430.4 686.2,434.4 686.5,432.7 686.7,431.7 687.0,436.5 687.3,436.6 687.6,431.3 687.8,435.3 688.1,440.1 688.4,438.7 688.7,438.3 688.9,440.0 689.2,436.8 689.5,437.4 689.8,440.4 690.0,441.4 690.3,445.4 690.6,441.8 690.9,443.1 691.1,446.5 691.4,441.8 691.7,442.9 691.9,443.9 692.2,444.8 692.5,444.8 692.8,446.4 693.0,442.2 693.3,442.1 693.6,445.3 693.9,441.9 694.1,449.6 694.4,444.2 694.7,444.9 695.0,447.8 695.2,447.4 695.5,448.1 695.8,446.9 696.0,444.0 696.3,446.8 696.6,445.8 696.9,443.5 697.1,446.8 697.4,449.9 697.7,445.6 698.0,446.1 698.2,446.1 698.5,449.7 698.8,443.2 699.1,449.2 699.3,448.4 699.6,448.0 699.9,446.0 700.1,447.6 700.4,452.8 700.7,448.8 701.0,447.4 701.2,450.3 701.5,445.4 701.8,450.9 702.1,448.0 702.3,454.2 702.6,453.4 702.9,449.6 703.2,449.2 703.4,447.2 703.7,449.4 704.0,449.7 704.3,444.7 704.5,444.2 704.8,448.9 705.1,446.2 705.3,447.8 705.6,447.5 705.9,447.5 706.2,446.3 706.4,448.2 706.7,449.9 707.0,450.2 707.3,445.3 707.5,446.2 707.8,445.9 708.1,442.0 708.4,441.6 708.6,444.7 708.9,445.8 709.2,446.3 709.4,442.6 709.7,445.4 710.0,443.3 710.3,442.3 710.5,445.4 710.8,438.7 711.1,437.0 711.4,446.7 711.6,441.8 711.9,443.4 712.2,441.1 712.5,439.4 712.7,438.0 713.0,436.2 713.3,440.7 713.6,437.5 713.8,439.5 714.1,440.3 714.4,439.3 714.6,439.5 714.9,442.7 715.2,439.8 715.5,439.6 715.7,438.6 716.0,442.4 716.3,442.1 716.6,437.7 716.8,440.1 717.1,438.9 717.4,438.4 717.7,437.4 717.9,444.0 718.2,441.3 718.5,435.2 718.7,443.0 719.0,444.9 719.3,441.3 719.6,441.2 719.8,442.0 720.1,444.2 720.4,441.0 720.7,443.6 720.9,439.4 721.2,446.1 721.5,441.0 721.8,443.1 722.0,445.3 722.3,447.0 722.6,443.3 722.9,443.7 723.1,449.1 723.4,444.4 723.7,444.3 723.9,445.3 724.2,448.4 724.5,448.7 724.8,449.7 725.0,448.7 725.3,446.9 725.6,449.2 725.9,450.2 726.1,446.0 726.4,447.4 726.7,449.0 727.0,453.1 727.2,448.8 727.5,449.8 727.8,450.0 728.0,450.9 728.3,451.7 728.6,448.0 728.9,443.9 729.1,452.5 729.4,445.9 729.7,451.6 730.0,452.0 730.2,452.8 730.5,448.8 730.8,452.1 731.1,453.0 731.3,453.2 731.6,454.5 731.9,449.4 732.1,450.6 732.4,451.2 732.7,451.8 733.0,454.4 733.2,454.0 733.5,452.4 733.8,456.3 734.1,453.7 734.3,449.6 734.6,455.4 734.9,449.4 735.2,449.5 735.4,451.5 735.7,451.4 736.0,452.3 736.3,452.6 736.5,450.8 736.8,450.9 737.1,454.2 737.3,453.4 737.6,452.2 737.9,450.8 738.2,452.8 738.4,450.5 738.7,449.8 739.0,455.2 739.3,454.5 739.5,452.1 739.8,456.6 740.1,452.7 740.4,454.5 740.6,454.1 740.9,453.3 741.2,453.4 741.4,456.6 741.7,455.2 742.0,448.8 742.3,454.5 742.5,448.1 742.8,450.8 743.1,454.2 743.4,450.7 743.6,456.1 743.9,452.4 744.2,454.7 744.5,454.0 744.7,455.2 745.0,456.4 745.3,450.0 745.6,453.2 745.8,453.8 746.1,455.8 746.4,454.7 746.6,452.8 746.9,450.3 747.2,449.7 747.5,451.3 747.7,453.9 748.0,453.8 748.3,456.8 748.6,454.2 748.8,455.3 749.1,450.3 749.4,454.1 749.7,452.4 749.9,452.2 750.2,456.4 750.5,453.5 750.7,453.4 751.0,453.6 751.3,450.4 751.6,449.8 751.8,458.0 752.1,453.7 752.4,453.6 752.7,454.1 752.9,452.6 753.2,453.0 753.5,451.6 753.8,454.4 754.0,453.3 754.3,456.0 754.6,457.3 754.8,451.2 755.1,455.2 755.4,452.7 755.7,458.7 755.9,454.2 756.2,456.0 756.5,452.6 756.8,456.6 757.0,452.0 757.3,450.8 757.6,448.1 757.9,453.6 758.1,452.8 758.4,454.1 758.7,451.6 759.0,453.7 759.2,453.6 759.5,451.2 759.8,458.2 760.0,458.9 760.3,454.4 760.6,455.0 760.9,455.3 761.1,455.5 761.4,452.0 761.7,454.5 762.0,458.0 762.2,453.4 762.5,453.3 762.8,451.7 763.1,452.9 763.3,448.8 763.6,453.8 763.9,456.4 764.1,454.7 764.4,454.3 764.7,454.1 765.0,454.1 765.2,451.5 765.5,449.6 765.8,458.2 766.1,455.1 766.3,448.9 766.6,457.7 766.9,453.0 767.2,456.2 767.4,453.7 767.7,452.5 768.0,455.9 768.3,453.2 768.5,448.3 768.8,455.3 769.1,453.8 769.3,453.8 769.6,453.3 769.9,455.0 770.2,457.5 770.4,456.3 770.7,454.7 771.0,454.2 771.3,452.3 771.5,458.2 771.8,449.5 772.1,451.7 772.4,453.6 772.6,454.4 772.9,454.7 773.2,453.1 773.4,458.5 773.7,456.9 774.0,449.7 774.3,451.8 774.5,450.9 774.8,457.4 775.1,453.1 775.4,450.4 775.6,453.4 775.9,451.0 776.2,454.2 776.5,455.7 776.7,451.4 777.0,454.6 777.3,454.8 777.6,452.4 777.8,455.2 778.1,452.6 778.4,455.6 778.6,453.8 778.9,453.1 779.2,457.4 779.5,456.4 779.7,453.4 780.0,446.8 780.3,454.7 780.6,452.9 780.8,455.0 781.1,454.1 781.4,453.4 781.7,453.3 781.9,457.4 782.2,457.6 782.5,457.1 782.7,451.4 783.0,453.2 783.3,454.4 783.6,449.5 783.8,456.5 784.1,451.4 784.4,456.3 784.7,452.7 784.9,454.9 785.2,449.9 785.5,448.0 785.8,452.1 786.0,450.7 786.3,450.8 786.6,452.7 786.8,454.5 787.1,455.7 787.4,451.6 787.7,450.3 787.9,453.5 788.2,451.2 788.5,450.8 788.8,452.6 789.0,456.3 789.3,454.3 789.6,448.7 789.9,458.2 790.1,450.5 790.4,454.0 790.7,451.7 791.0,455.9 791.2,454.6 791.5,456.4 791.8,454.2 792.0,453.3 792.3,456.5 792.6,449.2 792.9,450.6 793.1,450.2 793.4,453.2 793.7,452.5 794.0,451.6 794.2,455.3 794.5,454.9 794.8,452.5 795.1,450.3 795.3,458.7 795.6,454.5 795.9,452.3 796.1,454.1 796.4,454.5 796.7,452.2 797.0,455.5 797.2,454.1 797.5,452.6 797.8,456.4 798.1,452.8 798.3,456.9 798.6,454.2 798.9,453.2 799.2,456.6 799.4,453.0 799.7,455.1 800.0,457.0 800.3,453.0 800.5,452.4 800.8,455.7 801.1,456.2 801.3,448.7 801.6,455.1 801.9,456.5 802.2,452.6 802.4,456.2 802.7,453.1 803.0,452.4 803.3,453.1 803.5,455.6 803.8,453.0 804.1,452.6 804.4,453.9 804.6,455.8 804.9,449.1 805.2,456.4 805.4,457.2 805.7,451.4 806.0,453.7 806.3,454.9 806.5,454.1 806.8,458.2 807.1,454.1 807.4,452.5 807.6,452.9 807.9,454.6 808.2,452.0 808.5,452.4 808.7,452.5 809.0,457.7 809.3,455.3 809.5,451.0 809.8,455.0 810.1,447.5 810.4,453.8 810.6,455.2 810.9,454.6 811.2,455.1 811.5,454.3 811.7,452.2 812.0,453.3 812.3,453.2 812.6,450.4 812.8,454.0 813.1,451.5 813.4,455.3 813.7,459.2 813.9,458.9 814.2,460.0 814.5,452.9 814.7,452.8 815.0,455.4 815.3,451.8 815.6,455.4 815.8,452.5 816.1,454.6 816.4,452.9 816.7,457.6 816.9,456.6 817.2,455.8 817.5,450.9 817.8,456.7 818.0,452.9 818.3,450.7 818.6,454.6 818.8,456.3 819.1,450.3 819.4,455.6 819.7,453.3 819.9,453.3 820.2,455.0 820.5,453.0 820.8,452.2 821.0,456.3 821.3,448.0 821.6,456.1 821.9,450.7 822.1,456.6 822.4,450.9 822.7,456.9 823.0,449.6 823.2,457.9 823.5,454.0 823.8,453.2 824.0,452.9 824.3,456.1 824.6,453.2 824.9,455.1 825.1,454.0 825.4,451.0 825.7,457.6 826.0,453.2 826.2,454.3 826.5,454.2 826.8,453.6 827.1,457.5 827.3,454.4 827.6,452.8 827.9,453.6 828.1,452.7 828.4,450.8 828.7,456.0 829.0,451.1 829.2,456.2 829.5,453.5 829.8,455.2 830.1,453.2 830.3,452.5 830.6,458.6 830.9,452.3 831.2,451.0 831.4,454.1 831.7,456.4 832.0,450.1 832.3,451.8 832.5,455.0 832.8,455.2 833.1,454.3 833.3,451.9 833.6,453.4 833.9,451.2 834.2,453.9 834.4,452.8 834.7,453.4 835.0,452.2 835.3,454.3 835.5,452.7 835.8,450.8 836.1,455.8 836.4,453.0 836.6,451.7 836.9,451.9 837.2,455.7 837.4,452.4 837.7,452.8 838.0,450.2 838.3,451.2 838.5,450.6 838.8,449.8 839.1,449.3 839.4,450.9 839.6,448.6 839.9,452.9 840.2,453.2 840.5,449.2 840.7,452.1 841.0,449.4 841.3,451.7 841.5,451.8 841.8,446.8 842.1,444.9 842.4,451.6 842.6,451.5 842.9,450.2 843.2,448.8 843.5,448.3 843.7,443.8 844.0,452.9 844.3,444.3 844.6,449.8 844.8,448.7 845.1,449.7 845.4,446.0 845.7,446.7 845.9,449.5 846.2,445.7 846.5,448.3 846.7,444.8 847.0,448.1 847.3,448.6 847.6,447.3 847.8,448.3 848.1,444.1 848.4,445.4 848.7,445.5 848.9,449.4 849.2,444.5 849.5,445.6 849.8,448.1 850.0,445.5 850.3,446.9 850.6,442.1 850.8,446.5 851.1,444.0 851.4,444.9 851.7,445.0 851.9,438.7 852.2,445.5 852.5,441.6 852.8,445.0 853.0,441.4 853.3,442.3 853.6,437.9 853.9,438.6 854.1,443.6 854.4,439.0 854.7,441.3 855.0,440.4 855.2,437.8 855.5,439.8 855.8,439.9 856.0,441.5 856.3,439.1 856.6,438.6 856.9,443.3 857.1,443.5 857.4,440.3 857.7,437.8 858.0,441.3 858.2,439.2 858.5,443.9 858.8,440.6 859.1,439.4 859.3,440.3 859.6,439.0 859.9,441.3 860.1,438.7 860.4,442.4 860.7,444.1 861.0,443.5 861.2,440.5 861.5,443.8 861.8,442.2 862.1,440.1 862.3,443.5 862.6,446.0 862.9,444.7 863.2,443.7 863.4,443.2 863.7,444.9 864.0,446.3 864.2,445.9 864.5,448.4 864.8,447.8 865.1,448.5 865.3,445.8 865.6,447.7 865.9,447.0 866.2,448.1 866.4,448.0 866.7,453.2 867.0,445.2 867.3,448.8 867.5,447.1 867.8,449.3 868.1,449.1 868.4,452.2 868.6,448.5 868.9,447.5 869.2,449.9 869.4,449.9 869.7,444.6 870.0,453.9 870.3,447.6 870.5,453.3 870.8,452.8 871.1,453.2 871.4,450.7 871.6,448.5 871.9,448.7 872.2,453.4 872.5,449.6 872.7,451.7 873.0,450.0 873.3,449.6 873.5,453.2 873.8,449.0 874.1,450.7 874.4,450.6 874.6,451.6 874.9,451.1 875.2,449.1 875.5,450.6 875.7,450.8 876.0,456.1 876.3,453.5 876.6,451.5 876.8,452.2 877.1,451.2 877.4,455.7 877.7,451.5 877.9,449.8 878.2,461.1 878.5,450.3 878.7,450.8 879.0,449.9 879.3,453.1 879.6,450.7 879.8,450.5 880.1,454.5 880.4,455.6 880.7,453.1 880.9,450.0 881.2,453.6 881.5,451.1 881.8,453.2 882.0,453.2 882.3,449.9 882.6,454.6 882.8,452.7 883.1,452.6 883.4,450.3 883.7,454.8 883.9,451.2 884.2,453.0 884.5,450.5 884.8,450.0 885.0,450.0 885.3,449.1 885.6,451.9 885.9,455.9 886.1,455.3 886.4,450.9 886.7,451.1 887.0,456.4 887.2,454.7 887.5,453.0 887.8,452.1 888.0,452.1 888.3,447.7 888.6,451.6 888.9,457.7 889.1,456.6 889.4,452.4 889.7,454.8 890.0,454.4 890.2,451.8 890.5,451.0 890.8,451.8 891.1,453.5 891.3,456.1 891.6,453.7 891.9,453.1 892.1,452.6 892.4,456.0 892.7,456.9 893.0,453.7 893.2,452.7 893.5,453.9 893.8,454.5 894.1,455.9 894.3,455.4 894.6,451.5 894.9,453.0 895.2,452.3 895.4,454.7 895.7,450.8 896.0,449.2 896.2,453.4 896.5,452.2 896.8,452.3 897.1,453.0 897.3,451.2 897.6,453.4 897.9,450.7 898.2,450.6 898.4,454.5 898.7,452.6 899.0,455.8 899.3,453.9 899.5,451.7 899.8,452.0 900.1,451.0 900.4,453.2 900.6,454.4 900.9,453.2 901.2,453.7 901.4,451.1 901.7,456.0 902.0,454.5 902.3,455.4 902.5,450.6 902.8,452.7 903.1,451.5 903.4,456.7 903.6,452.7 903.9,458.2 904.2,454.1 904.5,451.9 904.7,455.9 905.0,457.0 905.3,452.7 905.5,451.8 905.8,453.0 906.1,450.5 906.4,450.7 906.6,448.3 906.9,451.8 907.2,450.2 907.5,453.4 907.7,453.6 908.0,455.3 908.3,453.6 908.6,452.5 908.8,455.8 909.1,451.4 909.4,448.2 909.7,449.9 909.9,452.0 910.2,454.1 910.5,455.1 910.7,450.6 911.0,455.2 911.3,453.7 911.6,454.3 911.8,450.6 912.1,452.3 912.4,448.0 912.7,453.0 912.9,451.9 913.2,454.3 913.5,455.2 913.8,450.7 914.0,454.7 914.3,455.1 914.6,452.1 914.8,456.8 915.1,450.9 915.4,449.5 915.7,452.7 915.9,456.5 916.2,453.8 916.5,448.8 916.8,451.4 917.0,455.3 917.3,450.9 917.6,452.2 917.9,450.2 918.1,456.9 918.4,456.3 918.7,449.6 918.9,448.5 919.2,453.7 919.5,453.4 919.8,452.4 920.0,452.7 920.3,451.7 920.6,454.4 920.9,454.3 921.1,455.2 921.4,454.3 921.7,451.1 922.0,451.3 922.2,451.7 922.5,452.5 922.8,450.7 923.1,450.4 923.3,451.6 923.6,451.1 923.9,451.8 924.1,455.7 924.4,455.0 924.7,450.9 925.0,452.2 925.2,451.3 925.5,450.0 925.8,453.1 926.1,447.4 926.3,452.2 926.6,451.0 926.9,448.8 927.2,452.6 927.4,453.7 927.7,452.0 928.0,452.4 928.2,449.4 928.5,452.3 928.8,454.6 929.1,448.7 929.3,456.1 929.6,447.2 929.9,453.1 930.2,449.7 930.4,451.5 930.7,450.9 931.0,451.0 931.3,453.1 931.5,450.2 931.8,451.2 932.1,453.4 932.4,450.4 932.6,445.8 932.9,449.4 933.2,449.2 933.4,448.5 933.7,451.8 934.0,450.5 934.3,448.5 934.5,448.9 934.8,446.9 935.1,448.9 935.4,454.3 935.6,446.1 935.9,454.1 936.2,449.7 936.5,449.2 936.7,448.3 937.0,446.7 937.3,450.8 937.5,448.6 937.8,447.7 938.1,449.0 938.4,452.5 938.6,447.9 938.9,448.5 939.2,451.8 939.5,446.3 939.7,450.4 940.0,453.9 940.3,448.2 940.6,444.4 940.8,450.2 941.1,447.2 941.4,450.7 941.7,448.8 941.9,448.1 942.2,445.3 942.5,449.8 942.7,448.0 943.0,447.8 943.3,447.7 943.6,447.5 943.8,446.8 944.1,445.9 944.4,442.2 944.7,444.4 944.9,444.7 945.2,447.7 945.5,447.4 945.8,442.5 946.0,443.3 946.3,442.8 946.6,444.6 946.8,444.3 947.1,444.7 947.4,441.5 947.7,441.9 947.9,447.1 948.2,439.4 948.5,445.0 948.8,443.0 949.0,443.0 949.3,440.7 949.6,440.1 949.9,441.4 950.1,438.8 950.4,438.6 950.7,437.6 950.9,438.7 951.2,437.1 951.5,436.1 951.8,437.7 952.0,436.2 952.3,432.3 952.6,434.6 952.9,437.4 953.1,434.7 953.4,436.8 953.7,428.8 954.0,433.1 954.2,427.3 954.5,432.8 954.8,429.4 955.1,430.1 955.3,431.2 955.6,427.9 955.9,427.9 956.1,428.4 956.4,430.8 956.7,432.1 957.0,427.1 957.2,426.6 957.5,428.9 957.8,426.0 958.1,425.6 958.3,430.1 958.6,427.9 958.9,432.9 959.2,427.4 959.4,433.3 959.7,433.0 960.0,429.8 960.2,431.4 960.5,425.1 960.8,432.3 961.1,432.3 961.3,430.7 961.6,436.2 961.9,428.0 962.2,435.7 962.4,434.6 962.7,435.5 963.0,432.0 963.3,437.4 963.5,435.2 963.8,437.3 964.1,439.5 964.4,435.9 964.6,431.8 964.9,439.5 965.2,439.7 965.4,439.1 965.7,438.5 966.0,438.3 966.3,441.1 966.5,442.5 966.8,440.6 967.1,444.9 967.4,441.8 967.6,444.1 967.9,442.6 968.2,443.2 968.5,445.8 968.7,445.4 969.0,446.8 969.3,446.9 969.5,444.7 969.8,446.6 970.1,446.3 970.4,446.4 970.6,447.4 970.9,445.9 971.2,446.3 971.5,447.2 971.7,444.1 972.0,448.3 972.3,448.7 972.6,442.0 972.8,448.4 973.1,445.2 973.4,445.1 973.6,448.5 973.9,445.0 974.2,447.6 974.5,445.7 974.7,444.5 975.0,451.3 975.3,445.5 975.6,444.6 975.8,446.5 976.1,451.3 976.4,443.6 976.7,449.8 976.9,445.6 977.2,447.7 977.5,447.0 977.8,449.4 978.0,445.3 978.3,451.1 978.6,445.9 978.8,443.6 979.1,447.0 979.4,448.3 979.7,447.9 979.9,448.4 980.2,445.6 980.5,449.2 980.8,447.7 981.0,443.5 981.3,444.5 981.6,443.5 981.9,444.3 982.1,445.3 982.4,443.5 982.7,443.9 982.9,445.8 983.2,445.8 983.5,446.9 983.8,436.3 984.0,441.7 984.3,441.3 984.6,441.5 984.9,440.4 985.1,440.1 985.4,443.7 985.7,444.8 986.0,439.1 986.2,443.1 986.5,436.2 986.8,442.3 987.1,444.7 987.3,442.9 987.6,438.7 987.9,438.5 988.1,439.7 988.4,443.2 988.7,441.0 989.0,440.6 989.2,441.3 989.5,437.6 989.8,435.1 990.1,438.7 990.3,438.9 990.6,440.8 990.9,440.3 991.2,447.6 991.4,439.3 991.7,439.2 992.0,443.8 992.2,440.9 992.5,445.4 992.8,445.5 993.1,443.3 993.3,443.3 993.6,438.2 993.9,445.0 994.2,442.7 994.4,444.0 994.7,445.0 995.0,443.4 995.3,441.1 995.5,442.4 995.8,441.6 996.1,446.3 996.4,444.3 996.6,444.8 996.9,443.8 997.2,444.9 997.4,442.8 997.7,446.0 998.0,443.5 998.3,446.8 998.5,445.9 998.8,447.7 999.1,449.4 999.4,448.2 999.6,447.8 999.9,449.6 1000.2,446.6 1000.5,447.9 1000.7,449.2 1001.0,445.2"/><polyline fill="none" stroke="#000000" stroke-width="1.9" stroke-linejoin="round" points="43.8,509.8 44.0,516.0 44.3,511.9 44.6,511.8 44.8,512.7 45.1,511.1 45.4,510.5 45.7,510.8 45.9,513.9 46.2,515.2 46.5,510.3 46.8,511.3 47.0,512.7 47.3,509.1 47.6,511.9 47.9,514.1 48.1,514.3 48.4,517.2 48.7,511.1 48.9,511.9 49.2,513.9 49.5,512.6 49.8,514.5 50.0,512.0 50.3,508.2 50.6,510.2 50.9,508.3 51.1,512.4 51.4,514.9 51.7,513.4 52.0,511.0 52.2,507.6 52.5,512.1 52.8,510.6 53.0,510.7 53.3,512.2 53.6,517.5 53.9,511.2 54.1,510.5 54.4,509.0 54.7,514.3 55.0,510.1 55.2,508.0 55.5,511.1 55.8,512.9 56.1,509.5 56.3,512.1 56.6,508.5 56.9,515.1 57.2,509.6 57.4,512.2 57.7,510.2 58.0,511.1 58.2,513.1 58.5,511.1 58.8,512.2 59.1,515.2 59.3,518.3 59.6,514.4 59.9,512.7 60.2,513.1 60.4,509.8 60.7,510.2 61.0,510.2 61.3,513.6 61.5,512.4 61.8,511.9 62.1,518.1 62.3,512.7 62.6,514.7 62.9,513.9 63.2,512.9 63.4,514.0 63.7,509.5 64.0,513.2 64.3,515.3 64.5,516.8 64.8,512.5 65.1,516.2 65.4,514.9 65.6,512.2 65.9,509.5 66.2,513.8 66.5,511.7 66.7,515.8 67.0,514.1 67.3,509.9 67.5,512.2 67.8,514.1 68.1,516.2 68.4,507.6 68.6,514.5 68.9,510.4 69.2,512.8 69.5,511.4 69.7,515.5 70.0,514.2 70.3,517.5 70.6,516.4 70.8,511.9 71.1,508.5 71.4,513.0 71.6,512.3 71.9,513.9 72.2,512.0 72.5,512.2 72.7,515.4 73.0,514.2 73.3,512.2 73.6,514.7 73.8,511.7 74.1,513.8 74.4,516.0 74.7,512.7 74.9,510.8 75.2,514.2 75.5,513.0 75.7,517.9 76.0,513.7 76.3,512.5 76.6,511.2 76.8,508.8 77.1,512.1 77.4,514.1 77.7,511.9 77.9,515.2 78.2,516.1 78.5,515.7 78.8,512.6 79.0,512.3 79.3,516.1 79.6,512.7 79.9,512.8 80.1,513.0 80.4,517.3 80.7,510.0 80.9,516.8 81.2,516.4 81.5,518.0 81.8,515.4 82.0,519.5 82.3,516.2 82.6,512.5 82.9,511.2 83.1,514.6 83.4,515.6 83.7,515.2 84.0,516.9 84.2,517.2 84.5,509.0 84.8,514.6 85.0,514.6 85.3,516.0 85.6,512.9 85.9,517.4 86.1,514.9 86.4,517.8 86.7,513.3 87.0,514.5 87.2,511.8 87.5,512.7 87.8,514.2 88.1,513.6 88.3,515.6 88.6,516.0 88.9,515.0 89.2,515.0 89.4,512.5 89.7,514.0 90.0,514.5 90.2,513.4 90.5,516.8 90.8,516.4 91.1,513.3 91.3,514.1 91.6,515.0 91.9,515.4 92.2,518.6 92.4,514.7 92.7,513.8 93.0,516.0 93.3,516.7 93.5,518.0 93.8,513.0 94.1,514.7 94.3,515.8 94.6,515.7 94.9,511.8 95.2,516.3 95.4,518.7 95.7,516.8 96.0,515.1 96.3,513.1 96.5,513.2 96.8,515.4 97.1,513.8 97.4,513.8 97.6,511.8 97.9,516.6 98.2,517.5 98.4,515.4 98.7,517.0 99.0,515.9 99.3,519.4 99.5,515.5 99.8,515.7 100.1,513.0 100.4,515.6 100.6,514.9 100.9,514.7 101.2,519.2 101.5,517.6 101.7,518.2 102.0,516.6 102.3,513.8 102.6,516.0 102.8,518.3 103.1,514.1 103.4,515.6 103.6,516.0 103.9,518.4 104.2,516.2 104.5,517.8 104.7,517.6 105.0,515.6 105.3,516.7 105.6,513.4 105.8,515.2 106.1,517.6 106.4,517.3 106.7,517.2 106.9,516.5 107.2,518.4 107.5,518.0 107.7,516.7 108.0,513.0 108.3,523.5 108.6,521.9 108.8,514.8 109.1,520.2 109.4,516.2 109.7,519.5 109.9,514.9 110.2,516.8 110.5,515.8 110.8,518.6 111.0,519.0 111.3,517.2 111.6,511.8 111.9,517.2 112.1,514.6 112.4,520.6 112.7,515.9 112.9,512.2 113.2,516.8 113.5,514.1 113.8,518.2 114.0,514.3 114.3,518.1 114.6,513.5 114.9,519.9 115.1,517.2 115.4,518.9 115.7,516.8 116.0,522.0 116.2,516.8 116.5,518.8 116.8,517.1 117.0,520.2 117.3,514.1 117.6,513.8 117.9,518.6 118.1,515.7 118.4,515.2 118.7,518.5 119.0,517.4 119.2,511.8 119.5,517.7 119.8,516.2 120.1,515.1 120.3,519.3 120.6,518.9 120.9,520.8 121.2,516.4 121.4,515.5 121.7,523.6 122.0,519.7 122.2,519.4 122.5,515.7 122.8,516.7 123.1,519.6 123.3,510.9 123.6,514.8 123.9,518.5 124.2,513.5 124.4,519.5 124.7,517.4 125.0,513.9 125.3,517.9 125.5,518.0 125.8,517.7 126.1,519.3 126.3,514.3 126.6,516.8 126.9,519.2 127.2,518.6 127.4,518.6 127.7,524.7 128.0,517.2 128.3,516.8 128.5,519.7 128.8,517.8 129.1,520.4 129.4,517.9 129.6,522.4 129.9,516.8 130.2,517.8 130.4,520.5 130.7,518.7 131.0,520.7 131.3,520.4 131.5,520.7 131.8,515.8 132.1,520.8 132.4,518.9 132.6,519.6 132.9,516.9 133.2,520.1 133.5,520.9 133.7,519.9 134.0,520.3 134.3,519.5 134.6,518.7 134.8,520.3 135.1,518.8 135.4,519.0 135.6,520.4 135.9,521.6 136.2,523.4 136.5,522.0 136.7,519.6 137.0,517.7 137.3,520.3 137.6,517.2 137.8,517.3 138.1,515.2 138.4,522.5 138.7,522.3 138.9,517.2 139.2,520.0 139.5,520.6 139.7,523.3 140.0,523.1 140.3,517.8 140.6,520.6 140.8,516.3 141.1,519.7 141.4,520.1 141.7,519.3 141.9,517.4 142.2,519.2 142.5,525.0 142.8,518.6 143.0,520.1 143.3,522.3 143.6,522.1 143.9,519.4 144.1,523.6 144.4,523.6 144.7,520.8 144.9,521.1 145.2,520.2 145.5,521.7 145.8,521.1 146.0,523.1 146.3,516.6 146.6,522.7 146.9,520.3 147.1,523.9 147.4,523.4 147.7,520.3 148.0,520.7 148.2,519.6 148.5,518.4 148.8,520.3 149.0,522.6 149.3,520.3 149.6,517.8 149.9,520.8 150.1,518.4 150.4,521.0 150.7,522.4 151.0,523.1 151.2,523.6 151.5,519.1 151.8,515.1 152.1,520.9 152.3,520.5 152.6,522.7 152.9,522.6 153.1,520.4 153.4,521.2 153.7,523.1 154.0,519.6 154.2,516.2 154.5,522.0 154.8,521.5 155.1,520.0 155.3,524.2 155.6,521.0 155.9,519.6 156.2,521.9 156.4,525.4 156.7,518.9 157.0,523.3 157.3,518.5 157.5,523.1 157.8,520.4 158.1,520.5 158.3,523.1 158.6,527.3 158.9,517.5 159.2,521.1 159.4,519.8 159.7,524.4 160.0,521.9 160.3,519.7 160.5,523.7 160.8,523.3 161.1,521.5 161.4,523.7 161.6,522.6 161.9,524.1 162.2,519.4 162.4,523.4 162.7,524.1 163.0,520.0 163.3,530.2 163.5,525.6 163.8,522.7 164.1,520.9 164.4,521.6 164.6,522.1 164.9,523.3 165.2,519.2 165.5,519.7 165.7,525.3 166.0,519.3 166.3,527.0 166.6,522.1 166.8,519.1 167.1,520.4 167.4,526.3 167.6,523.0 167.9,520.2 168.2,525.5 168.5,523.8 168.7,521.1 169.0,520.1 169.3,519.1 169.6,522.8 169.8,523.9 170.1,526.2 170.4,526.4 170.7,525.1 170.9,519.5 171.2,521.6 171.5,524.2 171.7,522.4 172.0,523.3 172.3,522.0 172.6,523.1 172.8,525.4 173.1,524.3 173.4,519.8 173.7,522.1 173.9,520.5 174.2,519.5 174.5,525.5 174.8,523.2 175.0,529.0 175.3,524.9 175.6,524.6 175.9,522.2 176.1,521.8 176.4,525.3 176.7,522.3 176.9,527.2 177.2,525.9 177.5,525.9 177.8,524.1 178.0,521.6 178.3,526.5 178.6,522.4 178.9,523.8 179.1,525.7 179.4,523.0 179.7,522.9 180.0,520.8 180.2,526.5 180.5,528.0 180.8,522.1 181.0,526.8 181.3,528.6 181.6,528.3 181.9,526.7 182.1,522.7 182.4,520.9 182.7,522.8 183.0,525.6 183.2,527.7 183.5,527.5 183.8,524.3 184.1,525.6 184.3,523.6 184.6,520.5 184.9,523.1 185.1,527.2 185.4,526.6 185.7,525.0 186.0,524.9 186.2,530.3 186.5,526.0 186.8,524.2 187.1,521.7 187.3,523.5 187.6,525.9 187.9,523.8 188.2,526.1 188.4,523.9 188.7,531.4 189.0,524.1 189.3,527.2 189.5,523.4 189.8,525.8 190.1,527.2 190.3,525.7 190.6,521.3 190.9,528.6 191.2,526.8 191.4,523.1 191.7,524.1 192.0,526.7 192.3,523.4 192.5,526.7 192.8,522.3 193.1,525.5 193.4,527.1 193.6,524.3 193.9,525.6 194.2,526.2 194.4,528.7 194.7,528.2 195.0,525.9 195.3,526.0 195.5,524.6 195.8,524.5 196.1,524.4 196.4,524.1 196.6,527.4 196.9,524.8 197.2,523.5 197.5,523.5 197.7,525.2 198.0,526.5 198.3,524.1 198.6,523.2 198.8,526.0 199.1,527.8 199.4,523.2 199.6,524.6 199.9,521.2 200.2,531.3 200.5,523.2 200.7,522.8 201.0,526.2 201.3,524.8 201.6,527.4 201.8,523.7 202.1,525.9 202.4,526.1 202.7,526.9 202.9,530.0 203.2,525.6 203.5,523.7 203.7,526.7 204.0,524.0 204.3,527.9 204.6,526.4 204.8,526.0 205.1,522.1 205.4,522.2 205.7,524.3 205.9,525.6 206.2,520.9 206.5,524.6 206.8,526.2 207.0,524.3 207.3,527.9 207.6,526.3 207.8,529.4 208.1,524.1 208.4,526.8 208.7,519.4 208.9,523.9 209.2,528.0 209.5,524.8 209.8,524.6 210.0,522.9 210.3,529.7 210.6,528.8 210.9,525.7 211.1,526.6 211.4,525.8 211.7,522.6 212.0,526.6 212.2,524.5 212.5,524.0 212.8,528.3 213.0,525.9 213.3,523.4 213.6,527.1 213.9,525.7 214.1,526.6 214.4,525.6 214.7,526.6 215.0,526.5 215.2,523.8 215.5,530.8 215.8,526.5 216.1,520.1 216.3,528.2 216.6,522.4 216.9,526.8 217.1,529.5 217.4,525.2 217.7,525.6 218.0,528.6 218.2,527.4 218.5,527.2 218.8,525.5 219.1,526.0 219.3,521.5 219.6,524.9 219.9,525.6 220.2,527.4 220.4,527.1 220.7,522.9 221.0,524.1 221.3,520.7 221.5,525.5 221.8,529.3 222.1,526.2 222.3,524.0 222.6,526.1 222.9,525.4 223.2,522.9 223.4,523.7 223.7,525.3 224.0,527.7 224.3,524.4 224.5,524.2 224.8,522.5 225.1,525.6 225.4,523.2 225.6,529.9 225.9,525.9 226.2,518.6 226.4,529.0 226.7,526.4 227.0,525.6 227.3,526.1 227.5,524.3 227.8,523.6 228.1,524.0 228.4,525.3 228.6,526.6 228.9,530.2 229.2,526.6 229.5,527.6 229.7,528.0 230.0,523.9 230.3,523.5 230.6,523.8 230.8,529.3 231.1,522.6 231.4,527.1 231.6,523.9 231.9,531.8 232.2,522.7 232.5,522.9 232.7,524.6 233.0,523.2 233.3,527.6 233.6,528.0 233.8,528.1 234.1,530.7 234.4,523.7 234.7,526.2 234.9,525.0 235.2,524.2 235.5,526.7 235.7,531.0 236.0,523.8 236.3,531.0 236.6,526.7 236.8,524.8 237.1,523.2 237.4,527.9 237.7,526.3 237.9,525.6 238.2,524.5 238.5,525.6 238.8,525.1 239.0,526.2 239.3,521.6 239.6,526.5 239.8,528.2 240.1,527.8 240.4,522.7 240.7,526.1 240.9,526.6 241.2,528.6 241.5,527.9 241.8,528.3 242.0,525.5 242.3,527.5 242.6,525.6 242.9,525.2 243.1,522.2 243.4,526.6 243.7,525.4 244.0,522.2 244.2,528.9 244.5,524.9 244.8,526.7 245.0,526.6 245.3,525.3 245.6,526.3 245.9,527.9 246.1,523.9 246.4,522.6 246.7,528.2 247.0,527.0 247.2,524.0 247.5,528.2 247.8,522.9 248.1,526.0 248.3,526.5 248.6,525.7 248.9,526.8 249.1,524.5 249.4,521.9 249.7,524.3 250.0,527.0 250.2,525.8 250.5,525.5 250.8,524.9 251.1,528.2 251.3,524.4 251.6,526.2 251.9,526.2 252.2,523.4 252.4,527.4 252.7,526.5 253.0,526.9 253.3,522.3 253.5,528.2 253.8,524.5 254.1,525.3 254.3,526.3 254.6,527.4 254.9,524.0 255.2,526.0 255.4,525.3 255.7,525.1 256.0,525.1 256.3,522.9 256.5,525.0 256.8,527.8 257.1,522.7 257.4,521.3 257.6,528.2 257.9,521.8 258.2,524.1 258.4,523.4 258.7,525.3 259.0,523.9 259.3,525.8 259.5,523.6 259.8,522.1 260.1,530.2 260.4,524.8 260.6,525.7 260.9,521.6 261.2,522.8 261.5,523.3 261.7,526.6 262.0,522.4 262.3,525.4 262.5,523.5 262.8,522.6 263.1,525.8 263.4,524.7 263.6,521.6 263.9,525.5 264.2,520.9 264.5,525.0 264.7,523.5 265.0,528.9 265.3,524.8 265.6,528.5 265.8,524.8 266.1,522.5 266.4,525.0 266.7,519.8 266.9,520.3 267.2,522.8 267.5,526.5 267.7,525.0 268.0,519.6 268.3,517.9 268.6,523.3 268.8,518.8 269.1,519.7 269.4,520.7 269.7,519.8 269.9,520.0 270.2,521.3 270.5,524.0 270.8,520.1 271.0,521.6 271.3,522.4 271.6,522.4 271.8,520.9 272.1,519.2 272.4,520.6 272.7,517.2 272.9,520.3 273.2,523.2 273.5,521.5 273.8,512.9 274.0,521.0 274.3,520.9 274.6,518.6 274.9,520.8 275.1,520.5 275.4,518.4 275.7,517.9 276.0,515.6 276.2,520.4 276.5,512.6 276.8,518.4 277.0,516.4 277.3,517.1 277.6,515.7 277.9,516.2 278.1,514.0 278.4,513.5 278.7,519.3 279.0,514.2 279.2,517.8 279.5,516.1 279.8,514.3 280.1,514.2 280.3,512.9 280.6,514.8 280.9,511.8 281.1,510.6 281.4,512.6 281.7,510.4 282.0,511.1 282.2,507.7 282.5,508.4 282.8,510.2 283.1,509.4 283.3,503.8 283.6,505.4 283.9,502.2 284.2,505.8 284.4,500.7 284.7,497.7 285.0,498.1 285.3,496.9 285.5,504.3 285.8,496.0 286.1,497.9 286.3,492.9 286.6,494.1 286.9,494.6 287.2,492.2 287.4,491.4 287.7,488.5 288.0,483.6 288.3,483.2 288.5,479.9 288.8,475.8 289.1,479.7 289.4,469.0 289.6,465.1 289.9,463.7 290.2,464.2 290.4,456.5 290.7,454.0 291.0,447.0 291.3,447.3 291.5,439.7 291.8,433.5 292.1,431.1 292.4,418.5 292.6,418.0 292.9,408.9 293.2,395.3 293.5,389.9 293.7,383.1 294.0,369.4 294.3,360.6 294.5,357.8 294.8,352.2 295.1,339.1 295.4,326.5 295.6,316.0 295.9,304.2 296.2,302.8 296.5,292.6 296.7,290.0 297.0,287.4 297.3,288.8 297.6,288.5 297.8,281.8 298.1,291.3 298.4,302.2 298.7,310.1 298.9,316.4 299.2,325.9 299.5,328.5 299.7,341.4 300.0,351.6 300.3,363.8 300.6,370.8 300.8,378.1 301.1,391.2 301.4,397.0 301.7,406.5 301.9,407.7 302.2,419.6 302.5,427.4 302.8,435.9 303.0,437.9 303.3,438.8 303.6,444.5 303.8,455.4 304.1,459.3 304.4,460.2 304.7,462.2 304.9,470.5 305.2,469.6 305.5,473.7 305.8,472.9 306.0,472.7 306.3,482.1 306.6,488.3 306.9,485.1 307.1,484.8 307.4,492.9 307.7,489.0 308.0,487.9 308.2,493.2 308.5,496.6 308.8,495.2 309.0,498.5 309.3,499.7 309.6,500.9 309.9,505.5 310.1,503.3 310.4,505.2 310.7,507.9 311.0,504.8 311.2,508.5 311.5,505.8 311.8,508.0 312.1,508.4 312.3,511.6 312.6,512.0 312.9,508.8 313.1,508.7 313.4,508.9 313.7,509.8 314.0,511.1 314.2,512.9 314.5,511.5 314.8,518.2 315.1,517.2 315.3,519.6 315.6,516.3 315.9,517.1 316.2,515.4 316.4,519.0 316.7,517.9 317.0,516.7 317.2,518.1 317.5,521.8 317.8,521.6 318.1,518.1 318.3,513.8 318.6,511.9 318.9,518.6 319.2,518.8 319.4,519.1 319.7,520.3 320.0,520.8 320.3,518.0 320.5,518.6 320.8,523.9 321.1,525.5 321.4,521.0 321.6,521.2 321.9,523.0 322.2,522.0 322.4,521.5 322.7,521.4 323.0,525.0 323.3,520.1 323.5,523.1 323.8,519.4 324.1,523.4 324.4,523.0 324.6,522.2 324.9,523.3 325.2,518.6 325.5,520.9 325.7,521.8 326.0,523.1 326.3,522.9 326.5,521.4 326.8,523.3 327.1,524.1 327.4,529.1 327.6,523.8 327.9,524.3 328.2,524.3 328.5,522.9 328.7,522.7 329.0,525.5 329.3,523.3 329.6,522.8 329.8,523.9 330.1,527.7 330.4,521.5 330.7,523.3 330.9,524.9 331.2,525.6 331.5,528.1 331.7,528.9 332.0,523.0 332.3,526.2 332.6,528.9 332.8,527.2 333.1,522.7 333.4,523.3 333.7,524.9 333.9,526.7 334.2,522.5 334.5,526.8 334.8,523.4 335.0,526.3 335.3,526.6 335.6,526.0 335.8,527.3 336.1,525.0 336.4,525.4 336.7,528.0 336.9,523.7 337.2,523.6 337.5,521.8 337.8,528.9 338.0,523.3 338.3,527.1 338.6,525.2 338.9,526.0 339.1,524.1 339.4,524.7 339.7,527.2 340.0,525.2 340.2,522.6 340.5,524.5 340.8,521.7 341.0,526.0 341.3,526.7 341.6,525.2 341.9,528.1 342.1,528.1 342.4,524.2 342.7,526.9 343.0,523.8 343.2,524.7 343.5,523.8 343.8,524.4 344.1,521.4 344.3,523.6 344.6,521.0 344.9,527.3 345.1,522.5 345.4,523.4 345.7,519.8 346.0,521.6 346.2,524.2 346.5,518.0 346.8,523.3 347.1,521.2 347.3,526.8 347.6,523.2 347.9,523.4 348.2,521.6 348.4,522.8 348.7,517.3 349.0,523.3 349.2,520.6 349.5,514.5 349.8,518.3 350.1,516.7 350.3,519.2 350.6,514.1 350.9,513.8 351.2,513.6 351.4,511.0 351.7,514.1 352.0,509.8 352.3,505.7 352.5,506.1 352.8,503.4 353.1,506.2 353.4,497.7 353.6,494.0 353.9,501.4 354.2,494.2 354.4,494.9 354.7,489.9 355.0,486.4 355.3,486.6 355.5,483.1 355.8,478.9 356.1,473.4 356.4,476.6 356.6,477.0 356.9,474.2 357.2,465.7 357.5,470.7 357.7,461.8 358.0,462.4 358.3,462.4 358.5,461.1 358.8,457.9 359.1,458.5 359.4,459.2 359.6,459.0 359.9,460.7 360.2,461.7 360.5,460.4 360.7,459.2 361.0,464.2 361.3,463.7 361.6,463.4 361.8,461.2 362.1,469.7 362.4,473.1 362.7,476.3 362.9,473.5 363.2,478.1 363.5,476.3 363.7,483.5 364.0,486.1 364.3,485.7 364.6,491.4 364.8,494.8 365.1,497.2 365.4,494.6 365.7,499.0 365.9,503.4 366.2,502.4 366.5,503.8 366.8,505.8 367.0,510.2 367.3,509.1 367.6,506.6 367.8,514.0 368.1,520.4 368.4,516.0 368.7,519.2 368.9,517.8 369.2,517.5 369.5,516.5 369.8,520.8 370.0,520.4 370.3,523.2 370.6,522.0 370.9,523.8 371.1,518.0 371.4,524.0 371.7,525.0 371.9,524.7 372.2,527.5 372.5,524.5 372.8,526.5 373.0,520.7 373.3,527.2 373.6,527.4 373.9,523.8 374.1,521.0 374.4,523.9 374.7,526.2 375.0,530.2 375.2,523.9 375.5,527.7 375.8,528.2 376.1,528.2 376.3,525.5 376.6,528.6 376.9,524.1 377.1,522.9 377.4,527.2 377.7,525.5 378.0,522.3 378.2,530.6 378.5,529.5 378.8,529.1 379.1,525.7 379.3,526.3 379.6,524.3 379.9,528.0 380.2,527.5 380.4,528.1 380.7,531.6 381.0,527.1 381.2,527.9 381.5,525.0 381.8,532.0 382.1,531.3 382.3,523.2 382.6,523.5 382.9,532.5 383.2,533.2 383.4,530.4 383.7,532.1 384.0,525.8 384.3,529.1 384.5,530.9 384.8,528.6 385.1,526.8 385.4,528.7 385.6,527.1 385.9,533.6 386.2,528.3 386.4,527.6 386.7,524.8 387.0,532.7 387.3,528.9 387.5,530.6 387.8,529.1 388.1,530.0 388.4,529.5 388.6,528.0 388.9,530.5 389.2,527.6 389.5,530.2 389.7,530.4 390.0,531.4 390.3,527.5 390.5,535.1 390.8,530.1 391.1,526.9 391.4,525.8 391.6,529.8 391.9,529.4 392.2,531.2 392.5,526.1 392.7,529.6 393.0,530.7 393.3,532.0 393.6,525.7 393.8,528.3 394.1,527.9 394.4,529.5 394.7,529.1 394.9,530.0 395.2,527.7 395.5,530.8 395.7,526.2 396.0,529.7 396.3,534.8 396.6,527.5 396.8,534.1 397.1,533.0 397.4,528.8 397.7,531.1 397.9,531.3 398.2,527.7 398.5,525.1 398.8,529.3 399.0,526.9 399.3,531.3 399.6,526.0 399.8,534.9 400.1,535.7 400.4,528.3 400.7,525.3 400.9,530.9 401.2,528.9 401.5,529.9 401.8,526.4 402.0,526.7 402.3,531.4 402.6,527.0 402.9,525.4 403.1,531.4 403.4,531.6 403.7,529.5 403.9,527.7 404.2,534.1 404.5,529.4 404.8,531.8 405.0,527.1 405.3,527.0 405.6,530.8 405.9,533.9 406.1,527.9 406.4,529.0 406.7,529.4 407.0,533.7 407.2,530.3 407.5,531.4 407.8,532.6 408.1,532.2 408.3,534.4 408.6,527.4 408.9,531.2 409.1,531.4 409.4,527.7 409.7,530.9 410.0,531.2 410.2,529.7 410.5,529.0 410.8,533.6 411.1,531.3 411.3,530.5 411.6,531.3 411.9,529.5 412.2,531.3 412.4,531.9 412.7,528.7 413.0,530.6 413.2,530.6 413.5,531.2 413.8,529.8 414.1,530.8 414.3,529.7 414.6,528.7 414.9,529.6 415.2,527.1 415.4,532.3 415.7,531.7 416.0,528.8 416.3,528.7 416.5,528.8 416.8,528.1 417.1,528.2 417.4,532.1 417.6,530.2 417.9,533.0 418.2,532.1 418.4,531.9 418.7,527.9 419.0,535.1 419.3,530.6 419.5,525.6 419.8,530.4 420.1,530.1 420.4,532.3 420.6,528.6 420.9,531.4 421.2,530.2 421.5,533.9 421.7,530.4 422.0,532.2 422.3,533.4 422.5,529.2 422.8,531.8 423.1,531.2 423.4,534.9 423.6,532.6 423.9,529.4 424.2,535.6 424.5,529.9 424.7,531.1 425.0,531.5 425.3,532.6 425.6,529.7 425.8,530.7 426.1,530.4 426.4,531.7 426.6,529.4 426.9,530.3 427.2,528.0 427.5,535.4 427.7,532.6 428.0,534.3 428.3,529.7 428.6,527.2 428.8,527.5 429.1,528.4 429.4,532.6 429.7,530.5 429.9,530.1 430.2,528.4 430.5,535.3 430.8,528.2 431.0,530.9 431.3,530.7 431.6,531.1 431.8,531.0 432.1,532.3 432.4,537.7 432.7,534.1 432.9,532.2 433.2,529.0 433.5,535.1 433.8,535.2 434.0,530.2 434.3,532.8 434.6,526.0 434.9,529.1 435.1,534.2 435.4,527.4 435.7,533.1 435.9,534.2 436.2,528.2 436.5,531.3 436.8,535.1 437.0,537.3 437.3,531.8 437.6,535.2 437.9,529.7 438.1,530.1 438.4,532.7 438.7,533.5 439.0,532.2 439.2,534.5 439.5,533.8 439.8,535.0 440.1,533.8 440.3,532.1 440.6,532.3 440.9,531.8 441.1,532.4 441.4,534.7 441.7,534.5 442.0,535.3 442.2,534.3 442.5,534.3 442.8,530.2 443.1,531.3 443.3,531.0 443.6,530.3 443.9,526.2 444.2,533.7 444.4,529.5 444.7,530.2 445.0,530.2 445.2,535.7 445.5,533.0 445.8,535.5 446.1,531.9 446.3,533.8 446.6,533.9 446.9,531.6 447.2,532.3 447.4,527.9 447.7,529.4 448.0,532.1 448.3,526.4 448.5,532.4 448.8,532.3 449.1,530.3 449.4,533.7 449.6,533.0 449.9,534.5 450.2,532.3 450.4,533.3 450.7,532.6 451.0,528.6 451.3,531.8 451.5,531.5 451.8,532.0 452.1,531.9 452.4,533.7 452.6,531.6 452.9,530.1 453.2,533.1 453.5,526.8 453.7,528.4 454.0,534.6 454.3,528.3 454.5,532.4 454.8,529.2 455.1,533.3 455.4,532.5 455.6,534.1 455.9,533.0 456.2,534.5 456.5,529.6 456.7,535.3 457.0,530.7 457.3,533.7 457.6,531.3 457.8,534.4 458.1,532.8 458.4,532.3 458.6,533.2 458.9,531.7 459.2,531.8 459.5,535.1 459.7,533.2 460.0,532.1 460.3,530.9 460.6,534.6 460.8,530.0 461.1,531.7 461.4,529.1 461.7,530.4 461.9,531.4 462.2,532.6 462.5,531.7 462.8,534.0 463.0,527.6 463.3,536.7 463.6,533.2 463.8,533.0 464.1,529.9 464.4,534.1 464.7,530.1 464.9,531.8 465.2,532.4 465.5,533.2 465.8,533.1 466.0,529.9 466.3,529.0 466.6,535.0 466.9,533.8 467.1,533.3 467.4,533.0 467.7,533.2 467.9,527.7 468.2,532.1 468.5,534.3 468.8,532.3 469.0,533.8 469.3,533.1 469.6,531.1 469.9,530.3 470.1,531.8 470.4,534.5 470.7,528.4 471.0,534.2 471.2,527.7 471.5,536.7 471.8,531.7 472.1,532.5 472.3,531.1 472.6,534.3 472.9,530.5 473.1,535.3 473.4,537.2 473.7,532.2 474.0,530.2 474.2,534.0 474.5,530.5 474.8,531.4 475.1,532.7 475.3,534.6 475.6,529.7 475.9,533.8 476.2,533.4 476.4,531.9 476.7,533.8 477.0,532.4 477.2,531.3 477.5,527.6 477.8,526.5 478.1,532.3 478.3,533.7 478.6,529.8 478.9,531.4 479.2,535.7 479.4,534.1 479.7,528.1 480.0,533.6 480.3,531.4 480.5,533.2 480.8,532.2 481.1,529.8 481.3,536.7 481.6,526.0 481.9,529.5 482.2,534.5 482.4,531.6 482.7,532.5 483.0,529.5 483.3,533.5 483.5,529.9 483.8,528.9 484.1,528.9 484.4,534.2 484.6,531.4 484.9,533.2 485.2,532.4 485.5,531.1 485.7,528.8 486.0,532.2 486.3,533.0 486.5,528.9 486.8,530.1 487.1,529.5 487.4,526.7 487.6,532.2 487.9,532.9 488.2,531.3 488.5,532.1 488.7,531.9 489.0,534.3 489.3,533.4 489.6,533.7 489.8,529.8 490.1,532.7 490.4,531.5 490.6,529.0 490.9,532.6 491.2,527.7 491.5,528.9 491.7,534.0 492.0,533.0 492.3,527.2 492.6,532.4 492.8,531.8 493.1,530.8 493.4,528.8 493.7,530.8 493.9,533.1 494.2,535.7 494.5,533.5 494.8,529.5 495.0,533.1 495.3,536.3 495.6,531.0 495.8,528.6 496.1,534.0 496.4,530.1 496.7,531.6 496.9,532.3 497.2,531.0 497.5,531.4 497.8,533.0 498.0,533.2 498.3,532.2 498.6,533.3 498.9,532.2 499.1,530.0 499.4,535.6 499.7,532.3 499.9,532.7 500.2,533.9 500.5,531.2 500.8,528.3 501.0,527.5 501.3,530.5 501.6,533.8 501.9,532.3 502.1,532.8 502.4,530.3 502.7,528.1 503.0,530.7 503.2,527.1 503.5,529.3 503.8,532.4 504.1,529.7 504.3,527.8 504.6,532.3 504.9,532.2 505.1,531.4 505.4,526.8 505.7,532.6 506.0,530.3 506.2,532.2 506.5,533.4 506.8,532.0 507.1,533.9 507.3,532.6 507.6,529.9 507.9,529.7 508.2,535.4 508.4,536.1 508.7,530.4 509.0,531.8 509.2,532.2 509.5,533.0 509.8,527.6 510.1,533.1 510.3,531.7 510.6,531.8 510.9,530.4 511.2,534.6 511.4,530.6 511.7,535.5 512.0,535.0 512.3,530.2 512.5,533.6 512.8,533.7 513.1,530.7 513.3,526.3 513.6,530.7 513.9,532.2 514.2,536.6 514.4,534.4 514.7,533.6 515.0,532.0 515.3,533.5 515.5,529.4 515.8,529.4 516.1,528.3 516.4,528.6 516.6,530.9 516.9,535.8 517.2,527.9 517.5,531.8 517.7,531.2 518.0,526.8 518.3,530.7 518.5,526.0 518.8,533.5 519.1,532.9 519.4,529.1 519.6,529.9 519.9,529.6 520.2,529.2 520.5,532.4 520.7,528.0 521.0,529.8 521.3,527.8 521.6,533.2 521.8,530.8 522.1,532.9 522.4,528.5 522.6,524.3 522.9,531.7 523.2,531.1 523.5,532.3 523.7,530.1 524.0,531.7 524.3,532.1 524.6,528.8 524.8,524.9 525.1,531.4 525.4,530.3 525.7,528.8 525.9,526.9 526.2,533.7 526.5,530.0 526.8,529.9 527.0,527.4 527.3,527.8 527.6,530.0 527.8,526.4 528.1,532.2 528.4,528.2 528.7,532.2 528.9,529.5 529.2,527.2 529.5,533.7 529.8,528.8 530.0,527.7 530.3,531.0 530.6,529.7 530.9,528.7 531.1,524.0 531.4,524.5 531.7,530.5 531.9,527.1 532.2,529.4 532.5,526.1 532.8,528.7 533.0,523.8 533.3,527.3 533.6,531.1 533.9,528.2 534.1,526.7 534.4,527.2 534.7,527.3 535.0,531.6 535.2,527.4 535.5,527.9 535.8,525.6 536.0,527.9 536.3,527.5 536.6,524.6 536.9,522.2 537.1,525.4 537.4,528.5 537.7,524.2 538.0,524.5 538.2,527.8 538.5,524.6 538.8,520.1 539.1,528.2 539.3,524.3 539.6,522.5 539.9,522.9 540.2,524.3 540.4,521.5 540.7,526.6 541.0,523.0 541.2,523.0 541.5,521.7 541.8,519.2 542.1,520.4 542.3,523.6 542.6,517.6 542.9,517.7 543.2,518.2 543.4,514.8 543.7,517.8 544.0,511.9 544.3,514.8 544.5,510.5 544.8,511.0 545.1,509.9 545.3,515.8 545.6,506.7 545.9,509.2 546.2,506.3 546.4,501.9 546.7,504.3 547.0,500.3 547.3,494.6 547.5,492.3 547.8,495.0 548.1,493.0 548.4,486.4 548.6,488.3 548.9,484.9 549.2,484.5 549.5,479.0 549.7,478.3 550.0,475.1 550.3,474.2 550.5,472.6 550.8,472.3 551.1,460.2 551.4,461.9 551.6,455.8 551.9,452.2 552.2,447.6 552.5,447.8 552.7,446.5 553.0,442.8 553.3,441.3 553.6,438.6 553.8,436.8 554.1,433.3 554.4,431.8 554.6,429.4 554.9,425.8 555.2,421.8 555.5,420.1 555.7,424.3 556.0,419.6 556.3,423.9 556.6,420.4 556.8,419.7 557.1,421.6 557.4,423.5 557.7,428.9 557.9,424.3 558.2,425.6 558.5,429.8 558.8,433.5 559.0,432.8 559.3,434.0 559.6,439.4 559.8,441.5 560.1,444.7 560.4,442.7 560.7,450.9 560.9,452.4 561.2,457.9 561.5,457.5 561.8,462.2 562.0,463.4 562.3,472.3 562.6,466.0 562.9,470.1 563.1,473.2 563.4,470.4 563.7,479.1 563.9,487.0 564.2,487.2 564.5,490.4 564.8,489.7 565.0,490.7 565.3,493.9 565.6,493.1 565.9,494.0 566.1,502.6 566.4,501.7 566.7,506.6 567.0,501.6 567.2,506.6 567.5,504.2 567.8,512.7 568.0,510.5 568.3,509.0 568.6,510.1 568.9,516.5 569.1,511.9 569.4,514.8 569.7,516.2 570.0,514.6 570.2,521.2 570.5,522.6 570.8,517.7 571.1,520.0 571.3,521.8 571.6,522.1 571.9,522.8 572.2,518.9 572.4,522.1 572.7,519.2 573.0,522.5 573.2,524.3 573.5,525.4 573.8,518.9 574.1,524.6 574.3,521.1 574.6,525.6 574.9,525.7 575.2,525.4 575.4,527.4 575.7,526.0 576.0,523.8 576.3,525.0 576.5,526.8 576.8,522.4 577.1,525.7 577.3,527.3 577.6,524.1 577.9,529.5 578.2,529.3 578.4,528.2 578.7,526.8 579.0,526.4 579.3,528.6 579.5,528.4 579.8,529.7 580.1,526.0 580.4,529.1 580.6,530.3 580.9,525.7 581.2,528.2 581.5,528.1 581.7,527.6 582.0,530.3 582.3,527.8 582.5,529.9 582.8,529.3 583.1,530.1 583.4,528.0 583.6,527.1 583.9,530.1 584.2,528.8 584.5,530.6 584.7,527.7 585.0,527.6 585.3,530.5 585.6,529.3 585.8,528.7 586.1,530.6 586.4,528.7 586.6,529.6 586.9,530.4 587.2,526.8 587.5,531.5 587.7,529.3 588.0,528.8 588.3,529.3 588.6,528.1 588.8,525.5 589.1,529.7 589.4,528.6 589.7,533.3 589.9,533.0 590.2,528.6 590.5,530.5 590.7,532.2 591.0,530.7 591.3,529.6 591.6,529.2 591.8,527.7 592.1,531.9 592.4,531.4 592.7,530.4 592.9,530.1 593.2,533.9 593.5,531.1 593.8,533.1 594.0,527.5 594.3,528.3 594.6,528.4 594.9,531.8 595.1,529.5 595.4,533.2 595.7,530.6 595.9,532.5 596.2,529.6 596.5,532.3 596.8,529.7 597.0,530.3 597.3,528.3 597.6,526.6 597.9,528.0 598.1,531.1 598.4,531.1 598.7,527.0 599.0,528.0 599.2,527.5 599.5,531.8 599.8,528.7 600.0,528.4 600.3,531.6 600.6,529.3 600.9,531.7 601.1,532.3 601.4,529.4 601.7,526.9 602.0,530.1 602.2,535.4 602.5,528.3 602.8,533.6 603.1,529.3 603.3,528.6 603.6,533.9 603.9,529.8 604.2,526.1 604.4,527.8 604.7,528.9 605.0,529.5 605.2,533.5 605.5,532.8 605.8,530.8 606.1,531.7 606.3,529.7 606.6,527.1 606.9,530.8 607.2,530.3 607.4,532.8 607.7,531.5 608.0,533.3 608.3,529.9 608.5,530.0 608.8,529.8 609.1,529.0 609.3,533.2 609.6,531.2 609.9,528.2 610.2,529.5 610.4,535.0 610.7,536.0 611.0,533.9 611.3,531.2 611.5,534.4 611.8,530.8 612.1,528.3 612.4,531.1 612.6,528.5 612.9,530.4 613.2,535.8 613.5,532.1 613.7,531.4 614.0,532.7 614.3,529.9 614.5,531.5 614.8,528.8 615.1,527.9 615.4,529.8 615.6,528.3 615.9,526.0 616.2,529.7 616.5,528.6 616.7,528.9 617.0,534.0 617.3,532.2 617.6,533.0 617.8,530.4 618.1,528.6 618.4,528.9 618.6,534.8 618.9,524.7 619.2,529.7 619.5,531.3 619.7,527.5 620.0,533.1 620.3,529.0 620.6,530.8 620.8,534.3 621.1,532.8 621.4,530.4 621.7,530.6 621.9,534.1 622.2,535.1 622.5,532.0 622.7,526.8 623.0,529.9 623.3,533.2 623.6,529.3 623.8,530.3 624.1,528.8 624.4,530.0 624.7,533.1 624.9,532.5 625.2,528.6 625.5,533.8 625.8,527.8 626.0,533.1 626.3,532.9 626.6,528.1 626.9,526.9 627.1,533.2 627.4,532.5 627.7,531.5 627.9,529.3 628.2,531.9 628.5,527.7 628.8,532.7 629.0,536.1 629.3,530.6 629.6,533.3 629.9,529.1 630.1,531.7 630.4,530.5 630.7,531.9 631.0,530.3 631.2,527.1 631.5,533.3 631.8,528.3 632.0,533.3 632.3,528.2 632.6,532.6 632.9,531.7 633.1,529.7 633.4,533.0 633.7,531.4 634.0,534.3 634.2,532.3 634.5,533.5 634.8,526.3 635.1,533.8 635.3,530.2 635.6,530.2 635.9,527.8 636.2,529.1 636.4,530.0 636.7,530.8 637.0,530.8 637.2,529.8 637.5,531.0 637.8,532.5 638.1,529.5 638.3,529.1 638.6,532.9 638.9,531.5 639.2,528.4 639.4,532.0 639.7,531.4 640.0,535.3 640.3,532.4 640.5,532.2 640.8,530.2 641.1,528.3 641.3,530.2 641.6,529.8 641.9,529.7 642.2,532.8 642.4,528.0 642.7,534.1 643.0,528.0 643.3,527.1 643.5,532.3 643.8,529.6 644.1,528.5 644.4,531.0 644.6,528.9 644.9,530.3 645.2,529.1 645.4,530.2 645.7,528.0 646.0,531.4 646.3,528.8 646.5,529.9 646.8,524.8 647.1,530.7 647.4,528.3 647.6,529.0 647.9,528.7 648.2,528.1 648.5,527.1 648.7,531.3 649.0,528.1 649.3,528.7 649.6,528.3 649.8,527.4 650.1,531.4 650.4,527.4 650.6,529.6 650.9,526.9 651.2,525.4 651.5,525.3 651.7,529.6 652.0,524.0 652.3,524.5 652.6,526.8 652.8,529.4 653.1,526.4 653.4,530.4 653.7,527.5 653.9,527.3 654.2,531.1 654.5,528.7 654.7,526.5 655.0,526.2 655.3,529.1 655.6,530.3 655.8,526.4 656.1,526.6 656.4,529.2 656.7,525.2 656.9,527.5 657.2,527.0 657.5,526.0 657.8,524.1 658.0,520.8 658.3,525.4 658.6,522.9 658.9,526.1 659.1,524.1 659.4,524.2 659.7,528.1 659.9,526.2 660.2,522.3 660.5,526.2 660.8,523.2 661.0,520.9 661.3,523.8 661.6,523.3 661.9,525.1 662.1,524.9 662.4,524.8 662.7,520.5 663.0,521.5 663.2,517.3 663.5,521.6 663.8,520.0 664.0,515.2 664.3,521.0 664.6,520.1 664.9,515.0 665.1,513.0 665.4,516.7 665.7,517.4 666.0,516.0 666.2,518.8 666.5,520.1 666.8,514.3 667.1,512.8 667.3,511.4 667.6,516.3 667.9,510.6 668.2,511.1 668.4,510.5 668.7,509.7 669.0,507.1 669.2,509.2 669.5,504.8 669.8,502.5 670.1,498.0 670.3,498.0 670.6,497.0 670.9,497.8 671.2,492.1 671.4,492.0 671.7,488.9 672.0,480.6 672.3,485.5 672.5,486.7 672.8,476.6 673.1,480.5 673.3,472.1 673.6,471.5 673.9,469.8 674.2,469.9 674.4,465.1 674.7,462.9 675.0,462.9 675.3,461.0 675.5,456.3 675.8,456.4 676.1,457.3 676.4,454.0 676.6,449.4 676.9,451.8 677.2,447.6 677.4,457.6 677.7,453.0 678.0,449.1 678.3,453.4 678.5,457.2 678.8,459.6 679.1,459.3 679.4,460.8 679.6,461.7 679.9,468.7 680.2,472.0 680.5,472.1 680.7,474.3 681.0,476.7 681.3,477.4 681.6,480.3 681.8,484.9 682.1,486.5 682.4,489.1 682.6,488.4 682.9,494.1 683.2,491.7 683.5,499.1 683.7,497.4 684.0,500.2 684.3,499.5 684.6,502.4 684.8,502.2 685.1,505.7 685.4,502.4 685.7,510.6 685.9,509.5 686.2,511.7 686.5,510.8 686.7,513.2 687.0,511.3 687.3,511.7 687.6,513.6 687.8,511.9 688.1,517.8 688.4,515.8 688.7,516.8 688.9,515.9 689.2,519.7 689.5,521.4 689.8,518.7 690.0,522.4 690.3,521.1 690.6,521.3 690.9,517.3 691.1,519.5 691.4,524.7 691.7,524.8 691.9,527.7 692.2,521.6 692.5,525.1 692.8,520.1 693.0,521.9 693.3,521.6 693.6,522.4 693.9,525.3 694.1,528.1 694.4,525.5 694.7,522.4 695.0,528.5 695.2,526.5 695.5,522.3 695.8,529.2 696.0,526.3 696.3,528.1 696.6,525.0 696.9,525.4 697.1,527.7 697.4,523.1 697.7,527.1 698.0,529.1 698.2,528.2 698.5,527.1 698.8,526.4 699.1,526.5 699.3,530.9 699.6,528.2 699.9,528.0 700.1,525.6 700.4,528.6 700.7,529.5 701.0,522.6 701.2,531.7 701.5,529.7 701.8,527.4 702.1,523.7 702.3,533.5 702.6,529.5 702.9,526.7 703.2,524.5 703.4,530.2 703.7,523.6 704.0,527.7 704.3,527.0 704.5,524.8 704.8,525.9 705.1,525.9 705.3,529.5 705.6,528.3 705.9,529.9 706.2,524.8 706.4,530.1 706.7,527.8 707.0,529.7 707.3,526.0 707.5,527.7 707.8,524.2 708.1,529.0 708.4,526.4 708.6,524.5 708.9,525.4 709.2,525.7 709.4,521.1 709.7,525.4 710.0,522.4 710.3,524.5 710.5,524.9 710.8,529.8 711.1,525.1 711.4,520.8 711.6,525.0 711.9,520.8 712.2,520.9 712.5,521.4 712.7,525.2 713.0,526.8 713.3,524.3 713.6,519.4 713.8,522.7 714.1,524.2 714.4,516.2 714.6,521.2 714.9,527.9 715.2,518.6 715.5,519.5 715.7,519.1 716.0,525.2 716.3,524.2 716.6,523.8 716.8,524.9 717.1,520.6 717.4,517.8 717.7,523.7 717.9,518.7 718.2,524.3 718.5,524.2 718.7,523.5 719.0,526.4 719.3,524.5 719.6,520.9 719.8,522.2 720.1,525.9 720.4,523.0 720.7,526.3 720.9,524.4 721.2,525.9 721.5,523.3 721.8,525.4 722.0,522.2 722.3,524.6 722.6,527.8 722.9,525.2 723.1,524.8 723.4,529.3 723.7,529.3 723.9,525.0 724.2,528.4 724.5,529.3 724.8,526.2 725.0,526.7 725.3,528.3 725.6,532.4 725.9,529.0 726.1,529.1 726.4,523.2 726.7,530.4 727.0,531.9 727.2,527.3 727.5,531.8 727.8,530.9 728.0,532.1 728.3,530.3 728.6,530.5 728.9,536.4 729.1,535.0 729.4,528.7 729.7,527.0 730.0,531.9 730.2,532.1 730.5,531.4 730.8,530.9 731.1,534.6 731.3,524.4 731.6,529.1 731.9,532.9 732.1,532.7 732.4,532.7 732.7,529.9 733.0,535.6 733.2,534.0 733.5,533.7 733.8,532.9 734.1,528.5 734.3,530.5 734.6,528.9 734.9,531.9 735.2,528.4 735.4,531.8 735.7,530.3 736.0,531.8 736.3,526.7 736.5,529.3 736.8,532.1 737.1,533.5 737.3,528.9 737.6,533.4 737.9,537.8 738.2,531.6 738.4,530.1 738.7,527.7 739.0,528.2 739.3,530.7 739.5,531.3 739.8,533.3 740.1,536.2 740.4,530.0 740.6,532.7 740.9,535.6 741.2,533.6 741.4,532.8 741.7,532.8 742.0,529.4 742.3,529.2 742.5,534.2 742.8,535.6 743.1,535.0 743.4,534.9 743.6,536.4 743.9,536.0 744.2,531.8 744.5,533.3 744.7,527.5 745.0,535.1 745.3,533.1 745.6,533.0 745.8,535.0 746.1,529.7 746.4,533.1 746.6,530.8 746.9,536.4 747.2,529.9 747.5,531.5 747.7,533.8 748.0,536.7 748.3,532.8 748.6,529.6 748.8,531.2 749.1,533.6 749.4,534.1 749.7,530.0 749.9,535.5 750.2,530.9 750.5,530.8 750.7,532.5 751.0,530.2 751.3,530.1 751.6,532.4 751.8,527.4 752.1,532.1 752.4,530.2 752.7,533.6 752.9,530.8 753.2,535.0 753.5,533.7 753.8,534.1 754.0,533.5 754.3,531.0 754.6,533.9 754.8,534.4 755.1,533.3 755.4,533.8 755.7,533.8 755.9,532.5 756.2,531.8 756.5,533.3 756.8,533.4 757.0,534.5 757.3,535.9 757.6,532.4 757.9,532.1 758.1,537.6 758.4,533.0 758.7,533.1 759.0,531.3 759.2,534.1 759.5,528.2 759.8,531.5 760.0,532.6 760.3,531.6 760.6,533.7 760.9,535.8 761.1,534.0 761.4,532.3 761.7,527.7 762.0,531.4 762.2,536.0 762.5,536.6 762.8,534.5 763.1,535.1 763.3,535.0 763.6,529.8 763.9,532.2 764.1,531.9 764.4,534.5 764.7,535.6 765.0,533.3 765.2,537.4 765.5,532.8 765.8,531.9 766.1,531.9 766.3,528.5 766.6,534.8 766.9,532.0 767.2,534.6 767.4,534.2 767.7,534.4 768.0,529.4 768.3,532.3 768.5,532.6 768.8,533.9 769.1,530.9 769.3,530.8 769.6,535.8 769.9,529.9 770.2,533.7 770.4,530.7 770.7,535.0 771.0,532.1 771.3,532.3 771.5,531.1 771.8,528.7 772.1,537.2 772.4,533.1 772.6,536.6 772.9,534.8 773.2,531.0 773.4,532.1 773.7,534.6 774.0,533.4 774.3,531.7 774.5,534.2 774.8,535.3 775.1,536.1 775.4,537.2 775.6,533.6 775.9,532.6 776.2,532.6 776.5,527.6 776.7,536.5 777.0,537.2 777.3,524.8 777.6,533.7 777.8,532.2 778.1,532.8 778.4,529.3 778.6,533.1 778.9,528.6 779.2,534.8 779.5,535.5 779.7,536.2 780.0,529.5 780.3,530.6 780.6,531.9 780.8,536.4 781.1,532.8 781.4,536.9 781.7,533.7 781.9,534.8 782.2,530.0 782.5,529.4 782.7,531.5 783.0,530.5 783.3,529.9 783.6,534.6 783.8,536.9 784.1,531.6 784.4,533.1 784.7,536.4 784.9,533.5 785.2,535.1 785.5,535.1 785.8,536.2 786.0,536.1 786.3,534.1 786.6,531.2 786.8,536.0 787.1,530.9 787.4,533.8 787.7,534.6 787.9,540.2 788.2,535.2 788.5,534.6 788.8,532.8 789.0,533.2 789.3,530.1 789.6,528.4 789.9,533.2 790.1,534.0 790.4,532.5 790.7,532.9 791.0,532.9 791.2,537.7 791.5,532.1 791.8,538.0 792.0,531.9 792.3,533.1 792.6,533.5 792.9,535.0 793.1,537.0 793.4,536.0 793.7,536.2 794.0,534.4 794.2,533.7 794.5,533.4 794.8,531.0 795.1,538.8 795.3,533.5 795.6,532.0 795.9,530.9 796.1,533.0 796.4,531.2 796.7,536.0 797.0,536.3 797.2,532.1 797.5,536.6 797.8,535.5 798.1,534.5 798.3,534.3 798.6,533.0 798.9,535.8 799.2,529.7 799.4,535.4 799.7,533.5 800.0,528.3 800.3,532.9 800.5,534.0 800.8,535.1 801.1,533.8 801.3,531.4 801.6,534.2 801.9,533.9 802.2,526.0 802.4,530.9 802.7,532.7 803.0,532.0 803.3,533.9 803.5,538.3 803.8,533.5 804.1,532.4 804.4,533.3 804.6,531.3 804.9,532.1 805.2,531.7 805.4,534.8 805.7,532.2 806.0,533.7 806.3,534.2 806.5,531.0 806.8,534.8 807.1,537.2 807.4,532.9 807.6,534.0 807.9,536.0 808.2,536.5 808.5,534.1 808.7,532.9 809.0,534.7 809.3,530.9 809.5,531.6 809.8,532.1 810.1,534.4 810.4,530.8 810.6,534.0 810.9,529.5 811.2,531.1 811.5,531.3 811.7,534.7 812.0,537.5 812.3,529.7 812.6,534.0 812.8,533.1 813.1,534.3 813.4,532.0 813.7,535.3 813.9,528.5 814.2,535.6 814.5,536.7 814.7,531.4 815.0,533.7 815.3,530.7 815.6,532.5 815.8,532.7 816.1,527.0 816.4,535.3 816.7,534.8 816.9,537.6 817.2,533.1 817.5,533.6 817.8,536.0 818.0,529.0 818.3,534.5 818.6,532.5 818.8,537.7 819.1,532.9 819.4,535.6 819.7,532.3 819.9,525.7 820.2,536.5 820.5,535.8 820.8,535.7 821.0,532.6 821.3,536.1 821.6,531.0 821.9,531.4 822.1,535.5 822.4,535.1 822.7,537.6 823.0,531.6 823.2,534.3 823.5,534.5 823.8,535.8 824.0,530.7 824.3,533.5 824.6,532.3 824.9,534.5 825.1,540.1 825.4,534.9 825.7,536.9 826.0,534.7 826.2,532.4 826.5,533.9 826.8,533.2 827.1,532.9 827.3,535.2 827.6,534.5 827.9,531.2 828.1,528.2 828.4,531.9 828.7,534.1 829.0,536.4 829.2,533.5 829.5,534.3 829.8,535.5 830.1,535.8 830.3,531.3 830.6,532.5 830.9,534.6 831.2,531.7 831.4,530.9 831.7,532.3 832.0,533.0 832.3,535.4 832.5,531.8 832.8,531.0 833.1,532.0 833.3,534.9 833.6,528.7 833.9,533.6 834.2,535.2 834.4,531.9 834.7,531.4 835.0,530.0 835.3,530.6 835.5,532.3 835.8,535.6 836.1,533.9 836.4,531.6 836.6,529.1 836.9,529.7 837.2,535.0 837.4,529.1 837.7,534.6 838.0,532.6 838.3,534.6 838.5,533.0 838.8,530.8 839.1,532.0 839.4,531.0 839.6,529.0 839.9,531.3 840.2,531.6 840.5,529.1 840.7,531.0 841.0,533.2 841.3,531.4 841.5,528.8 841.8,534.9 842.1,529.6 842.4,533.8 842.6,531.9 842.9,533.6 843.2,531.5 843.5,528.2 843.7,533.6 844.0,528.9 844.3,527.1 844.6,526.9 844.8,531.2 845.1,529.0 845.4,528.9 845.7,526.4 845.9,534.2 846.2,531.3 846.5,531.9 846.7,529.9 847.0,532.0 847.3,528.0 847.6,532.2 847.8,528.7 848.1,527.6 848.4,530.3 848.7,529.3 848.9,529.0 849.2,524.3 849.5,525.5 849.8,524.5 850.0,525.5 850.3,527.4 850.6,524.6 850.8,526.8 851.1,524.0 851.4,525.5 851.7,527.4 851.9,528.6 852.2,530.1 852.5,526.0 852.8,526.0 853.0,528.6 853.3,521.2 853.6,522.3 853.9,526.8 854.1,526.9 854.4,528.8 854.7,528.3 855.0,527.9 855.2,525.9 855.5,524.0 855.8,526.7 856.0,519.4 856.3,523.3 856.6,520.1 856.9,523.1 857.1,516.9 857.4,524.7 857.7,523.5 858.0,526.3 858.2,520.0 858.5,523.0 858.8,526.1 859.1,520.0 859.3,523.8 859.6,519.2 859.9,528.9 860.1,522.4 860.4,524.9 860.7,525.7 861.0,520.9 861.2,523.9 861.5,521.6 861.8,527.0 862.1,529.3 862.3,520.7 862.6,526.2 862.9,523.1 863.2,527.6 863.4,528.2 863.7,529.3 864.0,528.8 864.2,523.7 864.5,524.6 864.8,527.7 865.1,529.6 865.3,526.3 865.6,527.4 865.9,529.6 866.2,529.1 866.4,531.4 866.7,526.5 867.0,530.4 867.3,529.6 867.5,529.8 867.8,529.3 868.1,528.5 868.4,533.1 868.6,528.6 868.9,531.1 869.2,530.5 869.4,528.8 869.7,531.2 870.0,531.4 870.3,534.4 870.5,529.0 870.8,532.3 871.1,532.3 871.4,533.3 871.6,529.6 871.9,531.9 872.2,528.4 872.5,532.2 872.7,534.1 873.0,535.1 873.3,526.5 873.5,530.8 873.8,532.6 874.1,527.7 874.4,537.7 874.6,532.7 874.9,528.0 875.2,539.3 875.5,533.2 875.7,527.6 876.0,530.1 876.3,530.5 876.6,532.1 876.8,536.2 877.1,530.8 877.4,531.2 877.7,532.5 877.9,533.8 878.2,533.2 878.5,529.5 878.7,534.6 879.0,530.6 879.3,530.8 879.6,538.4 879.8,528.6 880.1,532.7 880.4,530.3 880.7,534.5 880.9,533.8 881.2,530.7 881.5,531.8 881.8,531.7 882.0,534.1 882.3,529.0 882.6,533.8 882.8,533.7 883.1,533.0 883.4,532.0 883.7,534.7 883.9,534.4 884.2,533.6 884.5,533.3 884.8,534.8 885.0,534.7 885.3,530.6 885.6,530.3 885.9,532.3 886.1,531.5 886.4,531.9 886.7,532.8 887.0,536.5 887.2,533.5 887.5,533.8 887.8,535.3 888.0,531.8 888.3,532.6 888.6,529.0 888.9,531.3 889.1,534.8 889.4,532.4 889.7,532.6 890.0,537.0 890.2,537.3 890.5,533.8 890.8,531.4 891.1,530.5 891.3,533.4 891.6,530.8 891.9,533.3 892.1,532.2 892.4,533.0 892.7,532.5 893.0,536.2 893.2,533.0 893.5,537.2 893.8,532.4 894.1,537.1 894.3,531.1 894.6,534.0 894.9,532.6 895.2,531.0 895.4,538.2 895.7,533.8 896.0,531.2 896.2,529.8 896.5,534.7 896.8,535.0 897.1,533.7 897.3,531.9 897.6,532.2 897.9,530.4 898.2,532.0 898.4,532.4 898.7,534.8 899.0,535.1 899.3,530.7 899.5,528.6 899.8,537.5 900.1,533.5 900.4,531.5 900.6,533.7 900.9,531.3 901.2,532.0 901.4,527.4 901.7,532.1 902.0,536.7 902.3,534.8 902.5,532.4 902.8,533.1 903.1,534.5 903.4,535.3 903.6,531.0 903.9,532.3 904.2,533.3 904.5,534.9 904.7,532.0 905.0,533.9 905.3,534.7 905.5,532.9 905.8,534.0 906.1,535.6 906.4,530.1 906.6,533.3 906.9,533.6 907.2,537.8 907.5,528.4 907.7,531.0 908.0,529.4 908.3,530.4 908.6,533.4 908.8,530.4 909.1,532.4 909.4,532.7 909.7,532.1 909.9,534.6 910.2,533.5 910.5,530.8 910.7,531.6 911.0,533.3 911.3,531.3 911.6,533.7 911.8,532.5 912.1,531.4 912.4,531.8 912.7,530.0 912.9,533.2 913.2,531.2 913.5,530.8 913.8,531.8 914.0,537.5 914.3,535.1 914.6,531.0 914.8,530.1 915.1,534.0 915.4,530.1 915.7,535.0 915.9,530.8 916.2,534.8 916.5,537.1 916.8,531.6 917.0,533.9 917.3,534.1 917.6,537.8 917.9,538.0 918.1,530.4 918.4,535.3 918.7,534.8 918.9,533.0 919.2,533.5 919.5,529.9 919.8,530.3 920.0,532.1 920.3,529.2 920.6,533.1 920.9,532.7 921.1,535.8 921.4,529.7 921.7,535.3 922.0,533.1 922.2,532.9 922.5,532.2 922.8,532.2 923.1,530.6 923.3,530.0 923.6,535.0 923.9,526.9 924.1,534.4 924.4,533.0 924.7,532.6 925.0,534.5 925.2,532.1 925.5,532.6 925.8,533.5 926.1,531.7 926.3,534.2 926.6,533.9 926.9,531.6 927.2,532.8 927.4,529.7 927.7,532.4 928.0,532.0 928.2,528.3 928.5,531.6 928.8,532.7 929.1,529.3 929.3,528.4 929.6,531.3 929.9,530.0 930.2,529.0 930.4,531.3 930.7,529.0 931.0,531.4 931.3,533.5 931.5,531.7 931.8,531.4 932.1,528.5 932.4,533.8 932.6,530.2 932.9,534.7 933.2,529.4 933.4,530.7 933.7,527.6 934.0,531.2 934.3,527.2 934.5,530.5 934.8,534.1 935.1,531.9 935.4,527.1 935.6,532.2 935.9,527.2 936.2,529.1 936.5,528.5 936.7,528.8 937.0,529.5 937.3,523.9 937.5,531.8 937.8,529.0 938.1,526.7 938.4,529.7 938.6,532.3 938.9,526.5 939.2,530.3 939.5,528.4 939.7,528.7 940.0,527.1 940.3,528.4 940.6,529.6 940.8,524.4 941.1,526.1 941.4,526.5 941.7,526.2 941.9,523.5 942.2,525.9 942.5,524.4 942.7,527.8 943.0,526.7 943.3,526.9 943.6,527.2 943.8,525.0 944.1,523.6 944.4,527.4 944.7,524.6 944.9,523.9 945.2,528.9 945.5,521.5 945.8,526.6 946.0,527.6 946.3,523.4 946.6,522.5 946.8,524.5 947.1,521.4 947.4,518.4 947.7,525.3 947.9,526.1 948.2,518.9 948.5,523.4 948.8,521.8 949.0,520.9 949.3,522.3 949.6,519.2 949.9,519.1 950.1,519.8 950.4,519.7 950.7,512.8 950.9,520.9 951.2,519.1 951.5,519.8 951.8,516.4 952.0,513.8 952.3,517.1 952.6,516.6 952.9,517.2 953.1,516.1 953.4,511.9 953.7,510.8 954.0,512.5 954.2,513.6 954.5,512.0 954.8,510.5 955.1,511.8 955.3,506.7 955.6,510.6 955.9,505.3 956.1,514.4 956.4,505.8 956.7,514.4 957.0,512.1 957.2,512.4 957.5,511.8 957.8,509.0 958.1,510.1 958.3,513.9 958.6,507.6 958.9,509.9 959.2,512.9 959.4,509.3 959.7,515.3 960.0,508.6 960.2,510.0 960.5,512.3 960.8,510.7 961.1,512.3 961.3,513.3 961.6,513.3 961.9,515.0 962.2,515.5 962.4,515.9 962.7,516.0 963.0,516.1 963.3,517.2 963.5,517.8 963.8,519.2 964.1,521.6 964.4,516.7 964.6,522.8 964.9,521.1 965.2,521.8 965.4,518.6 965.7,520.8 966.0,521.3 966.3,520.2 966.5,522.9 966.8,518.8 967.1,519.8 967.4,524.0 967.6,523.3 967.9,518.8 968.2,523.9 968.5,523.4 968.7,525.3 969.0,523.3 969.3,523.7 969.5,521.5 969.8,523.7 970.1,523.2 970.4,525.6 970.6,519.8 970.9,524.6 971.2,527.4 971.5,518.5 971.7,526.6 972.0,526.2 972.3,525.6 972.6,526.2 972.8,523.8 973.1,527.5 973.4,526.2 973.6,521.5 973.9,527.3 974.2,523.1 974.5,523.5 974.7,526.7 975.0,524.9 975.3,526.3 975.6,526.5 975.8,525.6 976.1,526.8 976.4,522.3 976.7,529.8 976.9,527.9 977.2,524.3 977.5,525.3 977.8,529.1 978.0,523.6 978.3,521.7 978.6,530.3 978.8,528.5 979.1,526.2 979.4,529.1 979.7,526.2 979.9,526.6 980.2,526.2 980.5,526.5 980.8,522.3 981.0,524.5 981.3,525.0 981.6,521.5 981.9,520.9 982.1,523.5 982.4,527.1 982.7,522.9 982.9,525.5 983.2,525.7 983.5,525.7 983.8,523.9 984.0,518.1 984.3,516.9 984.6,519.1 984.9,520.9 985.1,521.0 985.4,520.0 985.7,520.1 986.0,522.1 986.2,517.7 986.5,521.8 986.8,521.5 987.1,515.9 987.3,520.3 987.6,519.7 987.9,520.9 988.1,520.6 988.4,514.3 988.7,523.9 989.0,519.6 989.2,521.6 989.5,521.4 989.8,516.9 990.1,519.1 990.3,518.8 990.6,524.5 990.9,516.2 991.2,523.1 991.4,521.6 991.7,519.4 992.0,517.3 992.2,519.4 992.5,521.6 992.8,518.0 993.1,520.9 993.3,522.0 993.6,522.4 993.9,520.1 994.2,522.7 994.4,523.1 994.7,516.8 995.0,519.0 995.3,518.7 995.5,520.5 995.8,524.3 996.1,523.9 996.4,523.9 996.6,522.0 996.9,525.8 997.2,520.0 997.4,520.6 997.7,525.8 998.0,523.7 998.3,527.1 998.5,526.8 998.8,527.3 999.1,523.4 999.4,524.2 999.6,521.8 999.9,525.8 1000.2,526.0 1000.5,524.8 1000.7,525.7 1001.0,527.0"/>
<rect x="43.75" y="4.2" width="957.25" height="556" fill="none" stroke="#000" stroke-width="1.5"/>
<line x1="43.75" y1="561" x2="43.75" y2="568.6" stroke="#000" stroke-width="1.25" stroke-linecap="round"/><line x1="180.50" y1="561" x2="180.50" y2="568.6" stroke="#000" stroke-width="1.25" stroke-linecap="round"/><line x1="317.25" y1="561" x2="317.25" y2="568.6" stroke="#000" stroke-width="1.25" stroke-linecap="round"/><line x1="454.00" y1="561" x2="454.00" y2="568.6" stroke="#000" stroke-width="1.25" stroke-linecap="round"/><line x1="590.75" y1="561" x2="590.75" y2="568.6" stroke="#000" stroke-width="1.25" stroke-linecap="round"/><line x1="727.50" y1="561" x2="727.50" y2="568.6" stroke="#000" stroke-width="1.25" stroke-linecap="round"/><line x1="864.25" y1="561" x2="864.25" y2="568.6" stroke="#000" stroke-width="1.25" stroke-linecap="round"/><line x1="1001.00" y1="561" x2="1001.00" y2="568.6" stroke="#000" stroke-width="1.25" stroke-linecap="round"/>
<g font-size="29.0" fill="#000"><text transform="translate(43.75,603) scale(1,1.04)" text-anchor="middle">10</text><text transform="translate(180.50,603) scale(1,1.04)" text-anchor="middle">20</text><text transform="translate(317.25,603) scale(1,1.04)" text-anchor="middle">30</text><text transform="translate(454.00,603) scale(1,1.04)" text-anchor="middle">40</text><text transform="translate(590.75,603) scale(1,1.04)" text-anchor="middle">50</text><text transform="translate(727.50,603) scale(1,1.04)" text-anchor="middle">60</text><text transform="translate(864.25,603) scale(1,1.04)" text-anchor="middle">70</text><text transform="translate(1001.00,603) scale(1,1.04)" text-anchor="middle">80</text></g>
<text transform="translate(486.76,639.7) scale(1,1.04)" font-size="28.7">2θ (<tspan font-size="19.5" dx="0.9" dy="-10">o</tspan><tspan dx="0.3" dy="10">)</tspan></text>
<text transform="translate(25.7,405.51) rotate(-90) scale(1,1.04)" font-size="28.3">Intensity (a.u.)</text>
<g font-size="28.7"><text transform="translate(64.59,250.20) scale(1,1.04)" fill="#008000">Rh350Ce250</text><text transform="translate(67.93,330.20) scale(1,1.04)" fill="#0000FF">Rh350Ce25</text><text transform="translate(68.53,414.30) scale(1,1.04)" fill="#FF0000">Rh250Ce25</text><text transform="translate(60.43,495.00) scale(1,1.04)" fill="#000">Rh25Ce25</text></g>
</svg>
</body></html>
